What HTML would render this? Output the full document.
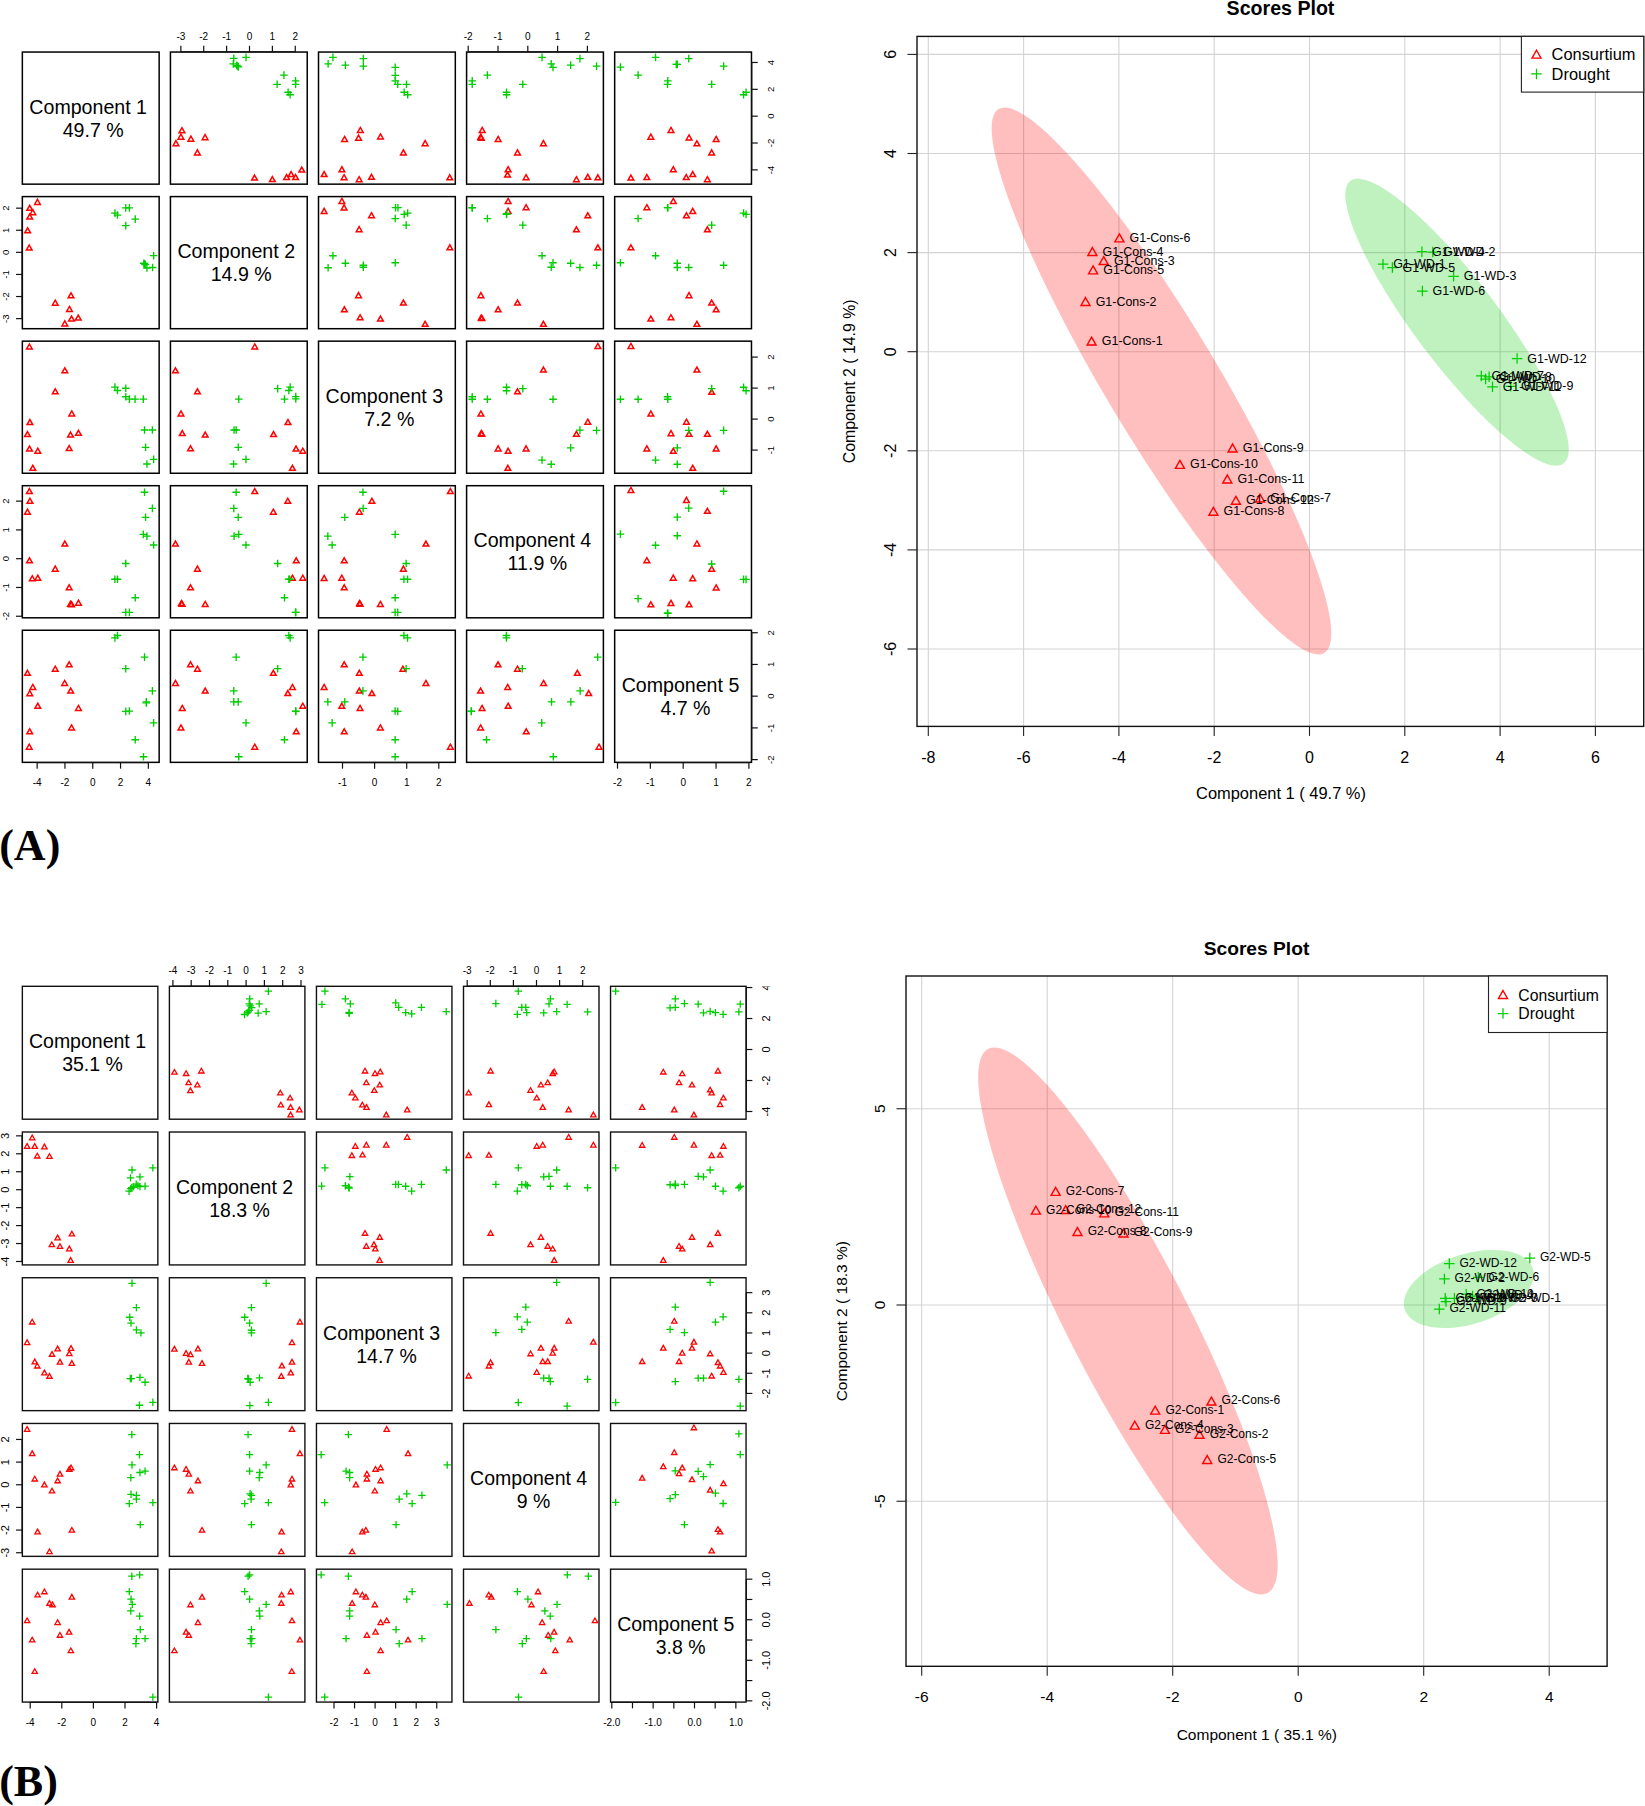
<!DOCTYPE html>
<html lang="en"><head><meta charset="utf-8"><title>Scores plots</title>
<style>html,body{margin:0;padding:0;background:#fff}svg{display:block}text{font-family:"Liberation Sans",sans-serif;fill:#000}.ser{font-family:"Liberation Serif",serif;font-weight:bold}</style></head><body>
<svg width="1645" height="1806" viewBox="0 0 1645 1806">
<rect width="1645" height="1806" fill="#fff"/>
<defs><clipPath id="clip4"><rect x="750" y="986.4" width="40" height="20"/></clipPath></defs>
<g>
<rect x="22.35" y="52.05" width="136.8" height="132.1" fill="none" stroke="#000" stroke-width="1.5"/>
<rect x="170.43" y="52.05" width="136.8" height="132.1" fill="none" stroke="#000" stroke-width="1.5"/>
<rect x="318.51" y="52.05" width="136.8" height="132.1" fill="none" stroke="#000" stroke-width="1.5"/>
<rect x="466.59" y="52.05" width="136.8" height="132.1" fill="none" stroke="#000" stroke-width="1.5"/>
<rect x="614.67" y="52.05" width="136.8" height="132.1" fill="none" stroke="#000" stroke-width="1.5"/>
<rect x="22.35" y="196.6" width="136.8" height="132.1" fill="none" stroke="#000" stroke-width="1.5"/>
<rect x="170.43" y="196.6" width="136.8" height="132.1" fill="none" stroke="#000" stroke-width="1.5"/>
<rect x="318.51" y="196.6" width="136.8" height="132.1" fill="none" stroke="#000" stroke-width="1.5"/>
<rect x="466.59" y="196.6" width="136.8" height="132.1" fill="none" stroke="#000" stroke-width="1.5"/>
<rect x="614.67" y="196.6" width="136.8" height="132.1" fill="none" stroke="#000" stroke-width="1.5"/>
<rect x="22.35" y="341.15" width="136.8" height="132.1" fill="none" stroke="#000" stroke-width="1.5"/>
<rect x="170.43" y="341.15" width="136.8" height="132.1" fill="none" stroke="#000" stroke-width="1.5"/>
<rect x="318.51" y="341.15" width="136.8" height="132.1" fill="none" stroke="#000" stroke-width="1.5"/>
<rect x="466.59" y="341.15" width="136.8" height="132.1" fill="none" stroke="#000" stroke-width="1.5"/>
<rect x="614.67" y="341.15" width="136.8" height="132.1" fill="none" stroke="#000" stroke-width="1.5"/>
<rect x="22.35" y="485.7" width="136.8" height="132.1" fill="none" stroke="#000" stroke-width="1.5"/>
<rect x="170.43" y="485.7" width="136.8" height="132.1" fill="none" stroke="#000" stroke-width="1.5"/>
<rect x="318.51" y="485.7" width="136.8" height="132.1" fill="none" stroke="#000" stroke-width="1.5"/>
<rect x="466.59" y="485.7" width="136.8" height="132.1" fill="none" stroke="#000" stroke-width="1.5"/>
<rect x="614.67" y="485.7" width="136.8" height="132.1" fill="none" stroke="#000" stroke-width="1.5"/>
<rect x="22.35" y="630.25" width="136.8" height="132.1" fill="none" stroke="#000" stroke-width="1.5"/>
<rect x="170.43" y="630.25" width="136.8" height="132.1" fill="none" stroke="#000" stroke-width="1.5"/>
<rect x="318.51" y="630.25" width="136.8" height="132.1" fill="none" stroke="#000" stroke-width="1.5"/>
<rect x="466.59" y="630.25" width="136.8" height="132.1" fill="none" stroke="#000" stroke-width="1.5"/>
<rect x="614.67" y="630.25" width="136.8" height="132.1" fill="none" stroke="#000" stroke-width="1.5"/>
<text x="88.15" y="113.5" font-size="19.6" text-anchor="middle" fill="#111">Component 1</text>
<text x="93.15" y="136.5" font-size="19.6" text-anchor="middle" fill="#111">49.7 %</text>
<text x="236.23" y="258.05" font-size="19.6" text-anchor="middle" fill="#111">Component 2</text>
<text x="241.23" y="281.05" font-size="19.6" text-anchor="middle" fill="#111">14.9 %</text>
<text x="384.31" y="402.6" font-size="19.6" text-anchor="middle" fill="#111">Component 3</text>
<text x="389.31" y="425.6" font-size="19.6" text-anchor="middle" fill="#111">7.2 %</text>
<text x="532.39" y="547.15" font-size="19.6" text-anchor="middle" fill="#111">Component 4</text>
<text x="537.39" y="570.15" font-size="19.6" text-anchor="middle" fill="#111">11.9 %</text>
<text x="680.47" y="691.7" font-size="19.6" text-anchor="middle" fill="#111">Component 5</text>
<text x="685.47" y="714.7" font-size="19.6" text-anchor="middle" fill="#111">4.7 %</text>
<path d="M181.93 127.66L184.78 132.68L179.08 132.68Z" fill="none" stroke="#ff0000" stroke-width="1.5" stroke-linejoin="miter"/>
<path d="M78.25 315.09L81.1 320.11L75.4 320.11Z" fill="none" stroke="#ff0000" stroke-width="1.5" stroke-linejoin="miter"/>
<path d="M180.93 134.14L183.78 139.16L178.08 139.16Z" fill="none" stroke="#ff0000" stroke-width="1.5" stroke-linejoin="miter"/>
<path d="M71.54 316.05L74.39 321.07L68.69 321.07Z" fill="none" stroke="#ff0000" stroke-width="1.5" stroke-linejoin="miter"/>
<path d="M190.9 136.14L193.75 141.15L188.05 141.15Z" fill="none" stroke="#ff0000" stroke-width="1.5" stroke-linejoin="miter"/>
<path d="M69.47 306.43L72.32 311.44L66.62 311.44Z" fill="none" stroke="#ff0000" stroke-width="1.5" stroke-linejoin="miter"/>
<path d="M205.06 134.64L207.91 139.66L202.21 139.66Z" fill="none" stroke="#ff0000" stroke-width="1.5" stroke-linejoin="miter"/>
<path d="M71.02 292.76L73.87 297.77L68.17 297.77Z" fill="none" stroke="#ff0000" stroke-width="1.5" stroke-linejoin="miter"/>
<path d="M175.94 140.62L178.79 145.64L173.09 145.64Z" fill="none" stroke="#ff0000" stroke-width="1.5" stroke-linejoin="miter"/>
<path d="M64.83 320.87L67.68 325.88L61.98 325.88Z" fill="none" stroke="#ff0000" stroke-width="1.5" stroke-linejoin="miter"/>
<path d="M197.38 149.89L200.23 154.91L194.53 154.91Z" fill="none" stroke="#ff0000" stroke-width="1.5" stroke-linejoin="miter"/>
<path d="M55.23 300.17L58.08 305.19L52.38 305.19Z" fill="none" stroke="#ff0000" stroke-width="1.5" stroke-linejoin="miter"/>
<path d="M254.51 175.02L257.36 180.04L251.66 180.04Z" fill="none" stroke="#ff0000" stroke-width="1.5" stroke-linejoin="miter"/>
<path d="M29.21 245L32.06 250.02L26.36 250.02Z" fill="none" stroke="#ff0000" stroke-width="1.5" stroke-linejoin="miter"/>
<path d="M272.35 176.51L275.2 181.53L269.5 181.53Z" fill="none" stroke="#ff0000" stroke-width="1.5" stroke-linejoin="miter"/>
<path d="M27.66 227.77L30.51 232.79L24.81 232.79Z" fill="none" stroke="#ff0000" stroke-width="1.5" stroke-linejoin="miter"/>
<path d="M286.61 174.52L289.46 179.54L283.76 179.54Z" fill="none" stroke="#ff0000" stroke-width="1.5" stroke-linejoin="miter"/>
<path d="M29.72 214L32.57 219.02L26.87 219.02Z" fill="none" stroke="#ff0000" stroke-width="1.5" stroke-linejoin="miter"/>
<path d="M291.1 171.53L293.95 176.55L288.25 176.55Z" fill="none" stroke="#ff0000" stroke-width="1.5" stroke-linejoin="miter"/>
<path d="M32.82 209.67L35.67 214.69L29.97 214.69Z" fill="none" stroke="#ff0000" stroke-width="1.5" stroke-linejoin="miter"/>
<path d="M295.58 174.52L298.43 179.54L292.73 179.54Z" fill="none" stroke="#ff0000" stroke-width="1.5" stroke-linejoin="miter"/>
<path d="M29.72 205.34L32.57 210.35L26.87 210.35Z" fill="none" stroke="#ff0000" stroke-width="1.5" stroke-linejoin="miter"/>
<path d="M301.77 167.04L304.62 172.06L298.92 172.06Z" fill="none" stroke="#ff0000" stroke-width="1.5" stroke-linejoin="miter"/>
<path d="M37.47 199.37L40.32 204.38L34.62 204.38Z" fill="none" stroke="#ff0000" stroke-width="1.5" stroke-linejoin="miter"/>
<path d="M229.97 58.38H237.57M233.77 54.58V62.18" fill="none" stroke="#00cd00" stroke-width="1.35"/>
<path d="M148.79 267.54H156.39M152.59 263.74V271.34" fill="none" stroke="#00cd00" stroke-width="1.35"/>
<path d="M242.23 57.39H249.83M246.03 53.59V61.19" fill="none" stroke="#00cd00" stroke-width="1.35"/>
<path d="M149.82 255.69H157.42M153.62 251.89V259.49" fill="none" stroke="#00cd00" stroke-width="1.35"/>
<path d="M229.47 63.87H237.07M233.27 60.07V67.67" fill="none" stroke="#00cd00" stroke-width="1.35"/>
<path d="M143.11 268.02H150.71M146.91 264.22V271.82" fill="none" stroke="#00cd00" stroke-width="1.35"/>
<path d="M232.96 65.36H240.56M236.76 61.56V69.16" fill="none" stroke="#00cd00" stroke-width="1.35"/>
<path d="M141.56 264.65H149.16M145.36 260.85V268.45" fill="none" stroke="#00cd00" stroke-width="1.35"/>
<path d="M234.46 66.86H242.06M238.26 63.06V70.66" fill="none" stroke="#00cd00" stroke-width="1.35"/>
<path d="M140.01 263.2H147.61M143.81 259.4V267" fill="none" stroke="#00cd00" stroke-width="1.35"/>
<path d="M233.76 66.06H241.36M237.56 62.26V69.86" fill="none" stroke="#00cd00" stroke-width="1.35"/>
<path d="M140.84 263.88H148.44M144.64 260.08V267.68" fill="none" stroke="#00cd00" stroke-width="1.35"/>
<path d="M280.12 75.13H287.72M283.92 71.33V78.93" fill="none" stroke="#00cd00" stroke-width="1.35"/>
<path d="M131.44 219.11H139.04M135.24 215.31V222.91" fill="none" stroke="#00cd00" stroke-width="1.35"/>
<path d="M291.78 80.82H299.38M295.58 77.02V84.62" fill="none" stroke="#00cd00" stroke-width="1.35"/>
<path d="M125.56 207.85H133.16M129.36 204.05V211.65" fill="none" stroke="#00cd00" stroke-width="1.35"/>
<path d="M273.34 84.31H280.94M277.14 80.51V88.11" fill="none" stroke="#00cd00" stroke-width="1.35"/>
<path d="M121.95 225.66H129.55M125.75 221.86V229.46" fill="none" stroke="#00cd00" stroke-width="1.35"/>
<path d="M291.78 84.31H299.38M295.58 80.51V88.11" fill="none" stroke="#00cd00" stroke-width="1.35"/>
<path d="M121.95 207.85H129.55M125.75 204.05V211.65" fill="none" stroke="#00cd00" stroke-width="1.35"/>
<path d="M284.31 92.28H291.91M288.11 88.48V96.08" fill="none" stroke="#00cd00" stroke-width="1.35"/>
<path d="M113.69 215.07H121.29M117.49 211.27V218.87" fill="none" stroke="#00cd00" stroke-width="1.35"/>
<path d="M286.3 94.78H293.9M290.1 90.98V98.58" fill="none" stroke="#00cd00" stroke-width="1.35"/>
<path d="M111.1 213.14H118.7M114.9 209.34V216.94" fill="none" stroke="#00cd00" stroke-width="1.35"/>
<path d="M360.33 127.46L363.18 132.48L357.48 132.48Z" fill="none" stroke="#ff0000" stroke-width="1.5" stroke-linejoin="miter"/>
<path d="M78.46 430.35L81.31 435.37L75.61 435.37Z" fill="none" stroke="#ff0000" stroke-width="1.5" stroke-linejoin="miter"/>
<path d="M344.58 136.44L347.43 141.45L341.73 141.45Z" fill="none" stroke="#ff0000" stroke-width="1.5" stroke-linejoin="miter"/>
<path d="M69.17 445.57L72.02 450.58L66.32 450.58Z" fill="none" stroke="#ff0000" stroke-width="1.5" stroke-linejoin="miter"/>
<path d="M358.54 135.14L361.39 140.16L355.69 140.16Z" fill="none" stroke="#ff0000" stroke-width="1.5" stroke-linejoin="miter"/>
<path d="M70.51 432.09L73.36 437.1L67.66 437.1Z" fill="none" stroke="#ff0000" stroke-width="1.5" stroke-linejoin="miter"/>
<path d="M380.47 133.94L383.32 138.96L377.62 138.96Z" fill="none" stroke="#ff0000" stroke-width="1.5" stroke-linejoin="miter"/>
<path d="M71.75 410.91L74.6 415.92L68.9 415.92Z" fill="none" stroke="#ff0000" stroke-width="1.5" stroke-linejoin="miter"/>
<path d="M425.14 140.62L427.99 145.64L422.29 145.64Z" fill="none" stroke="#ff0000" stroke-width="1.5" stroke-linejoin="miter"/>
<path d="M64.83 367.78L67.68 372.79L61.98 372.79Z" fill="none" stroke="#ff0000" stroke-width="1.5" stroke-linejoin="miter"/>
<path d="M403.4 149.89L406.25 154.91L400.55 154.91Z" fill="none" stroke="#ff0000" stroke-width="1.5" stroke-linejoin="miter"/>
<path d="M55.23 388.76L58.08 393.78L52.38 393.78Z" fill="none" stroke="#ff0000" stroke-width="1.5" stroke-linejoin="miter"/>
<path d="M341.89 166.74L344.74 171.76L339.04 171.76Z" fill="none" stroke="#ff0000" stroke-width="1.5" stroke-linejoin="miter"/>
<path d="M37.78 448.17L40.63 453.18L34.93 453.18Z" fill="none" stroke="#ff0000" stroke-width="1.5" stroke-linejoin="miter"/>
<path d="M324.14 171.53L326.99 176.55L321.29 176.55Z" fill="none" stroke="#ff0000" stroke-width="1.5" stroke-linejoin="miter"/>
<path d="M32.82 465.3L35.67 470.32L29.97 470.32Z" fill="none" stroke="#ff0000" stroke-width="1.5" stroke-linejoin="miter"/>
<path d="M344.08 174.72L346.93 179.74L341.23 179.74Z" fill="none" stroke="#ff0000" stroke-width="1.5" stroke-linejoin="miter"/>
<path d="M29.52 446.05L32.37 451.06L26.67 451.06Z" fill="none" stroke="#ff0000" stroke-width="1.5" stroke-linejoin="miter"/>
<path d="M359.14 176.71L361.99 181.73L356.29 181.73Z" fill="none" stroke="#ff0000" stroke-width="1.5" stroke-linejoin="miter"/>
<path d="M27.45 431.51L30.3 436.53L24.6 436.53Z" fill="none" stroke="#ff0000" stroke-width="1.5" stroke-linejoin="miter"/>
<path d="M371.5 174.32L374.35 179.34L368.65 179.34Z" fill="none" stroke="#ff0000" stroke-width="1.5" stroke-linejoin="miter"/>
<path d="M29.93 419.57L32.78 424.59L27.08 424.59Z" fill="none" stroke="#ff0000" stroke-width="1.5" stroke-linejoin="miter"/>
<path d="M449.77 174.82L452.62 179.84L446.92 179.84Z" fill="none" stroke="#ff0000" stroke-width="1.5" stroke-linejoin="miter"/>
<path d="M29.41 344L32.26 349.01L26.56 349.01Z" fill="none" stroke="#ff0000" stroke-width="1.5" stroke-linejoin="miter"/>
<path d="M329.12 57.39H336.72M332.92 53.59V61.19" fill="none" stroke="#00cd00" stroke-width="1.35"/>
<path d="M149.82 459.34H157.42M153.62 455.54V463.14" fill="none" stroke="#00cd00" stroke-width="1.35"/>
<path d="M324.33 63.87H331.93M328.13 60.07V67.67" fill="none" stroke="#00cd00" stroke-width="1.35"/>
<path d="M143.11 463.96H150.71M146.91 460.16V467.76" fill="none" stroke="#00cd00" stroke-width="1.35"/>
<path d="M341.58 65.16H349.18M345.38 61.36V68.96" fill="none" stroke="#00cd00" stroke-width="1.35"/>
<path d="M141.77 447.3H149.37M145.57 443.5V451.1" fill="none" stroke="#00cd00" stroke-width="1.35"/>
<path d="M359.53 58.58H367.13M363.33 54.78V62.38" fill="none" stroke="#00cd00" stroke-width="1.35"/>
<path d="M148.58 429.97H156.18M152.38 426.17V433.77" fill="none" stroke="#00cd00" stroke-width="1.35"/>
<path d="M359.53 66.16H367.13M363.33 62.36V69.96" fill="none" stroke="#00cd00" stroke-width="1.35"/>
<path d="M140.74 429.97H148.34M144.54 426.17V433.77" fill="none" stroke="#00cd00" stroke-width="1.35"/>
<path d="M391.43 67.36H399.03M395.23 63.56V71.16" fill="none" stroke="#00cd00" stroke-width="1.35"/>
<path d="M139.5 399.17H147.1M143.3 395.37V402.97" fill="none" stroke="#00cd00" stroke-width="1.35"/>
<path d="M391.43 75.33H399.03M395.23 71.53V79.13" fill="none" stroke="#00cd00" stroke-width="1.35"/>
<path d="M131.24 399.17H138.84M135.04 395.37V402.97" fill="none" stroke="#00cd00" stroke-width="1.35"/>
<path d="M391.43 80.82H399.03M395.23 77.02V84.62" fill="none" stroke="#00cd00" stroke-width="1.35"/>
<path d="M125.56 399.17H133.16M129.36 395.37V402.97" fill="none" stroke="#00cd00" stroke-width="1.35"/>
<path d="M393.92 84.31H401.52M397.72 80.51V88.11" fill="none" stroke="#00cd00" stroke-width="1.35"/>
<path d="M121.95 396.76H129.55M125.75 392.96V400.56" fill="none" stroke="#00cd00" stroke-width="1.35"/>
<path d="M402.7 84.31H410.3M406.5 80.51V88.11" fill="none" stroke="#00cd00" stroke-width="1.35"/>
<path d="M121.95 388.29H129.55M125.75 384.49V392.09" fill="none" stroke="#00cd00" stroke-width="1.35"/>
<path d="M400.4 92.28H408M404.2 88.48V96.08" fill="none" stroke="#00cd00" stroke-width="1.35"/>
<path d="M113.69 390.5H121.29M117.49 386.7V394.3" fill="none" stroke="#00cd00" stroke-width="1.35"/>
<path d="M403.89 94.78H411.49M407.69 90.98V98.58" fill="none" stroke="#00cd00" stroke-width="1.35"/>
<path d="M111.1 387.13H118.7M114.9 383.33V390.93" fill="none" stroke="#00cd00" stroke-width="1.35"/>
<path d="M482.21 127.46L485.06 132.48L479.36 132.48Z" fill="none" stroke="#ff0000" stroke-width="1.5" stroke-linejoin="miter"/>
<path d="M78.46 600.21L81.31 605.22L75.61 605.22Z" fill="none" stroke="#ff0000" stroke-width="1.5" stroke-linejoin="miter"/>
<path d="M480.72 134.14L483.57 139.16L477.87 139.16Z" fill="none" stroke="#ff0000" stroke-width="1.5" stroke-linejoin="miter"/>
<path d="M71.54 601.65L74.39 606.67L68.69 606.67Z" fill="none" stroke="#ff0000" stroke-width="1.5" stroke-linejoin="miter"/>
<path d="M481.22 135.14L484.07 140.16L478.37 140.16Z" fill="none" stroke="#ff0000" stroke-width="1.5" stroke-linejoin="miter"/>
<path d="M70.51 601.17L73.36 606.19L67.66 606.19Z" fill="none" stroke="#ff0000" stroke-width="1.5" stroke-linejoin="miter"/>
<path d="M498.16 136.44L501.01 141.45L495.31 141.45Z" fill="none" stroke="#ff0000" stroke-width="1.5" stroke-linejoin="miter"/>
<path d="M69.17 584.8L72.02 589.82L66.32 589.82Z" fill="none" stroke="#ff0000" stroke-width="1.5" stroke-linejoin="miter"/>
<path d="M543.43 140.62L546.28 145.64L540.58 145.64Z" fill="none" stroke="#ff0000" stroke-width="1.5" stroke-linejoin="miter"/>
<path d="M64.83 541.09L67.68 546.11L61.98 546.11Z" fill="none" stroke="#ff0000" stroke-width="1.5" stroke-linejoin="miter"/>
<path d="M517.51 149.89L520.36 154.91L514.66 154.91Z" fill="none" stroke="#ff0000" stroke-width="1.5" stroke-linejoin="miter"/>
<path d="M55.23 566.12L58.08 571.14L52.38 571.14Z" fill="none" stroke="#ff0000" stroke-width="1.5" stroke-linejoin="miter"/>
<path d="M508.13 166.74L510.98 171.76L505.28 171.76Z" fill="none" stroke="#ff0000" stroke-width="1.5" stroke-linejoin="miter"/>
<path d="M37.78 575.17L40.63 580.19L34.93 580.19Z" fill="none" stroke="#ff0000" stroke-width="1.5" stroke-linejoin="miter"/>
<path d="M507.54 172.03L510.39 177.04L504.69 177.04Z" fill="none" stroke="#ff0000" stroke-width="1.5" stroke-linejoin="miter"/>
<path d="M32.31 575.75L35.16 580.77L29.46 580.77Z" fill="none" stroke="#ff0000" stroke-width="1.5" stroke-linejoin="miter"/>
<path d="M526.08 174.72L528.93 179.74L523.23 179.74Z" fill="none" stroke="#ff0000" stroke-width="1.5" stroke-linejoin="miter"/>
<path d="M29.52 557.85L32.37 562.86L26.67 562.86Z" fill="none" stroke="#ff0000" stroke-width="1.5" stroke-linejoin="miter"/>
<path d="M576.43 176.71L579.28 181.73L573.58 181.73Z" fill="none" stroke="#ff0000" stroke-width="1.5" stroke-linejoin="miter"/>
<path d="M27.45 509.23L30.3 514.24L24.6 514.24Z" fill="none" stroke="#ff0000" stroke-width="1.5" stroke-linejoin="miter"/>
<path d="M587.8 174.32L590.65 179.34L584.95 179.34Z" fill="none" stroke="#ff0000" stroke-width="1.5" stroke-linejoin="miter"/>
<path d="M29.93 498.25L32.78 503.27L27.08 503.27Z" fill="none" stroke="#ff0000" stroke-width="1.5" stroke-linejoin="miter"/>
<path d="M597.87 174.82L600.72 179.84L595.02 179.84Z" fill="none" stroke="#ff0000" stroke-width="1.5" stroke-linejoin="miter"/>
<path d="M29.41 488.53L32.26 493.54L26.56 493.54Z" fill="none" stroke="#ff0000" stroke-width="1.5" stroke-linejoin="miter"/>
<path d="M538.23 57.39H545.83M542.03 53.59V61.19" fill="none" stroke="#00cd00" stroke-width="1.35"/>
<path d="M149.82 544.95H157.42M153.62 541.15V548.75" fill="none" stroke="#00cd00" stroke-width="1.35"/>
<path d="M547.41 63.87H555.01M551.21 60.07V67.67" fill="none" stroke="#00cd00" stroke-width="1.35"/>
<path d="M143.11 536.09H150.71M146.91 532.29V539.89" fill="none" stroke="#00cd00" stroke-width="1.35"/>
<path d="M549.2 67.36H556.8M553 63.56V71.16" fill="none" stroke="#00cd00" stroke-width="1.35"/>
<path d="M139.5 534.36H147.1M143.3 530.56V538.16" fill="none" stroke="#00cd00" stroke-width="1.35"/>
<path d="M566.85 65.16H574.45M570.65 61.36V68.96" fill="none" stroke="#00cd00" stroke-width="1.35"/>
<path d="M141.77 517.32H149.37M145.57 513.52V521.12" fill="none" stroke="#00cd00" stroke-width="1.35"/>
<path d="M576.12 58.58H583.72M579.92 54.78V62.38" fill="none" stroke="#00cd00" stroke-width="1.35"/>
<path d="M148.58 508.36H156.18M152.38 504.56V512.16" fill="none" stroke="#00cd00" stroke-width="1.35"/>
<path d="M592.77 66.16H600.37M596.57 62.36V69.96" fill="none" stroke="#00cd00" stroke-width="1.35"/>
<path d="M140.74 492.29H148.34M144.54 488.49V496.09" fill="none" stroke="#00cd00" stroke-width="1.35"/>
<path d="M483.6 75.13H491.2M487.4 71.33V78.93" fill="none" stroke="#00cd00" stroke-width="1.35"/>
<path d="M131.44 597.71H139.04M135.24 593.91V601.51" fill="none" stroke="#00cd00" stroke-width="1.35"/>
<path d="M468.44 80.82H476.04M472.24 77.02V84.62" fill="none" stroke="#00cd00" stroke-width="1.35"/>
<path d="M125.56 612.34H133.16M129.36 608.54V616.14" fill="none" stroke="#00cd00" stroke-width="1.35"/>
<path d="M468.44 84.31H476.04M472.24 80.51V88.11" fill="none" stroke="#00cd00" stroke-width="1.35"/>
<path d="M121.95 612.34H129.55M125.75 608.54V616.14" fill="none" stroke="#00cd00" stroke-width="1.35"/>
<path d="M518.99 84.31H526.59M522.79 80.51V88.11" fill="none" stroke="#00cd00" stroke-width="1.35"/>
<path d="M121.95 563.53H129.55M125.75 559.73V567.33" fill="none" stroke="#00cd00" stroke-width="1.35"/>
<path d="M502.74 92.28H510.34M506.54 88.48V96.08" fill="none" stroke="#00cd00" stroke-width="1.35"/>
<path d="M113.69 579.22H121.29M117.49 575.42V583.02" fill="none" stroke="#00cd00" stroke-width="1.35"/>
<path d="M502.74 94.78H510.34M506.54 90.98V98.58" fill="none" stroke="#00cd00" stroke-width="1.35"/>
<path d="M111.1 579.22H118.7M114.9 575.42V583.02" fill="none" stroke="#00cd00" stroke-width="1.35"/>
<path d="M670.99 127.46L673.84 132.48L668.14 132.48Z" fill="none" stroke="#ff0000" stroke-width="1.5" stroke-linejoin="miter"/>
<path d="M78.46 705.46L81.31 710.47L75.61 710.47Z" fill="none" stroke="#ff0000" stroke-width="1.5" stroke-linejoin="miter"/>
<path d="M650.85 134.14L653.7 139.16L648 139.16Z" fill="none" stroke="#ff0000" stroke-width="1.5" stroke-linejoin="miter"/>
<path d="M71.54 724.9L74.39 729.92L68.69 729.92Z" fill="none" stroke="#ff0000" stroke-width="1.5" stroke-linejoin="miter"/>
<path d="M689.04 134.94L691.89 139.96L686.19 139.96Z" fill="none" stroke="#ff0000" stroke-width="1.5" stroke-linejoin="miter"/>
<path d="M70.71 688.03L73.56 693.05L67.86 693.05Z" fill="none" stroke="#ff0000" stroke-width="1.5" stroke-linejoin="miter"/>
<path d="M696.91 140.82L699.76 145.84L694.06 145.84Z" fill="none" stroke="#ff0000" stroke-width="1.5" stroke-linejoin="miter"/>
<path d="M64.62 680.43L67.47 685.44L61.77 685.44Z" fill="none" stroke="#ff0000" stroke-width="1.5" stroke-linejoin="miter"/>
<path d="M716.15 136.44L719 141.45L713.3 141.45Z" fill="none" stroke="#ff0000" stroke-width="1.5" stroke-linejoin="miter"/>
<path d="M69.17 661.84L72.02 666.86L66.32 666.86Z" fill="none" stroke="#ff0000" stroke-width="1.5" stroke-linejoin="miter"/>
<path d="M711.67 149.89L714.52 154.91L708.82 154.91Z" fill="none" stroke="#ff0000" stroke-width="1.5" stroke-linejoin="miter"/>
<path d="M55.23 666.18L58.08 671.19L52.38 671.19Z" fill="none" stroke="#ff0000" stroke-width="1.5" stroke-linejoin="miter"/>
<path d="M673.28 166.74L676.13 171.76L670.43 171.76Z" fill="none" stroke="#ff0000" stroke-width="1.5" stroke-linejoin="miter"/>
<path d="M37.78 703.24L40.63 708.26L34.93 708.26Z" fill="none" stroke="#ff0000" stroke-width="1.5" stroke-linejoin="miter"/>
<path d="M692.72 171.53L695.57 176.55L689.87 176.55Z" fill="none" stroke="#ff0000" stroke-width="1.5" stroke-linejoin="miter"/>
<path d="M32.82 684.47L35.67 689.48L29.97 689.48Z" fill="none" stroke="#ff0000" stroke-width="1.5" stroke-linejoin="miter"/>
<path d="M630.91 175.02L633.76 180.04L628.06 180.04Z" fill="none" stroke="#ff0000" stroke-width="1.5" stroke-linejoin="miter"/>
<path d="M29.21 744.16L32.06 749.18L26.36 749.18Z" fill="none" stroke="#ff0000" stroke-width="1.5" stroke-linejoin="miter"/>
<path d="M646.86 174.52L649.71 179.54L644.01 179.54Z" fill="none" stroke="#ff0000" stroke-width="1.5" stroke-linejoin="miter"/>
<path d="M29.72 728.76L32.57 733.77L26.87 733.77Z" fill="none" stroke="#ff0000" stroke-width="1.5" stroke-linejoin="miter"/>
<path d="M686.24 174.52L689.09 179.54L683.39 179.54Z" fill="none" stroke="#ff0000" stroke-width="1.5" stroke-linejoin="miter"/>
<path d="M29.72 690.73L32.57 695.74L26.87 695.74Z" fill="none" stroke="#ff0000" stroke-width="1.5" stroke-linejoin="miter"/>
<path d="M707.38 176.71L710.23 181.73L704.53 181.73Z" fill="none" stroke="#ff0000" stroke-width="1.5" stroke-linejoin="miter"/>
<path d="M27.45 670.32L30.3 675.33L24.6 675.33Z" fill="none" stroke="#ff0000" stroke-width="1.5" stroke-linejoin="miter"/>
<path d="M651.74 57.39H659.34M655.54 53.59V61.19" fill="none" stroke="#00cd00" stroke-width="1.35"/>
<path d="M149.82 722.89H157.42M153.62 719.09V726.69" fill="none" stroke="#00cd00" stroke-width="1.35"/>
<path d="M616.64 67.16H624.24M620.44 63.36V70.96" fill="none" stroke="#00cd00" stroke-width="1.35"/>
<path d="M139.7 756.78H147.3M143.5 752.98V760.58" fill="none" stroke="#00cd00" stroke-width="1.35"/>
<path d="M673.47 64.37H681.07M677.27 60.57V68.17" fill="none" stroke="#00cd00" stroke-width="1.35"/>
<path d="M142.59 701.9H150.19M146.39 698.1V705.7" fill="none" stroke="#00cd00" stroke-width="1.35"/>
<path d="M672.47 64.37H680.07M676.27 60.57V68.17" fill="none" stroke="#00cd00" stroke-width="1.35"/>
<path d="M142.59 702.86H150.19M146.39 699.06V706.66" fill="none" stroke="#00cd00" stroke-width="1.35"/>
<path d="M684.94 58.58H692.54M688.74 54.78V62.38" fill="none" stroke="#00cd00" stroke-width="1.35"/>
<path d="M148.58 690.83H156.18M152.38 687.03V694.63" fill="none" stroke="#00cd00" stroke-width="1.35"/>
<path d="M719.83 66.16H727.43M723.63 62.36V69.96" fill="none" stroke="#00cd00" stroke-width="1.35"/>
<path d="M140.74 657.13H148.34M144.54 653.33V660.93" fill="none" stroke="#00cd00" stroke-width="1.35"/>
<path d="M634.29 75.13H641.89M638.09 71.33V78.93" fill="none" stroke="#00cd00" stroke-width="1.35"/>
<path d="M131.44 739.74H139.04M135.24 735.94V743.54" fill="none" stroke="#00cd00" stroke-width="1.35"/>
<path d="M664 80.82H671.6M667.8 77.02V84.62" fill="none" stroke="#00cd00" stroke-width="1.35"/>
<path d="M125.56 711.05H133.16M129.36 707.25V714.85" fill="none" stroke="#00cd00" stroke-width="1.35"/>
<path d="M663.7 84.31H671.3M667.5 80.51V88.11" fill="none" stroke="#00cd00" stroke-width="1.35"/>
<path d="M121.95 711.33H129.55M125.75 707.53V715.13" fill="none" stroke="#00cd00" stroke-width="1.35"/>
<path d="M707.87 84.31H715.47M711.67 80.51V88.11" fill="none" stroke="#00cd00" stroke-width="1.35"/>
<path d="M121.95 668.68H129.55M125.75 664.88V672.48" fill="none" stroke="#00cd00" stroke-width="1.35"/>
<path d="M742.26 92.28H749.86M746.06 88.48V96.08" fill="none" stroke="#00cd00" stroke-width="1.35"/>
<path d="M113.69 635.47H121.29M117.49 631.67V639.27" fill="none" stroke="#00cd00" stroke-width="1.35"/>
<path d="M739.77 94.78H747.37M743.57 90.98V98.58" fill="none" stroke="#00cd00" stroke-width="1.35"/>
<path d="M111.1 637.88H118.7M114.9 634.08V641.68" fill="none" stroke="#00cd00" stroke-width="1.35"/>
<path d="M341.89 198.4L344.74 203.42L339.04 203.42Z" fill="none" stroke="#ff0000" stroke-width="1.5" stroke-linejoin="miter"/>
<path d="M302.77 448.17L305.62 453.18L299.92 453.18Z" fill="none" stroke="#ff0000" stroke-width="1.5" stroke-linejoin="miter"/>
<path d="M344.08 204.88L346.93 209.9L341.23 209.9Z" fill="none" stroke="#ff0000" stroke-width="1.5" stroke-linejoin="miter"/>
<path d="M296.06 446.05L298.91 451.06L293.21 451.06Z" fill="none" stroke="#ff0000" stroke-width="1.5" stroke-linejoin="miter"/>
<path d="M324.14 208.37L326.99 213.39L321.29 213.39Z" fill="none" stroke="#ff0000" stroke-width="1.5" stroke-linejoin="miter"/>
<path d="M292.44 465.3L295.29 470.32L289.59 470.32Z" fill="none" stroke="#ff0000" stroke-width="1.5" stroke-linejoin="miter"/>
<path d="M371.5 212.66L374.35 217.67L368.65 217.67Z" fill="none" stroke="#ff0000" stroke-width="1.5" stroke-linejoin="miter"/>
<path d="M288 419.57L290.85 424.59L285.15 424.59Z" fill="none" stroke="#ff0000" stroke-width="1.5" stroke-linejoin="miter"/>
<path d="M359.14 226.61L361.99 231.63L356.29 231.63Z" fill="none" stroke="#ff0000" stroke-width="1.5" stroke-linejoin="miter"/>
<path d="M273.55 431.51L276.4 436.53L270.7 436.53Z" fill="none" stroke="#ff0000" stroke-width="1.5" stroke-linejoin="miter"/>
<path d="M449.87 244.76L452.72 249.78L447.02 249.78Z" fill="none" stroke="#ff0000" stroke-width="1.5" stroke-linejoin="miter"/>
<path d="M254.76 343.9L257.61 348.92L251.91 348.92Z" fill="none" stroke="#ff0000" stroke-width="1.5" stroke-linejoin="miter"/>
<path d="M358.54 292.62L361.39 297.63L355.69 297.63Z" fill="none" stroke="#ff0000" stroke-width="1.5" stroke-linejoin="miter"/>
<path d="M205.2 432.09L208.05 437.1L202.35 437.1Z" fill="none" stroke="#ff0000" stroke-width="1.5" stroke-linejoin="miter"/>
<path d="M403.4 300.09L406.25 305.11L400.55 305.11Z" fill="none" stroke="#ff0000" stroke-width="1.5" stroke-linejoin="miter"/>
<path d="M197.46 388.76L200.31 393.78L194.61 393.78Z" fill="none" stroke="#ff0000" stroke-width="1.5" stroke-linejoin="miter"/>
<path d="M344.38 306.77L347.23 311.79L341.53 311.79Z" fill="none" stroke="#ff0000" stroke-width="1.5" stroke-linejoin="miter"/>
<path d="M190.54 445.76L193.39 450.78L187.69 450.78Z" fill="none" stroke="#ff0000" stroke-width="1.5" stroke-linejoin="miter"/>
<path d="M360.13 314.75L362.98 319.77L357.28 319.77Z" fill="none" stroke="#ff0000" stroke-width="1.5" stroke-linejoin="miter"/>
<path d="M182.28 430.55L185.13 435.56L179.43 435.56Z" fill="none" stroke="#ff0000" stroke-width="1.5" stroke-linejoin="miter"/>
<path d="M380.47 316.05L383.32 321.06L377.62 321.06Z" fill="none" stroke="#ff0000" stroke-width="1.5" stroke-linejoin="miter"/>
<path d="M180.94 410.91L183.79 415.92L178.09 415.92Z" fill="none" stroke="#ff0000" stroke-width="1.5" stroke-linejoin="miter"/>
<path d="M425.14 321.33L427.99 326.35L422.29 326.35Z" fill="none" stroke="#ff0000" stroke-width="1.5" stroke-linejoin="miter"/>
<path d="M175.46 367.78L178.31 372.79L172.61 372.79Z" fill="none" stroke="#ff0000" stroke-width="1.5" stroke-linejoin="miter"/>
<path d="M391.73 207.69H399.33M395.53 203.89V211.49" fill="none" stroke="#00cd00" stroke-width="1.35"/>
<path d="M291.95 398.88H299.55M295.75 395.08V402.68" fill="none" stroke="#00cd00" stroke-width="1.35"/>
<path d="M394.12 207.69H401.72M397.92 203.89V211.49" fill="none" stroke="#00cd00" stroke-width="1.35"/>
<path d="M291.95 396.57H299.55M295.75 392.77V400.37" fill="none" stroke="#00cd00" stroke-width="1.35"/>
<path d="M400.4 214.37H408M404.2 210.57V218.17" fill="none" stroke="#00cd00" stroke-width="1.35"/>
<path d="M285.03 390.5H292.63M288.83 386.7V394.3" fill="none" stroke="#00cd00" stroke-width="1.35"/>
<path d="M403.89 213.07H411.49M407.69 209.27V216.87" fill="none" stroke="#00cd00" stroke-width="1.35"/>
<path d="M286.37 387.13H293.97M290.17 383.33V390.93" fill="none" stroke="#00cd00" stroke-width="1.35"/>
<path d="M391.43 218.55H399.03M395.23 214.75V222.35" fill="none" stroke="#00cd00" stroke-width="1.35"/>
<path d="M280.69 399.17H288.29M284.49 395.37V402.97" fill="none" stroke="#00cd00" stroke-width="1.35"/>
<path d="M402.4 225.13H410M406.2 221.33V228.93" fill="none" stroke="#00cd00" stroke-width="1.35"/>
<path d="M273.88 388.58H281.48M277.68 384.78V392.38" fill="none" stroke="#00cd00" stroke-width="1.35"/>
<path d="M329.12 255.74H336.72M332.92 251.94V259.54" fill="none" stroke="#00cd00" stroke-width="1.35"/>
<path d="M242.18 459.34H249.78M245.98 455.54V463.14" fill="none" stroke="#00cd00" stroke-width="1.35"/>
<path d="M341.58 263.22H349.18M345.38 259.42V267.02" fill="none" stroke="#00cd00" stroke-width="1.35"/>
<path d="M234.44 447.3H242.04M238.24 443.5V451.1" fill="none" stroke="#00cd00" stroke-width="1.35"/>
<path d="M324.33 267.71H331.93M328.13 263.91V271.51" fill="none" stroke="#00cd00" stroke-width="1.35"/>
<path d="M229.79 463.96H237.39M233.59 460.16V467.76" fill="none" stroke="#00cd00" stroke-width="1.35"/>
<path d="M359.53 265.21H367.13M363.33 261.41V269.01" fill="none" stroke="#00cd00" stroke-width="1.35"/>
<path d="M232.37 429.97H239.97M236.17 426.17V433.77" fill="none" stroke="#00cd00" stroke-width="1.35"/>
<path d="M359.53 267.21H367.13M363.33 263.41V271.01" fill="none" stroke="#00cd00" stroke-width="1.35"/>
<path d="M230.31 429.97H237.91M234.11 426.17V433.77" fill="none" stroke="#00cd00" stroke-width="1.35"/>
<path d="M391.43 262.72H399.03M395.23 258.92V266.52" fill="none" stroke="#00cd00" stroke-width="1.35"/>
<path d="M234.96 399.17H242.56M238.76 395.37V402.97" fill="none" stroke="#00cd00" stroke-width="1.35"/>
<path d="M508.13 198.4L510.98 203.42L505.28 203.42Z" fill="none" stroke="#ff0000" stroke-width="1.5" stroke-linejoin="miter"/>
<path d="M302.77 575.17L305.62 580.19L299.92 580.19Z" fill="none" stroke="#ff0000" stroke-width="1.5" stroke-linejoin="miter"/>
<path d="M526.08 204.68L528.93 209.7L523.23 209.7Z" fill="none" stroke="#ff0000" stroke-width="1.5" stroke-linejoin="miter"/>
<path d="M296.26 557.85L299.11 562.86L293.41 562.86Z" fill="none" stroke="#ff0000" stroke-width="1.5" stroke-linejoin="miter"/>
<path d="M508.13 208.37L510.98 213.39L505.28 213.39Z" fill="none" stroke="#ff0000" stroke-width="1.5" stroke-linejoin="miter"/>
<path d="M292.44 575.17L295.29 580.19L289.59 580.19Z" fill="none" stroke="#ff0000" stroke-width="1.5" stroke-linejoin="miter"/>
<path d="M587.8 212.86L590.65 217.87L584.95 217.87Z" fill="none" stroke="#ff0000" stroke-width="1.5" stroke-linejoin="miter"/>
<path d="M287.8 498.25L290.65 503.27L284.95 503.27Z" fill="none" stroke="#ff0000" stroke-width="1.5" stroke-linejoin="miter"/>
<path d="M576.43 226.81L579.28 231.83L573.58 231.83Z" fill="none" stroke="#ff0000" stroke-width="1.5" stroke-linejoin="miter"/>
<path d="M273.34 509.23L276.19 514.24L270.49 514.24Z" fill="none" stroke="#ff0000" stroke-width="1.5" stroke-linejoin="miter"/>
<path d="M597.87 244.76L600.72 249.78L595.02 249.78Z" fill="none" stroke="#ff0000" stroke-width="1.5" stroke-linejoin="miter"/>
<path d="M254.76 488.53L257.61 493.54L251.91 493.54Z" fill="none" stroke="#ff0000" stroke-width="1.5" stroke-linejoin="miter"/>
<path d="M480.92 292.62L483.77 297.63L478.07 297.63Z" fill="none" stroke="#ff0000" stroke-width="1.5" stroke-linejoin="miter"/>
<path d="M205.2 601.46L208.05 606.47L202.35 606.47Z" fill="none" stroke="#ff0000" stroke-width="1.5" stroke-linejoin="miter"/>
<path d="M517.51 300.09L520.36 305.11L514.66 305.11Z" fill="none" stroke="#ff0000" stroke-width="1.5" stroke-linejoin="miter"/>
<path d="M197.46 566.12L200.31 571.14L194.61 571.14Z" fill="none" stroke="#ff0000" stroke-width="1.5" stroke-linejoin="miter"/>
<path d="M498.16 306.77L501.01 311.79L495.31 311.79Z" fill="none" stroke="#ff0000" stroke-width="1.5" stroke-linejoin="miter"/>
<path d="M190.54 584.8L193.39 589.82L187.69 589.82Z" fill="none" stroke="#ff0000" stroke-width="1.5" stroke-linejoin="miter"/>
<path d="M481.22 315.05L484.07 320.07L478.37 320.07Z" fill="none" stroke="#ff0000" stroke-width="1.5" stroke-linejoin="miter"/>
<path d="M181.97 601.17L184.82 606.19L179.12 606.19Z" fill="none" stroke="#ff0000" stroke-width="1.5" stroke-linejoin="miter"/>
<path d="M481.91 315.55L484.76 320.56L479.06 320.56Z" fill="none" stroke="#ff0000" stroke-width="1.5" stroke-linejoin="miter"/>
<path d="M181.45 600.5L184.3 605.51L178.6 605.51Z" fill="none" stroke="#ff0000" stroke-width="1.5" stroke-linejoin="miter"/>
<path d="M543.43 321.33L546.28 326.35L540.58 326.35Z" fill="none" stroke="#ff0000" stroke-width="1.5" stroke-linejoin="miter"/>
<path d="M175.46 541.09L178.31 546.11L172.61 546.11Z" fill="none" stroke="#ff0000" stroke-width="1.5" stroke-linejoin="miter"/>
<path d="M468.44 207.69H476.04M472.24 203.89V211.49" fill="none" stroke="#00cd00" stroke-width="1.35"/>
<path d="M291.95 612.34H299.55M295.75 608.54V616.14" fill="none" stroke="#00cd00" stroke-width="1.35"/>
<path d="M468.44 207.89H476.04M472.24 204.09V211.69" fill="none" stroke="#00cd00" stroke-width="1.35"/>
<path d="M291.74 612.34H299.34M295.54 608.54V616.14" fill="none" stroke="#00cd00" stroke-width="1.35"/>
<path d="M483.6 218.55H491.2M487.4 214.75V222.35" fill="none" stroke="#00cd00" stroke-width="1.35"/>
<path d="M280.69 597.71H288.29M284.49 593.91V601.51" fill="none" stroke="#00cd00" stroke-width="1.35"/>
<path d="M502.74 213.57H510.34M506.54 209.77V217.37" fill="none" stroke="#00cd00" stroke-width="1.35"/>
<path d="M285.86 579.22H293.46M289.66 575.42V583.02" fill="none" stroke="#00cd00" stroke-width="1.35"/>
<path d="M502.74 214.37H510.34M506.54 210.57V218.17" fill="none" stroke="#00cd00" stroke-width="1.35"/>
<path d="M285.03 579.22H292.63M288.83 575.42V583.02" fill="none" stroke="#00cd00" stroke-width="1.35"/>
<path d="M518.99 225.13H526.59M522.79 221.33V228.93" fill="none" stroke="#00cd00" stroke-width="1.35"/>
<path d="M273.88 563.53H281.48M277.68 559.73V567.33" fill="none" stroke="#00cd00" stroke-width="1.35"/>
<path d="M538.23 255.74H545.83M542.03 251.94V259.54" fill="none" stroke="#00cd00" stroke-width="1.35"/>
<path d="M242.18 544.95H249.78M245.98 541.15V548.75" fill="none" stroke="#00cd00" stroke-width="1.35"/>
<path d="M549.2 262.72H556.8M553 258.92V266.52" fill="none" stroke="#00cd00" stroke-width="1.35"/>
<path d="M234.96 534.36H242.56M238.76 530.56V538.16" fill="none" stroke="#00cd00" stroke-width="1.35"/>
<path d="M547.41 267.21H555.01M551.21 263.41V271.01" fill="none" stroke="#00cd00" stroke-width="1.35"/>
<path d="M230.31 536.09H237.91M234.11 532.29V539.89" fill="none" stroke="#00cd00" stroke-width="1.35"/>
<path d="M566.85 263.22H574.45M570.65 259.42V267.02" fill="none" stroke="#00cd00" stroke-width="1.35"/>
<path d="M234.44 517.32H242.04M238.24 513.52V521.12" fill="none" stroke="#00cd00" stroke-width="1.35"/>
<path d="M576.12 267.51H583.72M579.92 263.71V271.31" fill="none" stroke="#00cd00" stroke-width="1.35"/>
<path d="M230 508.36H237.6M233.8 504.56V512.16" fill="none" stroke="#00cd00" stroke-width="1.35"/>
<path d="M592.77 265.21H600.37M596.57 261.41V269.01" fill="none" stroke="#00cd00" stroke-width="1.35"/>
<path d="M232.37 492.29H239.97M236.17 488.49V496.09" fill="none" stroke="#00cd00" stroke-width="1.35"/>
<path d="M673.28 198.4L676.13 203.42L670.43 203.42Z" fill="none" stroke="#ff0000" stroke-width="1.5" stroke-linejoin="miter"/>
<path d="M302.77 703.24L305.62 708.26L299.92 708.26Z" fill="none" stroke="#ff0000" stroke-width="1.5" stroke-linejoin="miter"/>
<path d="M646.86 204.68L649.71 209.7L644.01 209.7Z" fill="none" stroke="#ff0000" stroke-width="1.5" stroke-linejoin="miter"/>
<path d="M296.26 728.76L299.11 733.77L293.41 733.77Z" fill="none" stroke="#ff0000" stroke-width="1.5" stroke-linejoin="miter"/>
<path d="M692.72 208.37L695.57 213.39L689.87 213.39Z" fill="none" stroke="#ff0000" stroke-width="1.5" stroke-linejoin="miter"/>
<path d="M292.44 684.47L295.29 689.48L289.59 689.48Z" fill="none" stroke="#ff0000" stroke-width="1.5" stroke-linejoin="miter"/>
<path d="M686.44 212.86L689.29 217.87L683.59 217.87Z" fill="none" stroke="#ff0000" stroke-width="1.5" stroke-linejoin="miter"/>
<path d="M287.8 690.53L290.65 695.55L284.95 695.55Z" fill="none" stroke="#ff0000" stroke-width="1.5" stroke-linejoin="miter"/>
<path d="M707.38 226.81L710.23 231.83L704.53 231.83Z" fill="none" stroke="#ff0000" stroke-width="1.5" stroke-linejoin="miter"/>
<path d="M273.34 670.32L276.19 675.33L270.49 675.33Z" fill="none" stroke="#ff0000" stroke-width="1.5" stroke-linejoin="miter"/>
<path d="M630.91 244.76L633.76 249.78L628.06 249.78Z" fill="none" stroke="#ff0000" stroke-width="1.5" stroke-linejoin="miter"/>
<path d="M254.76 744.16L257.61 749.18L251.91 749.18Z" fill="none" stroke="#ff0000" stroke-width="1.5" stroke-linejoin="miter"/>
<path d="M689.04 292.62L691.89 297.63L686.19 297.63Z" fill="none" stroke="#ff0000" stroke-width="1.5" stroke-linejoin="miter"/>
<path d="M205.2 688.03L208.05 693.05L202.35 693.05Z" fill="none" stroke="#ff0000" stroke-width="1.5" stroke-linejoin="miter"/>
<path d="M711.67 300.09L714.52 305.11L708.82 305.11Z" fill="none" stroke="#ff0000" stroke-width="1.5" stroke-linejoin="miter"/>
<path d="M197.46 666.18L200.31 671.19L194.61 671.19Z" fill="none" stroke="#ff0000" stroke-width="1.5" stroke-linejoin="miter"/>
<path d="M716.15 306.77L719 311.79L713.3 311.79Z" fill="none" stroke="#ff0000" stroke-width="1.5" stroke-linejoin="miter"/>
<path d="M190.54 661.84L193.39 666.86L187.69 666.86Z" fill="none" stroke="#ff0000" stroke-width="1.5" stroke-linejoin="miter"/>
<path d="M650.85 316.05L653.7 321.06L648 321.06Z" fill="none" stroke="#ff0000" stroke-width="1.5" stroke-linejoin="miter"/>
<path d="M180.94 724.9L183.79 729.92L178.09 729.92Z" fill="none" stroke="#ff0000" stroke-width="1.5" stroke-linejoin="miter"/>
<path d="M670.99 314.75L673.84 319.77L668.14 319.77Z" fill="none" stroke="#ff0000" stroke-width="1.5" stroke-linejoin="miter"/>
<path d="M182.28 705.46L185.13 710.47L179.43 710.47Z" fill="none" stroke="#ff0000" stroke-width="1.5" stroke-linejoin="miter"/>
<path d="M696.91 321.33L699.76 326.35L694.06 326.35Z" fill="none" stroke="#ff0000" stroke-width="1.5" stroke-linejoin="miter"/>
<path d="M175.46 680.43L178.31 685.44L172.61 685.44Z" fill="none" stroke="#ff0000" stroke-width="1.5" stroke-linejoin="miter"/>
<path d="M663.7 207.69H671.3M667.5 203.89V211.49" fill="none" stroke="#00cd00" stroke-width="1.35"/>
<path d="M291.95 711.33H299.55M295.75 707.53V715.13" fill="none" stroke="#00cd00" stroke-width="1.35"/>
<path d="M664 207.69H671.6M667.8 203.89V211.49" fill="none" stroke="#00cd00" stroke-width="1.35"/>
<path d="M291.95 711.05H299.55M295.75 707.25V714.85" fill="none" stroke="#00cd00" stroke-width="1.35"/>
<path d="M634.29 218.55H641.89M638.09 214.75V222.35" fill="none" stroke="#00cd00" stroke-width="1.35"/>
<path d="M280.69 739.74H288.29M284.49 735.94V743.54" fill="none" stroke="#00cd00" stroke-width="1.35"/>
<path d="M739.77 213.07H747.37M743.57 209.27V216.87" fill="none" stroke="#00cd00" stroke-width="1.35"/>
<path d="M286.37 637.88H293.97M290.17 634.08V641.68" fill="none" stroke="#00cd00" stroke-width="1.35"/>
<path d="M742.26 214.37H749.86M746.06 210.57V218.17" fill="none" stroke="#00cd00" stroke-width="1.35"/>
<path d="M285.03 635.47H292.63M288.83 631.67V639.27" fill="none" stroke="#00cd00" stroke-width="1.35"/>
<path d="M707.87 225.13H715.47M711.67 221.33V228.93" fill="none" stroke="#00cd00" stroke-width="1.35"/>
<path d="M273.88 668.68H281.48M277.68 664.88V672.48" fill="none" stroke="#00cd00" stroke-width="1.35"/>
<path d="M651.74 255.74H659.34M655.54 251.94V259.54" fill="none" stroke="#00cd00" stroke-width="1.35"/>
<path d="M242.18 722.89H249.78M245.98 719.09V726.69" fill="none" stroke="#00cd00" stroke-width="1.35"/>
<path d="M616.64 262.72H624.24M620.44 258.92V266.52" fill="none" stroke="#00cd00" stroke-width="1.35"/>
<path d="M234.96 756.78H242.56M238.76 752.98V760.58" fill="none" stroke="#00cd00" stroke-width="1.35"/>
<path d="M673.47 263.22H681.07M677.27 259.42V267.02" fill="none" stroke="#00cd00" stroke-width="1.35"/>
<path d="M234.44 701.9H242.04M238.24 698.1V705.7" fill="none" stroke="#00cd00" stroke-width="1.35"/>
<path d="M673.47 267.51H681.07M677.27 263.71V271.31" fill="none" stroke="#00cd00" stroke-width="1.35"/>
<path d="M230 701.9H237.6M233.8 698.1V705.7" fill="none" stroke="#00cd00" stroke-width="1.35"/>
<path d="M684.94 267.51H692.54M688.74 263.71V271.31" fill="none" stroke="#00cd00" stroke-width="1.35"/>
<path d="M230 690.83H237.6M233.8 687.03V694.63" fill="none" stroke="#00cd00" stroke-width="1.35"/>
<path d="M719.83 265.21H727.43M723.63 261.41V269.01" fill="none" stroke="#00cd00" stroke-width="1.35"/>
<path d="M232.37 657.13H239.97M236.17 653.33V660.93" fill="none" stroke="#00cd00" stroke-width="1.35"/>
<path d="M597.87 343.4L600.72 348.42L595.02 348.42Z" fill="none" stroke="#ff0000" stroke-width="1.5" stroke-linejoin="miter"/>
<path d="M450.38 488.53L453.23 493.54L447.53 493.54Z" fill="none" stroke="#ff0000" stroke-width="1.5" stroke-linejoin="miter"/>
<path d="M543.43 367.03L546.28 372.04L540.58 372.04Z" fill="none" stroke="#ff0000" stroke-width="1.5" stroke-linejoin="miter"/>
<path d="M425.91 541.09L428.76 546.11L423.06 546.11Z" fill="none" stroke="#ff0000" stroke-width="1.5" stroke-linejoin="miter"/>
<path d="M517.51 388.76L520.36 393.78L514.66 393.78Z" fill="none" stroke="#ff0000" stroke-width="1.5" stroke-linejoin="miter"/>
<path d="M403.41 566.12L406.26 571.14L400.56 571.14Z" fill="none" stroke="#ff0000" stroke-width="1.5" stroke-linejoin="miter"/>
<path d="M480.92 411L483.77 416.01L478.07 416.01Z" fill="none" stroke="#ff0000" stroke-width="1.5" stroke-linejoin="miter"/>
<path d="M380.38 601.46L383.23 606.47L377.53 606.47Z" fill="none" stroke="#ff0000" stroke-width="1.5" stroke-linejoin="miter"/>
<path d="M587.8 419.17L590.65 424.19L584.95 424.19Z" fill="none" stroke="#ff0000" stroke-width="1.5" stroke-linejoin="miter"/>
<path d="M371.91 498.25L374.76 503.27L369.06 503.27Z" fill="none" stroke="#ff0000" stroke-width="1.5" stroke-linejoin="miter"/>
<path d="M481.22 430.64L484.07 435.65L478.37 435.65Z" fill="none" stroke="#ff0000" stroke-width="1.5" stroke-linejoin="miter"/>
<path d="M360.04 601.17L362.89 606.19L357.19 606.19Z" fill="none" stroke="#ff0000" stroke-width="1.5" stroke-linejoin="miter"/>
<path d="M481.91 431.14L484.76 436.15L479.06 436.15Z" fill="none" stroke="#ff0000" stroke-width="1.5" stroke-linejoin="miter"/>
<path d="M359.53 600.5L362.38 605.51L356.68 605.51Z" fill="none" stroke="#ff0000" stroke-width="1.5" stroke-linejoin="miter"/>
<path d="M576.43 431.34L579.28 436.35L573.58 436.35Z" fill="none" stroke="#ff0000" stroke-width="1.5" stroke-linejoin="miter"/>
<path d="M359.32 509.23L362.17 514.24L356.47 514.24Z" fill="none" stroke="#ff0000" stroke-width="1.5" stroke-linejoin="miter"/>
<path d="M498.16 445.89L501.01 450.91L495.31 450.91Z" fill="none" stroke="#ff0000" stroke-width="1.5" stroke-linejoin="miter"/>
<path d="M344.24 584.8L347.09 589.82L341.39 589.82Z" fill="none" stroke="#ff0000" stroke-width="1.5" stroke-linejoin="miter"/>
<path d="M508.13 448.28L510.98 453.3L505.28 453.3Z" fill="none" stroke="#ff0000" stroke-width="1.5" stroke-linejoin="miter"/>
<path d="M341.77 575.17L344.62 580.19L338.92 580.19Z" fill="none" stroke="#ff0000" stroke-width="1.5" stroke-linejoin="miter"/>
<path d="M526.08 445.89L528.93 450.91L523.23 450.91Z" fill="none" stroke="#ff0000" stroke-width="1.5" stroke-linejoin="miter"/>
<path d="M344.24 557.85L347.09 562.86L341.39 562.86Z" fill="none" stroke="#ff0000" stroke-width="1.5" stroke-linejoin="miter"/>
<path d="M507.84 465.33L510.69 470.35L504.99 470.35Z" fill="none" stroke="#ff0000" stroke-width="1.5" stroke-linejoin="miter"/>
<path d="M324.11 575.46L326.96 580.48L321.26 580.48Z" fill="none" stroke="#ff0000" stroke-width="1.5" stroke-linejoin="miter"/>
<path d="M502.74 387.28H510.34M506.54 383.48V391.08" fill="none" stroke="#00cd00" stroke-width="1.35"/>
<path d="M403.74 579.22H411.34M407.54 575.42V583.02" fill="none" stroke="#00cd00" stroke-width="1.35"/>
<path d="M502.74 390.77H510.34M506.54 386.97V394.57" fill="none" stroke="#00cd00" stroke-width="1.35"/>
<path d="M400.12 579.22H407.72M403.92 575.42V583.02" fill="none" stroke="#00cd00" stroke-width="1.35"/>
<path d="M518.99 388.58H526.59M522.79 384.78V392.38" fill="none" stroke="#00cd00" stroke-width="1.35"/>
<path d="M402.39 563.53H409.99M406.19 559.73V567.33" fill="none" stroke="#00cd00" stroke-width="1.35"/>
<path d="M468.44 396.75H476.04M472.24 392.95V400.55" fill="none" stroke="#00cd00" stroke-width="1.35"/>
<path d="M393.93 612.34H401.53M397.73 608.54V616.14" fill="none" stroke="#00cd00" stroke-width="1.35"/>
<path d="M468.44 399.25H476.04M472.24 395.45V403.05" fill="none" stroke="#00cd00" stroke-width="1.35"/>
<path d="M391.35 612.34H398.95M395.15 608.54V616.14" fill="none" stroke="#00cd00" stroke-width="1.35"/>
<path d="M483.6 399.25H491.2M487.4 395.45V403.05" fill="none" stroke="#00cd00" stroke-width="1.35"/>
<path d="M391.35 597.71H398.95M395.15 593.91V601.51" fill="none" stroke="#00cd00" stroke-width="1.35"/>
<path d="M549.2 399.25H556.8M553 395.45V403.05" fill="none" stroke="#00cd00" stroke-width="1.35"/>
<path d="M391.35 534.36H398.95M395.15 530.56V538.16" fill="none" stroke="#00cd00" stroke-width="1.35"/>
<path d="M576.12 430.15H583.72M579.92 426.35V433.95" fill="none" stroke="#00cd00" stroke-width="1.35"/>
<path d="M359.34 508.36H366.94M363.14 504.56V512.16" fill="none" stroke="#00cd00" stroke-width="1.35"/>
<path d="M592.77 430.35H600.37M596.57 426.55V434.15" fill="none" stroke="#00cd00" stroke-width="1.35"/>
<path d="M359.13 492.29H366.73M362.93 488.49V496.09" fill="none" stroke="#00cd00" stroke-width="1.35"/>
<path d="M566.85 447.9H574.45M570.65 444.1V451.7" fill="none" stroke="#00cd00" stroke-width="1.35"/>
<path d="M340.96 517.32H348.56M344.76 513.52V521.12" fill="none" stroke="#00cd00" stroke-width="1.35"/>
<path d="M538.23 460.06H545.83M542.03 456.26V463.86" fill="none" stroke="#00cd00" stroke-width="1.35"/>
<path d="M328.36 544.95H335.96M332.16 541.15V548.75" fill="none" stroke="#00cd00" stroke-width="1.35"/>
<path d="M547.41 464.25H555.01M551.21 460.45V468.05" fill="none" stroke="#00cd00" stroke-width="1.35"/>
<path d="M324.03 536.09H331.63M327.83 532.29V539.89" fill="none" stroke="#00cd00" stroke-width="1.35"/>
<path d="M630.91 343.4L633.76 348.42L628.06 348.42Z" fill="none" stroke="#ff0000" stroke-width="1.5" stroke-linejoin="miter"/>
<path d="M450.38 744.16L453.23 749.18L447.53 749.18Z" fill="none" stroke="#ff0000" stroke-width="1.5" stroke-linejoin="miter"/>
<path d="M696.91 367.03L699.76 372.04L694.06 372.04Z" fill="none" stroke="#ff0000" stroke-width="1.5" stroke-linejoin="miter"/>
<path d="M425.91 680.43L428.76 685.44L423.06 685.44Z" fill="none" stroke="#ff0000" stroke-width="1.5" stroke-linejoin="miter"/>
<path d="M711.67 389.26L714.52 394.28L708.82 394.28Z" fill="none" stroke="#ff0000" stroke-width="1.5" stroke-linejoin="miter"/>
<path d="M402.89 666.18L405.74 671.19L400.04 671.19Z" fill="none" stroke="#ff0000" stroke-width="1.5" stroke-linejoin="miter"/>
<path d="M650.85 411L653.7 416.01L648 416.01Z" fill="none" stroke="#ff0000" stroke-width="1.5" stroke-linejoin="miter"/>
<path d="M380.38 724.9L383.23 729.92L377.53 729.92Z" fill="none" stroke="#ff0000" stroke-width="1.5" stroke-linejoin="miter"/>
<path d="M686.44 419.17L689.29 424.19L683.59 424.19Z" fill="none" stroke="#ff0000" stroke-width="1.5" stroke-linejoin="miter"/>
<path d="M371.91 690.53L374.76 695.55L369.06 695.55Z" fill="none" stroke="#ff0000" stroke-width="1.5" stroke-linejoin="miter"/>
<path d="M670.99 430.64L673.84 435.65L668.14 435.65Z" fill="none" stroke="#ff0000" stroke-width="1.5" stroke-linejoin="miter"/>
<path d="M360.04 705.46L362.89 710.47L357.19 710.47Z" fill="none" stroke="#ff0000" stroke-width="1.5" stroke-linejoin="miter"/>
<path d="M689.04 431.34L691.89 436.35L686.19 436.35Z" fill="none" stroke="#ff0000" stroke-width="1.5" stroke-linejoin="miter"/>
<path d="M359.32 688.03L362.17 693.05L356.47 693.05Z" fill="none" stroke="#ff0000" stroke-width="1.5" stroke-linejoin="miter"/>
<path d="M707.38 431.34L710.23 436.35L704.53 436.35Z" fill="none" stroke="#ff0000" stroke-width="1.5" stroke-linejoin="miter"/>
<path d="M359.32 670.32L362.17 675.33L356.47 675.33Z" fill="none" stroke="#ff0000" stroke-width="1.5" stroke-linejoin="miter"/>
<path d="M646.86 445.89L649.71 450.91L644.01 450.91Z" fill="none" stroke="#ff0000" stroke-width="1.5" stroke-linejoin="miter"/>
<path d="M344.24 728.76L347.09 733.77L341.39 733.77Z" fill="none" stroke="#ff0000" stroke-width="1.5" stroke-linejoin="miter"/>
<path d="M673.28 448.28L676.13 453.3L670.43 453.3Z" fill="none" stroke="#ff0000" stroke-width="1.5" stroke-linejoin="miter"/>
<path d="M341.77 703.24L344.62 708.26L338.92 708.26Z" fill="none" stroke="#ff0000" stroke-width="1.5" stroke-linejoin="miter"/>
<path d="M716.15 445.89L719 450.91L713.3 450.91Z" fill="none" stroke="#ff0000" stroke-width="1.5" stroke-linejoin="miter"/>
<path d="M344.24 661.84L347.09 666.86L341.39 666.86Z" fill="none" stroke="#ff0000" stroke-width="1.5" stroke-linejoin="miter"/>
<path d="M692.72 465.33L695.57 470.35L689.87 470.35Z" fill="none" stroke="#ff0000" stroke-width="1.5" stroke-linejoin="miter"/>
<path d="M324.11 684.47L326.96 689.48L321.26 689.48Z" fill="none" stroke="#ff0000" stroke-width="1.5" stroke-linejoin="miter"/>
<path d="M707.87 388.58H715.47M711.67 384.78V392.38" fill="none" stroke="#00cd00" stroke-width="1.35"/>
<path d="M402.39 668.68H409.99M406.19 664.88V672.48" fill="none" stroke="#00cd00" stroke-width="1.35"/>
<path d="M739.77 387.28H747.37M743.57 383.48V391.08" fill="none" stroke="#00cd00" stroke-width="1.35"/>
<path d="M403.74 637.88H411.34M407.54 634.08V641.68" fill="none" stroke="#00cd00" stroke-width="1.35"/>
<path d="M742.26 390.77H749.86M746.06 386.97V394.57" fill="none" stroke="#00cd00" stroke-width="1.35"/>
<path d="M400.12 635.47H407.72M403.92 631.67V639.27" fill="none" stroke="#00cd00" stroke-width="1.35"/>
<path d="M663.7 396.75H671.3M667.5 392.95V400.55" fill="none" stroke="#00cd00" stroke-width="1.35"/>
<path d="M393.93 711.33H401.53M397.73 707.53V715.13" fill="none" stroke="#00cd00" stroke-width="1.35"/>
<path d="M664 399.25H671.6M667.8 395.45V403.05" fill="none" stroke="#00cd00" stroke-width="1.35"/>
<path d="M391.35 711.05H398.95M395.15 707.25V714.85" fill="none" stroke="#00cd00" stroke-width="1.35"/>
<path d="M616.64 399.25H624.24M620.44 395.45V403.05" fill="none" stroke="#00cd00" stroke-width="1.35"/>
<path d="M391.35 756.78H398.95M395.15 752.98V760.58" fill="none" stroke="#00cd00" stroke-width="1.35"/>
<path d="M634.29 399.25H641.89M638.09 395.45V403.05" fill="none" stroke="#00cd00" stroke-width="1.35"/>
<path d="M391.35 739.74H398.95M395.15 735.94V743.54" fill="none" stroke="#00cd00" stroke-width="1.35"/>
<path d="M684.94 430.35H692.54M688.74 426.55V434.15" fill="none" stroke="#00cd00" stroke-width="1.35"/>
<path d="M359.13 690.83H366.73M362.93 687.03V694.63" fill="none" stroke="#00cd00" stroke-width="1.35"/>
<path d="M719.83 430.35H727.43M723.63 426.55V434.15" fill="none" stroke="#00cd00" stroke-width="1.35"/>
<path d="M359.13 657.13H366.73M362.93 653.33V660.93" fill="none" stroke="#00cd00" stroke-width="1.35"/>
<path d="M673.47 447.9H681.07M677.27 444.1V451.7" fill="none" stroke="#00cd00" stroke-width="1.35"/>
<path d="M340.96 701.9H348.56M344.76 698.1V705.7" fill="none" stroke="#00cd00" stroke-width="1.35"/>
<path d="M651.74 460.06H659.34M655.54 456.26V463.86" fill="none" stroke="#00cd00" stroke-width="1.35"/>
<path d="M328.36 722.89H335.96M332.16 719.09V726.69" fill="none" stroke="#00cd00" stroke-width="1.35"/>
<path d="M673.47 464.25H681.07M677.27 460.45V468.05" fill="none" stroke="#00cd00" stroke-width="1.35"/>
<path d="M324.03 701.9H331.63M327.83 698.1V705.7" fill="none" stroke="#00cd00" stroke-width="1.35"/>
<path d="M630.91 487.4L633.76 492.42L628.06 492.42Z" fill="none" stroke="#ff0000" stroke-width="1.5" stroke-linejoin="miter"/>
<path d="M599.03 744.16L601.88 749.18L596.18 749.18Z" fill="none" stroke="#ff0000" stroke-width="1.5" stroke-linejoin="miter"/>
<path d="M686.44 497.37L689.29 502.39L683.59 502.39Z" fill="none" stroke="#ff0000" stroke-width="1.5" stroke-linejoin="miter"/>
<path d="M588.71 690.53L591.56 695.55L585.86 695.55Z" fill="none" stroke="#ff0000" stroke-width="1.5" stroke-linejoin="miter"/>
<path d="M707.38 508.34L710.23 513.36L704.53 513.36Z" fill="none" stroke="#ff0000" stroke-width="1.5" stroke-linejoin="miter"/>
<path d="M577.35 670.32L580.2 675.33L574.5 675.33Z" fill="none" stroke="#ff0000" stroke-width="1.5" stroke-linejoin="miter"/>
<path d="M696.91 540.94L699.76 545.96L694.06 545.96Z" fill="none" stroke="#ff0000" stroke-width="1.5" stroke-linejoin="miter"/>
<path d="M543.59 680.43L546.44 685.44L540.74 685.44Z" fill="none" stroke="#ff0000" stroke-width="1.5" stroke-linejoin="miter"/>
<path d="M646.86 557.69L649.71 562.71L644.01 562.71Z" fill="none" stroke="#ff0000" stroke-width="1.5" stroke-linejoin="miter"/>
<path d="M526.24 728.76L529.09 733.77L523.39 733.77Z" fill="none" stroke="#ff0000" stroke-width="1.5" stroke-linejoin="miter"/>
<path d="M711.67 566.17L714.52 571.18L708.82 571.18Z" fill="none" stroke="#ff0000" stroke-width="1.5" stroke-linejoin="miter"/>
<path d="M517.46 666.18L520.31 671.19L514.61 671.19Z" fill="none" stroke="#ff0000" stroke-width="1.5" stroke-linejoin="miter"/>
<path d="M673.28 575.14L676.13 580.16L670.43 580.16Z" fill="none" stroke="#ff0000" stroke-width="1.5" stroke-linejoin="miter"/>
<path d="M508.17 703.24L511.02 708.26L505.32 708.26Z" fill="none" stroke="#ff0000" stroke-width="1.5" stroke-linejoin="miter"/>
<path d="M692.72 575.64L695.57 580.65L689.87 580.65Z" fill="none" stroke="#ff0000" stroke-width="1.5" stroke-linejoin="miter"/>
<path d="M507.66 684.47L510.51 689.48L504.81 689.48Z" fill="none" stroke="#ff0000" stroke-width="1.5" stroke-linejoin="miter"/>
<path d="M716.15 584.91L719 589.93L713.3 589.93Z" fill="none" stroke="#ff0000" stroke-width="1.5" stroke-linejoin="miter"/>
<path d="M498.05 661.84L500.9 666.86L495.2 666.86Z" fill="none" stroke="#ff0000" stroke-width="1.5" stroke-linejoin="miter"/>
<path d="M650.85 601.76L653.7 606.78L648 606.78Z" fill="none" stroke="#ff0000" stroke-width="1.5" stroke-linejoin="miter"/>
<path d="M480.6 724.9L483.45 729.92L477.75 729.92Z" fill="none" stroke="#ff0000" stroke-width="1.5" stroke-linejoin="miter"/>
<path d="M670.99 600.36L673.84 605.38L668.14 605.38Z" fill="none" stroke="#ff0000" stroke-width="1.5" stroke-linejoin="miter"/>
<path d="M482.05 705.46L484.9 710.47L479.2 710.47Z" fill="none" stroke="#ff0000" stroke-width="1.5" stroke-linejoin="miter"/>
<path d="M689.04 601.76L691.89 606.78L686.19 606.78Z" fill="none" stroke="#ff0000" stroke-width="1.5" stroke-linejoin="miter"/>
<path d="M480.6 688.03L483.45 693.05L477.75 693.05Z" fill="none" stroke="#ff0000" stroke-width="1.5" stroke-linejoin="miter"/>
<path d="M719.83 491.21H727.43M723.63 487.41V495.01" fill="none" stroke="#00cd00" stroke-width="1.35"/>
<path d="M593.89 657.13H601.49M597.69 653.33V660.93" fill="none" stroke="#00cd00" stroke-width="1.35"/>
<path d="M684.94 508.16H692.54M688.74 504.36V511.96" fill="none" stroke="#00cd00" stroke-width="1.35"/>
<path d="M576.34 690.83H583.94M580.14 687.03V694.63" fill="none" stroke="#00cd00" stroke-width="1.35"/>
<path d="M673.47 517.13H681.07M677.27 513.33V520.93" fill="none" stroke="#00cd00" stroke-width="1.35"/>
<path d="M567.04 701.9H574.64M570.84 698.1V705.7" fill="none" stroke="#00cd00" stroke-width="1.35"/>
<path d="M616.64 534.08H624.24M620.44 530.28V537.88" fill="none" stroke="#00cd00" stroke-width="1.35"/>
<path d="M549.49 756.78H557.09M553.29 752.98V760.58" fill="none" stroke="#00cd00" stroke-width="1.35"/>
<path d="M673.47 535.77H681.07M677.27 531.97V539.57" fill="none" stroke="#00cd00" stroke-width="1.35"/>
<path d="M547.74 701.9H555.34M551.54 698.1V705.7" fill="none" stroke="#00cd00" stroke-width="1.35"/>
<path d="M651.74 545.24H659.34M655.54 541.44V549.04" fill="none" stroke="#00cd00" stroke-width="1.35"/>
<path d="M537.93 722.89H545.53M541.73 719.09V726.69" fill="none" stroke="#00cd00" stroke-width="1.35"/>
<path d="M707.87 563.99H715.47M711.67 560.19V567.79" fill="none" stroke="#00cd00" stroke-width="1.35"/>
<path d="M518.52 668.68H526.12M522.32 664.88V672.48" fill="none" stroke="#00cd00" stroke-width="1.35"/>
<path d="M739.77 579.34H747.37M743.57 575.54V583.14" fill="none" stroke="#00cd00" stroke-width="1.35"/>
<path d="M502.62 637.88H510.22M506.42 634.08V641.68" fill="none" stroke="#00cd00" stroke-width="1.35"/>
<path d="M742.26 579.34H749.86M746.06 575.54V583.14" fill="none" stroke="#00cd00" stroke-width="1.35"/>
<path d="M502.62 635.47H510.22M506.42 631.67V639.27" fill="none" stroke="#00cd00" stroke-width="1.35"/>
<path d="M634.29 598.58H641.89M638.09 594.78V602.38" fill="none" stroke="#00cd00" stroke-width="1.35"/>
<path d="M482.69 739.74H490.29M486.49 735.94V743.54" fill="none" stroke="#00cd00" stroke-width="1.35"/>
<path d="M663.7 613.24H671.3M667.5 609.44V617.04" fill="none" stroke="#00cd00" stroke-width="1.35"/>
<path d="M467.51 711.33H475.11M471.31 707.53V715.13" fill="none" stroke="#00cd00" stroke-width="1.35"/>
<path d="M664 613.24H671.6M667.8 609.44V617.04" fill="none" stroke="#00cd00" stroke-width="1.35"/>
<path d="M467.51 711.05H475.11M471.31 707.25V714.85" fill="none" stroke="#00cd00" stroke-width="1.35"/>
<path d="M37.15 762.65H148.35" stroke="#111" stroke-width="1.2"/>
<path d="M751.77 169.86V62.48" stroke="#111" stroke-width="1.2"/>
<path d="M37.15 762.35V768.65" stroke="#111" stroke-width="1.2"/>
<text x="37.15" y="786.15" font-size="10" text-anchor="middle">-4</text>
<path d="M751.47 169.86H757.77" stroke="#111" stroke-width="1.2"/>
<g><text transform="translate(774.07 169.86) rotate(-90)" font-size="9.6" text-anchor="middle">-4</text></g>
<path d="M64.95 762.35V768.65" stroke="#111" stroke-width="1.2"/>
<text x="64.95" y="786.15" font-size="10" text-anchor="middle">-2</text>
<path d="M751.47 143.01H757.77" stroke="#111" stroke-width="1.2"/>
<g><text transform="translate(774.07 143.01) rotate(-90)" font-size="9.6" text-anchor="middle">-2</text></g>
<path d="M92.75 762.35V768.65" stroke="#111" stroke-width="1.2"/>
<text x="92.75" y="786.15" font-size="10" text-anchor="middle">0</text>
<path d="M751.47 116.17H757.77" stroke="#111" stroke-width="1.2"/>
<g><text transform="translate(774.07 116.17) rotate(-90)" font-size="9.6" text-anchor="middle">0</text></g>
<path d="M120.55 762.35V768.65" stroke="#111" stroke-width="1.2"/>
<text x="120.55" y="786.15" font-size="10" text-anchor="middle">2</text>
<path d="M751.47 89.32H757.77" stroke="#111" stroke-width="1.2"/>
<g><text transform="translate(774.07 89.32) rotate(-90)" font-size="9.6" text-anchor="middle">2</text></g>
<path d="M148.35 762.35V768.65" stroke="#111" stroke-width="1.2"/>
<text x="148.35" y="786.15" font-size="10" text-anchor="middle">4</text>
<path d="M751.47 62.48H757.77" stroke="#111" stroke-width="1.2"/>
<g><text transform="translate(774.07 62.48) rotate(-90)" font-size="9.6" text-anchor="middle">4</text></g>
<path d="M180.86 51.75H295.26" stroke="#111" stroke-width="1.2"/>
<path d="M22.05 318.63V208.16" stroke="#111" stroke-width="1.2"/>
<path d="M180.86 52.05V45.75" stroke="#111" stroke-width="1.2"/>
<text x="180.86" y="39.85" font-size="10" text-anchor="middle">-3</text>
<path d="M22.35 318.63H16.05" stroke="#111" stroke-width="1.2"/>
<text transform="translate(9.15 318.63) rotate(-90)" font-size="9.6" text-anchor="middle">-3</text>
<path d="M203.74 52.05V45.75" stroke="#111" stroke-width="1.2"/>
<text x="203.74" y="39.85" font-size="10" text-anchor="middle">-2</text>
<path d="M22.35 296.53H16.05" stroke="#111" stroke-width="1.2"/>
<text transform="translate(9.15 296.53) rotate(-90)" font-size="9.6" text-anchor="middle">-2</text>
<path d="M226.62 52.05V45.75" stroke="#111" stroke-width="1.2"/>
<text x="226.62" y="39.85" font-size="10" text-anchor="middle">-1</text>
<path d="M22.35 274.44H16.05" stroke="#111" stroke-width="1.2"/>
<text transform="translate(9.15 274.44) rotate(-90)" font-size="9.6" text-anchor="middle">-1</text>
<path d="M249.5 52.05V45.75" stroke="#111" stroke-width="1.2"/>
<text x="249.5" y="39.85" font-size="10" text-anchor="middle">0</text>
<path d="M22.35 252.35H16.05" stroke="#111" stroke-width="1.2"/>
<text transform="translate(9.15 252.35) rotate(-90)" font-size="9.6" text-anchor="middle">0</text>
<path d="M272.38 52.05V45.75" stroke="#111" stroke-width="1.2"/>
<text x="272.38" y="39.85" font-size="10" text-anchor="middle">1</text>
<path d="M22.35 230.25H16.05" stroke="#111" stroke-width="1.2"/>
<text transform="translate(9.15 230.25) rotate(-90)" font-size="9.6" text-anchor="middle">1</text>
<path d="M295.26 52.05V45.75" stroke="#111" stroke-width="1.2"/>
<text x="295.26" y="39.85" font-size="10" text-anchor="middle">2</text>
<path d="M22.35 208.16H16.05" stroke="#111" stroke-width="1.2"/>
<text transform="translate(9.15 208.16) rotate(-90)" font-size="9.6" text-anchor="middle">2</text>
<path d="M342.5 762.65H438.8" stroke="#111" stroke-width="1.2"/>
<path d="M751.77 450.08V357.09" stroke="#111" stroke-width="1.2"/>
<path d="M342.5 762.35V768.65" stroke="#111" stroke-width="1.2"/>
<text x="342.5" y="786.15" font-size="10" text-anchor="middle">-1</text>
<path d="M751.47 450.08H757.77" stroke="#111" stroke-width="1.2"/>
<g><text transform="translate(774.07 450.08) rotate(-90)" font-size="9.6" text-anchor="middle">-1</text></g>
<path d="M374.6 762.35V768.65" stroke="#111" stroke-width="1.2"/>
<text x="374.6" y="786.15" font-size="10" text-anchor="middle">0</text>
<path d="M751.47 419.09H757.77" stroke="#111" stroke-width="1.2"/>
<g><text transform="translate(774.07 419.09) rotate(-90)" font-size="9.6" text-anchor="middle">0</text></g>
<path d="M406.7 762.35V768.65" stroke="#111" stroke-width="1.2"/>
<text x="406.7" y="786.15" font-size="10" text-anchor="middle">1</text>
<path d="M751.47 388.09H757.77" stroke="#111" stroke-width="1.2"/>
<g><text transform="translate(774.07 388.09) rotate(-90)" font-size="9.6" text-anchor="middle">1</text></g>
<path d="M438.8 762.35V768.65" stroke="#111" stroke-width="1.2"/>
<text x="438.8" y="786.15" font-size="10" text-anchor="middle">2</text>
<path d="M751.47 357.09H757.77" stroke="#111" stroke-width="1.2"/>
<g><text transform="translate(774.07 357.09) rotate(-90)" font-size="9.6" text-anchor="middle">2</text></g>
<path d="M468.2 51.75H587.4" stroke="#111" stroke-width="1.2"/>
<path d="M22.05 616.25V501.14" stroke="#111" stroke-width="1.2"/>
<path d="M468.2 52.05V45.75" stroke="#111" stroke-width="1.2"/>
<text x="468.2" y="39.85" font-size="10" text-anchor="middle">-2</text>
<path d="M22.35 616.25H16.05" stroke="#111" stroke-width="1.2"/>
<text transform="translate(9.15 616.25) rotate(-90)" font-size="9.6" text-anchor="middle">-2</text>
<path d="M498 52.05V45.75" stroke="#111" stroke-width="1.2"/>
<text x="498" y="39.85" font-size="10" text-anchor="middle">-1</text>
<path d="M22.35 587.47H16.05" stroke="#111" stroke-width="1.2"/>
<text transform="translate(9.15 587.47) rotate(-90)" font-size="9.6" text-anchor="middle">-1</text>
<path d="M527.8 52.05V45.75" stroke="#111" stroke-width="1.2"/>
<text x="527.8" y="39.85" font-size="10" text-anchor="middle">0</text>
<path d="M22.35 558.69H16.05" stroke="#111" stroke-width="1.2"/>
<text transform="translate(9.15 558.69) rotate(-90)" font-size="9.6" text-anchor="middle">0</text>
<path d="M557.6 52.05V45.75" stroke="#111" stroke-width="1.2"/>
<text x="557.6" y="39.85" font-size="10" text-anchor="middle">1</text>
<path d="M22.35 529.92H16.05" stroke="#111" stroke-width="1.2"/>
<text transform="translate(9.15 529.92) rotate(-90)" font-size="9.6" text-anchor="middle">1</text>
<path d="M587.4 52.05V45.75" stroke="#111" stroke-width="1.2"/>
<text x="587.4" y="39.85" font-size="10" text-anchor="middle">2</text>
<path d="M22.35 501.14H16.05" stroke="#111" stroke-width="1.2"/>
<text transform="translate(9.15 501.14) rotate(-90)" font-size="9.6" text-anchor="middle">2</text>
<path d="M617.5 762.65H748.9" stroke="#111" stroke-width="1.2"/>
<path d="M751.77 759.62V632.73" stroke="#111" stroke-width="1.2"/>
<path d="M617.5 762.35V768.65" stroke="#111" stroke-width="1.2"/>
<text x="617.5" y="786.15" font-size="10" text-anchor="middle">-2</text>
<path d="M751.47 759.62H757.77" stroke="#111" stroke-width="1.2"/>
<g><text transform="translate(774.07 759.62) rotate(-90)" font-size="9.6" text-anchor="middle">-2</text></g>
<path d="M650.35 762.35V768.65" stroke="#111" stroke-width="1.2"/>
<text x="650.35" y="786.15" font-size="10" text-anchor="middle">-1</text>
<path d="M751.47 727.9H757.77" stroke="#111" stroke-width="1.2"/>
<g><text transform="translate(774.07 727.9) rotate(-90)" font-size="9.6" text-anchor="middle">-1</text></g>
<path d="M683.2 762.35V768.65" stroke="#111" stroke-width="1.2"/>
<text x="683.2" y="786.15" font-size="10" text-anchor="middle">0</text>
<path d="M751.47 696.17H757.77" stroke="#111" stroke-width="1.2"/>
<g><text transform="translate(774.07 696.17) rotate(-90)" font-size="9.6" text-anchor="middle">0</text></g>
<path d="M716.05 762.35V768.65" stroke="#111" stroke-width="1.2"/>
<text x="716.05" y="786.15" font-size="10" text-anchor="middle">1</text>
<path d="M751.47 664.45H757.77" stroke="#111" stroke-width="1.2"/>
<g><text transform="translate(774.07 664.45) rotate(-90)" font-size="9.6" text-anchor="middle">1</text></g>
<path d="M748.9 762.35V768.65" stroke="#111" stroke-width="1.2"/>
<text x="748.9" y="786.15" font-size="10" text-anchor="middle">2</text>
<path d="M751.47 632.73H757.77" stroke="#111" stroke-width="1.2"/>
<g><text transform="translate(774.07 632.73) rotate(-90)" font-size="9.6" text-anchor="middle">2</text></g>
</g>
<g>
<rect x="22.35" y="986.3" width="135.5" height="132.9" fill="none" stroke="#111" stroke-width="1.4"/>
<rect x="169.4" y="986.3" width="135.5" height="132.9" fill="none" stroke="#111" stroke-width="1.4"/>
<rect x="316.45" y="986.3" width="135.5" height="132.9" fill="none" stroke="#111" stroke-width="1.4"/>
<rect x="463.5" y="986.3" width="135.5" height="132.9" fill="none" stroke="#111" stroke-width="1.4"/>
<rect x="610.55" y="986.3" width="135.5" height="132.9" fill="none" stroke="#111" stroke-width="1.4"/>
<rect x="22.35" y="1132.02" width="135.5" height="132.9" fill="none" stroke="#111" stroke-width="1.4"/>
<rect x="169.4" y="1132.02" width="135.5" height="132.9" fill="none" stroke="#111" stroke-width="1.4"/>
<rect x="316.45" y="1132.02" width="135.5" height="132.9" fill="none" stroke="#111" stroke-width="1.4"/>
<rect x="463.5" y="1132.02" width="135.5" height="132.9" fill="none" stroke="#111" stroke-width="1.4"/>
<rect x="610.55" y="1132.02" width="135.5" height="132.9" fill="none" stroke="#111" stroke-width="1.4"/>
<rect x="22.35" y="1277.74" width="135.5" height="132.9" fill="none" stroke="#111" stroke-width="1.4"/>
<rect x="169.4" y="1277.74" width="135.5" height="132.9" fill="none" stroke="#111" stroke-width="1.4"/>
<rect x="316.45" y="1277.74" width="135.5" height="132.9" fill="none" stroke="#111" stroke-width="1.4"/>
<rect x="463.5" y="1277.74" width="135.5" height="132.9" fill="none" stroke="#111" stroke-width="1.4"/>
<rect x="610.55" y="1277.74" width="135.5" height="132.9" fill="none" stroke="#111" stroke-width="1.4"/>
<rect x="22.35" y="1423.46" width="135.5" height="132.9" fill="none" stroke="#111" stroke-width="1.4"/>
<rect x="169.4" y="1423.46" width="135.5" height="132.9" fill="none" stroke="#111" stroke-width="1.4"/>
<rect x="316.45" y="1423.46" width="135.5" height="132.9" fill="none" stroke="#111" stroke-width="1.4"/>
<rect x="463.5" y="1423.46" width="135.5" height="132.9" fill="none" stroke="#111" stroke-width="1.4"/>
<rect x="610.55" y="1423.46" width="135.5" height="132.9" fill="none" stroke="#111" stroke-width="1.4"/>
<rect x="22.35" y="1569.18" width="135.5" height="132.9" fill="none" stroke="#111" stroke-width="1.4"/>
<rect x="169.4" y="1569.18" width="135.5" height="132.9" fill="none" stroke="#111" stroke-width="1.4"/>
<rect x="316.45" y="1569.18" width="135.5" height="132.9" fill="none" stroke="#111" stroke-width="1.4"/>
<rect x="463.5" y="1569.18" width="135.5" height="132.9" fill="none" stroke="#111" stroke-width="1.4"/>
<rect x="610.55" y="1569.18" width="135.5" height="132.9" fill="none" stroke="#111" stroke-width="1.4"/>
<text x="87.5" y="1048.15" font-size="19.5" text-anchor="middle" fill="#111">Component 1</text>
<text x="92.5" y="1071.15" font-size="19.5" text-anchor="middle" fill="#111">35.1 %</text>
<text x="234.55" y="1193.87" font-size="19.5" text-anchor="middle" fill="#111">Component 2</text>
<text x="239.55" y="1216.87" font-size="19.5" text-anchor="middle" fill="#111">18.3 %</text>
<text x="381.6" y="1339.59" font-size="19.5" text-anchor="middle" fill="#111">Component 3</text>
<text x="386.6" y="1362.59" font-size="19.5" text-anchor="middle" fill="#111">14.7 %</text>
<text x="528.65" y="1485.31" font-size="19.5" text-anchor="middle" fill="#111">Component 4</text>
<text x="533.65" y="1508.31" font-size="19.5" text-anchor="middle" fill="#111">9 %</text>
<text x="675.7" y="1631.03" font-size="19.5" text-anchor="middle" fill="#111">Component 5</text>
<text x="680.7" y="1654.03" font-size="19.5" text-anchor="middle" fill="#111">3.8 %</text>
<path d="M174.45 1069.5L177.12 1074.2L171.77 1074.2Z" fill="none" stroke="#ff0000" stroke-width="1.3" stroke-linejoin="miter"/>
<path d="M70.63 1257.62L73.3 1262.32L67.95 1262.32Z" fill="none" stroke="#ff0000" stroke-width="1.3" stroke-linejoin="miter"/>
<path d="M186.11 1070.79L188.79 1075.5L183.44 1075.5Z" fill="none" stroke="#ff0000" stroke-width="1.3" stroke-linejoin="miter"/>
<path d="M69.31 1246.17L71.98 1250.88L66.63 1250.88Z" fill="none" stroke="#ff0000" stroke-width="1.3" stroke-linejoin="miter"/>
<path d="M201.37 1068.3L204.04 1073.01L198.69 1073.01Z" fill="none" stroke="#ff0000" stroke-width="1.3" stroke-linejoin="miter"/>
<path d="M71.85 1231.21L74.52 1235.92L69.17 1235.92Z" fill="none" stroke="#ff0000" stroke-width="1.3" stroke-linejoin="miter"/>
<path d="M188.61 1079.96L191.28 1084.67L185.93 1084.67Z" fill="none" stroke="#ff0000" stroke-width="1.3" stroke-linejoin="miter"/>
<path d="M59.95 1243.73L62.63 1248.44L57.28 1248.44Z" fill="none" stroke="#ff0000" stroke-width="1.3" stroke-linejoin="miter"/>
<path d="M197.38 1082.26L200.05 1086.97L194.7 1086.97Z" fill="none" stroke="#ff0000" stroke-width="1.3" stroke-linejoin="miter"/>
<path d="M57.62 1235.12L60.29 1239.83L54.94 1239.83Z" fill="none" stroke="#ff0000" stroke-width="1.3" stroke-linejoin="miter"/>
<path d="M190.4 1087.94L193.07 1092.65L187.72 1092.65Z" fill="none" stroke="#ff0000" stroke-width="1.3" stroke-linejoin="miter"/>
<path d="M51.82 1241.97L54.5 1246.68L49.15 1246.68Z" fill="none" stroke="#ff0000" stroke-width="1.3" stroke-linejoin="miter"/>
<path d="M280.33 1090.23L283.01 1094.94L277.66 1094.94Z" fill="none" stroke="#ff0000" stroke-width="1.3" stroke-linejoin="miter"/>
<path d="M49.48 1153.76L52.16 1158.47L46.81 1158.47Z" fill="none" stroke="#ff0000" stroke-width="1.3" stroke-linejoin="miter"/>
<path d="M290.1 1095.22L292.78 1099.93L287.43 1099.93Z" fill="none" stroke="#ff0000" stroke-width="1.3" stroke-linejoin="miter"/>
<path d="M44.4 1144.18L47.08 1148.89L41.73 1148.89Z" fill="none" stroke="#ff0000" stroke-width="1.3" stroke-linejoin="miter"/>
<path d="M280.83 1102.2L283.5 1106.91L278.15 1106.91Z" fill="none" stroke="#ff0000" stroke-width="1.3" stroke-linejoin="miter"/>
<path d="M37.29 1153.28L39.96 1157.98L34.61 1157.98Z" fill="none" stroke="#ff0000" stroke-width="1.3" stroke-linejoin="miter"/>
<path d="M290.6 1104.69L293.27 1109.4L287.92 1109.4Z" fill="none" stroke="#ff0000" stroke-width="1.3" stroke-linejoin="miter"/>
<path d="M34.74 1143.69L37.42 1148.4L32.07 1148.4Z" fill="none" stroke="#ff0000" stroke-width="1.3" stroke-linejoin="miter"/>
<path d="M299.37 1107.18L302.05 1111.89L296.7 1111.89Z" fill="none" stroke="#ff0000" stroke-width="1.3" stroke-linejoin="miter"/>
<path d="M32.2 1135.09L34.88 1139.8L29.53 1139.8Z" fill="none" stroke="#ff0000" stroke-width="1.3" stroke-linejoin="miter"/>
<path d="M290.6 1112.17L293.27 1116.88L287.92 1116.88Z" fill="none" stroke="#ff0000" stroke-width="1.3" stroke-linejoin="miter"/>
<path d="M27.12 1143.69L29.8 1148.4L24.45 1148.4Z" fill="none" stroke="#ff0000" stroke-width="1.3" stroke-linejoin="miter"/>
<path d="M264.67 991.19H272.07M268.37 987.49V994.89" fill="none" stroke="#00cd00" stroke-width="1.3"/>
<path d="M149.16 1167.85H156.56M152.86 1164.15V1171.55" fill="none" stroke="#00cd00" stroke-width="1.3"/>
<path d="M246.02 998.87H253.42M249.72 995.17V1002.57" fill="none" stroke="#00cd00" stroke-width="1.3"/>
<path d="M141.34 1186.14H148.74M145.04 1182.44V1189.84" fill="none" stroke="#00cd00" stroke-width="1.3"/>
<path d="M255.49 1003.85H262.89M259.19 1000.15V1007.55" fill="none" stroke="#00cd00" stroke-width="1.3"/>
<path d="M136.25 1176.85H143.65M139.95 1173.15V1180.55" fill="none" stroke="#00cd00" stroke-width="1.3"/>
<path d="M245.52 1003.85H252.92M249.22 1000.15V1007.55" fill="none" stroke="#00cd00" stroke-width="1.3"/>
<path d="M136.25 1186.63H143.65M139.95 1182.93V1190.33" fill="none" stroke="#00cd00" stroke-width="1.3"/>
<path d="M246.52 1005.85H253.92M250.22 1002.15V1009.55" fill="none" stroke="#00cd00" stroke-width="1.3"/>
<path d="M134.22 1185.65H141.62M137.92 1181.95V1189.35" fill="none" stroke="#00cd00" stroke-width="1.3"/>
<path d="M248.02 1007.54H255.42M251.72 1003.84V1011.24" fill="none" stroke="#00cd00" stroke-width="1.3"/>
<path d="M132.49 1184.18H139.89M136.19 1180.48V1187.88" fill="none" stroke="#00cd00" stroke-width="1.3"/>
<path d="M245.52 1010.33H252.92M249.22 1006.63V1014.03" fill="none" stroke="#00cd00" stroke-width="1.3"/>
<path d="M129.65 1186.63H137.05M133.35 1182.93V1190.33" fill="none" stroke="#00cd00" stroke-width="1.3"/>
<path d="M262.47 1011.63H269.87M266.17 1007.93V1015.33" fill="none" stroke="#00cd00" stroke-width="1.3"/>
<path d="M128.32 1170H135.72M132.02 1166.3V1173.7" fill="none" stroke="#00cd00" stroke-width="1.3"/>
<path d="M254.5 1013.13H261.9M258.2 1009.43V1016.83" fill="none" stroke="#00cd00" stroke-width="1.3"/>
<path d="M126.8 1177.83H134.2M130.5 1174.13V1181.53" fill="none" stroke="#00cd00" stroke-width="1.3"/>
<path d="M243.53 1012.83H250.93M247.23 1009.13V1016.53" fill="none" stroke="#00cd00" stroke-width="1.3"/>
<path d="M127.1 1188.58H134.5M130.8 1184.88V1192.28" fill="none" stroke="#00cd00" stroke-width="1.3"/>
<path d="M240.84 1014.52H248.24M244.54 1010.82V1018.22" fill="none" stroke="#00cd00" stroke-width="1.3"/>
<path d="M125.38 1191.22H132.78M129.08 1187.52V1194.92" fill="none" stroke="#00cd00" stroke-width="1.3"/>
<path d="M244.53 1011.83H251.93M248.23 1008.13V1015.53" fill="none" stroke="#00cd00" stroke-width="1.3"/>
<path d="M128.12 1187.61H135.52M131.82 1183.91V1191.31" fill="none" stroke="#00cd00" stroke-width="1.3"/>
<path d="M365.01 1068.3L367.69 1073.01L362.34 1073.01Z" fill="none" stroke="#ff0000" stroke-width="1.3" stroke-linejoin="miter"/>
<path d="M71.85 1360.65L74.52 1365.36L69.17 1365.36Z" fill="none" stroke="#ff0000" stroke-width="1.3" stroke-linejoin="miter"/>
<path d="M374.98 1070.79L377.66 1075.5L372.31 1075.5Z" fill="none" stroke="#ff0000" stroke-width="1.3" stroke-linejoin="miter"/>
<path d="M69.31 1350.88L71.98 1355.58L66.63 1355.58Z" fill="none" stroke="#ff0000" stroke-width="1.3" stroke-linejoin="miter"/>
<path d="M380.27 1069.1L382.94 1073.8L377.59 1073.8Z" fill="none" stroke="#ff0000" stroke-width="1.3" stroke-linejoin="miter"/>
<path d="M71.03 1345.69L73.71 1350.4L68.36 1350.4Z" fill="none" stroke="#ff0000" stroke-width="1.3" stroke-linejoin="miter"/>
<path d="M366.31 1079.96L368.99 1084.67L363.64 1084.67Z" fill="none" stroke="#ff0000" stroke-width="1.3" stroke-linejoin="miter"/>
<path d="M59.95 1359.38L62.63 1364.09L57.28 1364.09Z" fill="none" stroke="#ff0000" stroke-width="1.3" stroke-linejoin="miter"/>
<path d="M379.77 1082.26L382.44 1086.97L377.09 1086.97Z" fill="none" stroke="#ff0000" stroke-width="1.3" stroke-linejoin="miter"/>
<path d="M57.62 1346.18L60.29 1350.89L54.94 1350.89Z" fill="none" stroke="#ff0000" stroke-width="1.3" stroke-linejoin="miter"/>
<path d="M374.29 1087.74L376.96 1092.45L371.61 1092.45Z" fill="none" stroke="#ff0000" stroke-width="1.3" stroke-linejoin="miter"/>
<path d="M52.02 1351.56L54.7 1356.27L49.35 1356.27Z" fill="none" stroke="#ff0000" stroke-width="1.3" stroke-linejoin="miter"/>
<path d="M351.85 1090.23L354.53 1094.94L349.18 1094.94Z" fill="none" stroke="#ff0000" stroke-width="1.3" stroke-linejoin="miter"/>
<path d="M49.48 1373.56L52.16 1378.27L46.81 1378.27Z" fill="none" stroke="#ff0000" stroke-width="1.3" stroke-linejoin="miter"/>
<path d="M355.34 1095.22L358.02 1099.93L352.67 1099.93Z" fill="none" stroke="#ff0000" stroke-width="1.3" stroke-linejoin="miter"/>
<path d="M44.4 1370.14L47.08 1374.85L41.73 1374.85Z" fill="none" stroke="#ff0000" stroke-width="1.3" stroke-linejoin="miter"/>
<path d="M362.32 1102.2L365 1106.91L359.65 1106.91Z" fill="none" stroke="#ff0000" stroke-width="1.3" stroke-linejoin="miter"/>
<path d="M37.29 1363.29L39.96 1368L34.61 1368Z" fill="none" stroke="#ff0000" stroke-width="1.3" stroke-linejoin="miter"/>
<path d="M366.51 1104.69L369.18 1109.4L363.83 1109.4Z" fill="none" stroke="#ff0000" stroke-width="1.3" stroke-linejoin="miter"/>
<path d="M34.74 1359.19L37.42 1363.9L32.07 1363.9Z" fill="none" stroke="#ff0000" stroke-width="1.3" stroke-linejoin="miter"/>
<path d="M386.25 1112.17L388.93 1116.88L383.58 1116.88Z" fill="none" stroke="#ff0000" stroke-width="1.3" stroke-linejoin="miter"/>
<path d="M27.12 1339.83L29.8 1344.53L24.45 1344.53Z" fill="none" stroke="#ff0000" stroke-width="1.3" stroke-linejoin="miter"/>
<path d="M407.19 1107.18L409.86 1111.89L404.51 1111.89Z" fill="none" stroke="#ff0000" stroke-width="1.3" stroke-linejoin="miter"/>
<path d="M32.2 1319.29L34.88 1324L29.53 1324Z" fill="none" stroke="#ff0000" stroke-width="1.3" stroke-linejoin="miter"/>
<path d="M321.23 991.19H328.63M324.93 987.49V994.89" fill="none" stroke="#00cd00" stroke-width="1.3"/>
<path d="M149.16 1402.32H156.56M152.86 1398.62V1406.02" fill="none" stroke="#00cd00" stroke-width="1.3"/>
<path d="M318.24 1004.35H325.64M321.94 1000.65V1008.05" fill="none" stroke="#00cd00" stroke-width="1.3"/>
<path d="M135.74 1405.25H143.14M139.44 1401.55V1408.95" fill="none" stroke="#00cd00" stroke-width="1.3"/>
<path d="M341.67 998.87H349.07M345.37 995.17V1002.57" fill="none" stroke="#00cd00" stroke-width="1.3"/>
<path d="M141.34 1382.27H148.74M145.04 1378.57V1385.97" fill="none" stroke="#00cd00" stroke-width="1.3"/>
<path d="M346.66 1003.85H354.06M350.36 1000.15V1007.55" fill="none" stroke="#00cd00" stroke-width="1.3"/>
<path d="M136.25 1377.38H143.65M139.95 1373.68V1381.08" fill="none" stroke="#00cd00" stroke-width="1.3"/>
<path d="M345.46 1012.33H352.86M349.16 1008.63V1016.03" fill="none" stroke="#00cd00" stroke-width="1.3"/>
<path d="M127.61 1378.56H135.01M131.31 1374.86V1382.26" fill="none" stroke="#00cd00" stroke-width="1.3"/>
<path d="M345.46 1013.33H352.86M349.16 1009.63V1017.03" fill="none" stroke="#00cd00" stroke-width="1.3"/>
<path d="M126.6 1378.56H134M130.3 1374.86V1382.26" fill="none" stroke="#00cd00" stroke-width="1.3"/>
<path d="M392.02 1002.86H399.42M395.72 999.16V1006.56" fill="none" stroke="#00cd00" stroke-width="1.3"/>
<path d="M137.27 1332.89H144.67M140.97 1329.19V1336.59" fill="none" stroke="#00cd00" stroke-width="1.3"/>
<path d="M395.01 1007.34H402.41M398.71 1003.64V1011.04" fill="none" stroke="#00cd00" stroke-width="1.3"/>
<path d="M132.7 1329.96H140.1M136.4 1326.26V1333.66" fill="none" stroke="#00cd00" stroke-width="1.3"/>
<path d="M401.99 1012.63H409.39M405.69 1008.93V1016.33" fill="none" stroke="#00cd00" stroke-width="1.3"/>
<path d="M127.31 1323.11H134.71M131.01 1319.41V1326.81" fill="none" stroke="#00cd00" stroke-width="1.3"/>
<path d="M407.97 1013.82H415.37M411.67 1010.12V1017.52" fill="none" stroke="#00cd00" stroke-width="1.3"/>
<path d="M126.09 1317.24H133.49M129.79 1313.54V1320.94" fill="none" stroke="#00cd00" stroke-width="1.3"/>
<path d="M417.74 1007.34H425.14M421.44 1003.64V1011.04" fill="none" stroke="#00cd00" stroke-width="1.3"/>
<path d="M132.7 1307.66H140.1M136.4 1303.96V1311.36" fill="none" stroke="#00cd00" stroke-width="1.3"/>
<path d="M442.57 1011.63H449.97M446.27 1007.93V1015.33" fill="none" stroke="#00cd00" stroke-width="1.3"/>
<path d="M128.32 1283.31H135.72M132.02 1279.61V1287.01" fill="none" stroke="#00cd00" stroke-width="1.3"/>
<path d="M490.58 1068.3L493.25 1073.01L487.9 1073.01Z" fill="none" stroke="#ff0000" stroke-width="1.3" stroke-linejoin="miter"/>
<path d="M71.85 1527.45L74.52 1532.16L69.17 1532.16Z" fill="none" stroke="#ff0000" stroke-width="1.3" stroke-linejoin="miter"/>
<path d="M554.19 1069.1L556.86 1073.8L551.51 1073.8Z" fill="none" stroke="#ff0000" stroke-width="1.3" stroke-linejoin="miter"/>
<path d="M71.03 1465.06L73.71 1469.77L68.36 1469.77Z" fill="none" stroke="#ff0000" stroke-width="1.3" stroke-linejoin="miter"/>
<path d="M552.69 1070.79L555.37 1075.5L550.02 1075.5Z" fill="none" stroke="#ff0000" stroke-width="1.3" stroke-linejoin="miter"/>
<path d="M69.31 1466.53L71.98 1471.23L66.63 1471.23Z" fill="none" stroke="#ff0000" stroke-width="1.3" stroke-linejoin="miter"/>
<path d="M547.71 1079.96L550.38 1084.67L545.03 1084.67Z" fill="none" stroke="#ff0000" stroke-width="1.3" stroke-linejoin="miter"/>
<path d="M59.95 1471.41L62.63 1476.12L57.28 1476.12Z" fill="none" stroke="#ff0000" stroke-width="1.3" stroke-linejoin="miter"/>
<path d="M540.93 1082.26L543.6 1086.97L538.25 1086.97Z" fill="none" stroke="#ff0000" stroke-width="1.3" stroke-linejoin="miter"/>
<path d="M57.62 1478.06L60.29 1482.77L54.94 1482.77Z" fill="none" stroke="#ff0000" stroke-width="1.3" stroke-linejoin="miter"/>
<path d="M530.56 1087.74L533.23 1092.45L527.88 1092.45Z" fill="none" stroke="#ff0000" stroke-width="1.3" stroke-linejoin="miter"/>
<path d="M52.02 1488.23L54.7 1492.94L49.35 1492.94Z" fill="none" stroke="#ff0000" stroke-width="1.3" stroke-linejoin="miter"/>
<path d="M468.64 1090.23L471.32 1094.94L465.97 1094.94Z" fill="none" stroke="#ff0000" stroke-width="1.3" stroke-linejoin="miter"/>
<path d="M49.48 1548.96L52.16 1553.67L46.81 1553.67Z" fill="none" stroke="#ff0000" stroke-width="1.3" stroke-linejoin="miter"/>
<path d="M536.74 1095.22L539.41 1099.93L534.06 1099.93Z" fill="none" stroke="#ff0000" stroke-width="1.3" stroke-linejoin="miter"/>
<path d="M44.4 1482.17L47.08 1486.88L41.73 1486.88Z" fill="none" stroke="#ff0000" stroke-width="1.3" stroke-linejoin="miter"/>
<path d="M488.88 1101.9L491.56 1106.61L486.21 1106.61Z" fill="none" stroke="#ff0000" stroke-width="1.3" stroke-linejoin="miter"/>
<path d="M37.59 1529.11L40.27 1533.82L34.92 1533.82Z" fill="none" stroke="#ff0000" stroke-width="1.3" stroke-linejoin="miter"/>
<path d="M542.72 1104.69L545.4 1109.4L540.05 1109.4Z" fill="none" stroke="#ff0000" stroke-width="1.3" stroke-linejoin="miter"/>
<path d="M34.74 1476.3L37.42 1481.01L32.07 1481.01Z" fill="none" stroke="#ff0000" stroke-width="1.3" stroke-linejoin="miter"/>
<path d="M568.64 1107.18L571.32 1111.89L565.97 1111.89Z" fill="none" stroke="#ff0000" stroke-width="1.3" stroke-linejoin="miter"/>
<path d="M32.2 1450.88L34.88 1455.59L29.53 1455.59Z" fill="none" stroke="#ff0000" stroke-width="1.3" stroke-linejoin="miter"/>
<path d="M593.37 1112.17L596.04 1116.88L590.69 1116.88Z" fill="none" stroke="#ff0000" stroke-width="1.3" stroke-linejoin="miter"/>
<path d="M27.12 1426.63L29.8 1431.34L24.45 1431.34Z" fill="none" stroke="#ff0000" stroke-width="1.3" stroke-linejoin="miter"/>
<path d="M514.6 991.19H522M518.3 987.49V994.89" fill="none" stroke="#00cd00" stroke-width="1.3"/>
<path d="M149.16 1502.62H156.56M152.86 1498.92V1506.32" fill="none" stroke="#00cd00" stroke-width="1.3"/>
<path d="M492.16 1003.55H499.56M495.86 999.85V1007.25" fill="none" stroke="#00cd00" stroke-width="1.3"/>
<path d="M136.56 1524.62H143.96M140.26 1520.92V1528.32" fill="none" stroke="#00cd00" stroke-width="1.3"/>
<path d="M546.7 998.87H554.1M550.4 995.17V1002.57" fill="none" stroke="#00cd00" stroke-width="1.3"/>
<path d="M141.34 1471.13H148.74M145.04 1467.43V1474.83" fill="none" stroke="#00cd00" stroke-width="1.3"/>
<path d="M545.3 1003.85H552.7M549 1000.15V1007.55" fill="none" stroke="#00cd00" stroke-width="1.3"/>
<path d="M136.25 1472.5H143.65M139.95 1468.8V1476.2" fill="none" stroke="#00cd00" stroke-width="1.3"/>
<path d="M518.08 1007.34H525.48M521.78 1003.64V1011.04" fill="none" stroke="#00cd00" stroke-width="1.3"/>
<path d="M132.7 1499.19H140.1M136.4 1495.49V1502.89" fill="none" stroke="#00cd00" stroke-width="1.3"/>
<path d="M522.07 1007.34H529.47M525.77 1003.64V1011.04" fill="none" stroke="#00cd00" stroke-width="1.3"/>
<path d="M132.7 1495.28H140.1M136.4 1491.58V1498.98" fill="none" stroke="#00cd00" stroke-width="1.3"/>
<path d="M523.07 1012.63H530.47M526.77 1008.93V1016.33" fill="none" stroke="#00cd00" stroke-width="1.3"/>
<path d="M127.31 1494.3H134.71M131.01 1490.6V1498" fill="none" stroke="#00cd00" stroke-width="1.3"/>
<path d="M513.6 1014.32H521M517.3 1010.62V1018.02" fill="none" stroke="#00cd00" stroke-width="1.3"/>
<path d="M125.58 1503.59H132.98M129.28 1499.89V1507.29" fill="none" stroke="#00cd00" stroke-width="1.3"/>
<path d="M540.02 1012.83H547.42M543.72 1009.13V1016.53" fill="none" stroke="#00cd00" stroke-width="1.3"/>
<path d="M127.1 1477.68H134.5M130.8 1473.98V1481.38" fill="none" stroke="#00cd00" stroke-width="1.3"/>
<path d="M552.98 1011.63H560.38M556.68 1007.93V1015.33" fill="none" stroke="#00cd00" stroke-width="1.3"/>
<path d="M128.32 1464.97H135.72M132.02 1461.27V1468.67" fill="none" stroke="#00cd00" stroke-width="1.3"/>
<path d="M563.45 1004.35H570.85M567.15 1000.65V1008.05" fill="none" stroke="#00cd00" stroke-width="1.3"/>
<path d="M135.74 1454.7H143.14M139.44 1451V1458.4" fill="none" stroke="#00cd00" stroke-width="1.3"/>
<path d="M583.89 1011.83H591.29M587.59 1008.13V1015.53" fill="none" stroke="#00cd00" stroke-width="1.3"/>
<path d="M128.12 1434.65H135.52M131.82 1430.95V1438.35" fill="none" stroke="#00cd00" stroke-width="1.3"/>
<path d="M663.3 1069.3L665.98 1074L660.63 1074Z" fill="none" stroke="#ff0000" stroke-width="1.3" stroke-linejoin="miter"/>
<path d="M70.83 1647.99L73.51 1652.7L68.16 1652.7Z" fill="none" stroke="#ff0000" stroke-width="1.3" stroke-linejoin="miter"/>
<path d="M682.24 1070.99L684.92 1075.7L679.57 1075.7Z" fill="none" stroke="#ff0000" stroke-width="1.3" stroke-linejoin="miter"/>
<path d="M69.1 1629.41L71.78 1634.12L66.43 1634.12Z" fill="none" stroke="#ff0000" stroke-width="1.3" stroke-linejoin="miter"/>
<path d="M717.94 1068.3L720.61 1073.01L715.26 1073.01Z" fill="none" stroke="#ff0000" stroke-width="1.3" stroke-linejoin="miter"/>
<path d="M71.85 1594.4L74.52 1599.11L69.17 1599.11Z" fill="none" stroke="#ff0000" stroke-width="1.3" stroke-linejoin="miter"/>
<path d="M679.05 1079.96L681.73 1084.67L676.38 1084.67Z" fill="none" stroke="#ff0000" stroke-width="1.3" stroke-linejoin="miter"/>
<path d="M59.95 1632.54L62.63 1637.24L57.28 1637.24Z" fill="none" stroke="#ff0000" stroke-width="1.3" stroke-linejoin="miter"/>
<path d="M692.01 1082.26L694.69 1086.97L689.34 1086.97Z" fill="none" stroke="#ff0000" stroke-width="1.3" stroke-linejoin="miter"/>
<path d="M57.62 1619.82L60.29 1624.53L54.94 1624.53Z" fill="none" stroke="#ff0000" stroke-width="1.3" stroke-linejoin="miter"/>
<path d="M710.16 1087.24L712.84 1091.95L707.49 1091.95Z" fill="none" stroke="#ff0000" stroke-width="1.3" stroke-linejoin="miter"/>
<path d="M52.53 1602.03L55.21 1606.73L49.86 1606.73Z" fill="none" stroke="#ff0000" stroke-width="1.3" stroke-linejoin="miter"/>
<path d="M711.66 1090.23L714.33 1094.94L708.98 1094.94Z" fill="none" stroke="#ff0000" stroke-width="1.3" stroke-linejoin="miter"/>
<path d="M49.48 1600.56L52.16 1605.27L46.81 1605.27Z" fill="none" stroke="#ff0000" stroke-width="1.3" stroke-linejoin="miter"/>
<path d="M723.42 1095.22L726.1 1099.93L720.75 1099.93Z" fill="none" stroke="#ff0000" stroke-width="1.3" stroke-linejoin="miter"/>
<path d="M44.4 1589.02L47.08 1593.73L41.73 1593.73Z" fill="none" stroke="#ff0000" stroke-width="1.3" stroke-linejoin="miter"/>
<path d="M720.13 1101.9L722.81 1106.61L717.46 1106.61Z" fill="none" stroke="#ff0000" stroke-width="1.3" stroke-linejoin="miter"/>
<path d="M37.59 1592.25L40.27 1596.96L34.92 1596.96Z" fill="none" stroke="#ff0000" stroke-width="1.3" stroke-linejoin="miter"/>
<path d="M642.16 1104.69L644.84 1109.4L639.49 1109.4Z" fill="none" stroke="#ff0000" stroke-width="1.3" stroke-linejoin="miter"/>
<path d="M34.74 1668.72L37.42 1673.43L32.07 1673.43Z" fill="none" stroke="#ff0000" stroke-width="1.3" stroke-linejoin="miter"/>
<path d="M674.27 1107.18L676.94 1111.89L671.59 1111.89Z" fill="none" stroke="#ff0000" stroke-width="1.3" stroke-linejoin="miter"/>
<path d="M32.2 1637.23L34.88 1641.94L29.53 1641.94Z" fill="none" stroke="#ff0000" stroke-width="1.3" stroke-linejoin="miter"/>
<path d="M693.91 1112.17L696.58 1116.88L691.23 1116.88Z" fill="none" stroke="#ff0000" stroke-width="1.3" stroke-linejoin="miter"/>
<path d="M27.12 1617.97L29.8 1622.67L24.45 1622.67Z" fill="none" stroke="#ff0000" stroke-width="1.3" stroke-linejoin="miter"/>
<path d="M611.94 991.19H619.34M615.64 987.49V994.89" fill="none" stroke="#00cd00" stroke-width="1.3"/>
<path d="M149.16 1697.08H156.56M152.86 1693.38V1700.78" fill="none" stroke="#00cd00" stroke-width="1.3"/>
<path d="M671.57 998.87H678.97M675.27 995.17V1002.57" fill="none" stroke="#00cd00" stroke-width="1.3"/>
<path d="M141.34 1638.61H148.74M145.04 1634.91V1642.31" fill="none" stroke="#00cd00" stroke-width="1.3"/>
<path d="M680.74 1003.55H688.14M684.44 999.85V1007.25" fill="none" stroke="#00cd00" stroke-width="1.3"/>
<path d="M136.56 1629.61H143.96M140.26 1625.91V1633.31" fill="none" stroke="#00cd00" stroke-width="1.3"/>
<path d="M694.5 1004.15H701.9M698.2 1000.45V1007.85" fill="none" stroke="#00cd00" stroke-width="1.3"/>
<path d="M135.95 1616.12H143.35M139.65 1612.42V1619.82" fill="none" stroke="#00cd00" stroke-width="1.3"/>
<path d="M666.38 1007.84H673.78M670.08 1004.14V1011.54" fill="none" stroke="#00cd00" stroke-width="1.3"/>
<path d="M132.19 1643.69H139.59M135.89 1639.99V1647.39" fill="none" stroke="#00cd00" stroke-width="1.3"/>
<path d="M671.57 1007.34H678.97M675.27 1003.64V1011.04" fill="none" stroke="#00cd00" stroke-width="1.3"/>
<path d="M132.7 1638.61H140.1M136.4 1634.91V1642.31" fill="none" stroke="#00cd00" stroke-width="1.3"/>
<path d="M699.78 1012.83H707.18M703.48 1009.13V1016.53" fill="none" stroke="#00cd00" stroke-width="1.3"/>
<path d="M127.1 1610.93H134.5M130.8 1607.23V1614.63" fill="none" stroke="#00cd00" stroke-width="1.3"/>
<path d="M706.46 1011.33H713.86M710.16 1007.63V1015.03" fill="none" stroke="#00cd00" stroke-width="1.3"/>
<path d="M128.63 1604.38H136.03M132.33 1600.68V1608.08" fill="none" stroke="#00cd00" stroke-width="1.3"/>
<path d="M711.74 1012.63H719.14M715.44 1008.93V1016.33" fill="none" stroke="#00cd00" stroke-width="1.3"/>
<path d="M127.31 1599.2H134.71M131.01 1595.5V1602.9" fill="none" stroke="#00cd00" stroke-width="1.3"/>
<path d="M719.42 1014.32H726.82M723.12 1010.62V1018.02" fill="none" stroke="#00cd00" stroke-width="1.3"/>
<path d="M125.58 1591.67H132.98M129.28 1587.97V1595.37" fill="none" stroke="#00cd00" stroke-width="1.3"/>
<path d="M736.57 1004.15H743.97M740.27 1000.45V1007.85" fill="none" stroke="#00cd00" stroke-width="1.3"/>
<path d="M135.95 1574.85H143.35M139.65 1571.15V1578.55" fill="none" stroke="#00cd00" stroke-width="1.3"/>
<path d="M735.17 1011.83H742.57M738.87 1008.13V1015.53" fill="none" stroke="#00cd00" stroke-width="1.3"/>
<path d="M128.12 1576.22H135.52M131.82 1572.52V1579.92" fill="none" stroke="#00cd00" stroke-width="1.3"/>
<path d="M407.19 1134.55L409.86 1139.26L404.51 1139.26Z" fill="none" stroke="#ff0000" stroke-width="1.3" stroke-linejoin="miter"/>
<path d="M299.92 1319.29L302.6 1324L297.25 1324Z" fill="none" stroke="#ff0000" stroke-width="1.3" stroke-linejoin="miter"/>
<path d="M355.34 1143.52L358.02 1148.23L352.67 1148.23Z" fill="none" stroke="#ff0000" stroke-width="1.3" stroke-linejoin="miter"/>
<path d="M290.77 1370.14L293.45 1374.85L288.1 1374.85Z" fill="none" stroke="#ff0000" stroke-width="1.3" stroke-linejoin="miter"/>
<path d="M366.31 1142.33L368.99 1147.03L363.64 1147.03Z" fill="none" stroke="#ff0000" stroke-width="1.3" stroke-linejoin="miter"/>
<path d="M291.99 1359.38L294.67 1364.09L289.32 1364.09Z" fill="none" stroke="#ff0000" stroke-width="1.3" stroke-linejoin="miter"/>
<path d="M386.25 1142.33L388.93 1147.03L383.58 1147.03Z" fill="none" stroke="#ff0000" stroke-width="1.3" stroke-linejoin="miter"/>
<path d="M291.99 1339.83L294.67 1344.53L289.32 1344.53Z" fill="none" stroke="#ff0000" stroke-width="1.3" stroke-linejoin="miter"/>
<path d="M351.85 1152.8L354.53 1157.5L349.18 1157.5Z" fill="none" stroke="#ff0000" stroke-width="1.3" stroke-linejoin="miter"/>
<path d="M281.32 1373.56L283.99 1378.27L278.64 1378.27Z" fill="none" stroke="#ff0000" stroke-width="1.3" stroke-linejoin="miter"/>
<path d="M362.52 1152.2L365.2 1156.91L359.85 1156.91Z" fill="none" stroke="#ff0000" stroke-width="1.3" stroke-linejoin="miter"/>
<path d="M281.93 1363.1L284.6 1367.81L279.25 1367.81Z" fill="none" stroke="#ff0000" stroke-width="1.3" stroke-linejoin="miter"/>
<path d="M365.01 1230.56L367.69 1235.27L362.34 1235.27Z" fill="none" stroke="#ff0000" stroke-width="1.3" stroke-linejoin="miter"/>
<path d="M202.03 1360.65L204.7 1365.36L199.35 1365.36Z" fill="none" stroke="#ff0000" stroke-width="1.3" stroke-linejoin="miter"/>
<path d="M379.77 1234.55L382.44 1239.26L377.09 1239.26Z" fill="none" stroke="#ff0000" stroke-width="1.3" stroke-linejoin="miter"/>
<path d="M197.96 1346.18L200.64 1350.89L195.29 1350.89Z" fill="none" stroke="#ff0000" stroke-width="1.3" stroke-linejoin="miter"/>
<path d="M366.31 1243.52L368.99 1248.23L363.64 1248.23Z" fill="none" stroke="#ff0000" stroke-width="1.3" stroke-linejoin="miter"/>
<path d="M188.82 1359.38L191.49 1364.09L186.14 1364.09Z" fill="none" stroke="#ff0000" stroke-width="1.3" stroke-linejoin="miter"/>
<path d="M373.99 1241.93L376.66 1246.64L371.31 1246.64Z" fill="none" stroke="#ff0000" stroke-width="1.3" stroke-linejoin="miter"/>
<path d="M190.44 1351.85L193.12 1356.56L187.77 1356.56Z" fill="none" stroke="#ff0000" stroke-width="1.3" stroke-linejoin="miter"/>
<path d="M375.28 1246.22L377.96 1250.92L372.61 1250.92Z" fill="none" stroke="#ff0000" stroke-width="1.3" stroke-linejoin="miter"/>
<path d="M186.07 1350.58L188.75 1355.29L183.4 1355.29Z" fill="none" stroke="#ff0000" stroke-width="1.3" stroke-linejoin="miter"/>
<path d="M379.57 1257.68L382.25 1262.39L376.9 1262.39Z" fill="none" stroke="#ff0000" stroke-width="1.3" stroke-linejoin="miter"/>
<path d="M174.38 1346.38L177.06 1351.08L171.71 1351.08Z" fill="none" stroke="#ff0000" stroke-width="1.3" stroke-linejoin="miter"/>
<path d="M321.23 1167.81H328.63M324.93 1164.11V1171.51" fill="none" stroke="#00cd00" stroke-width="1.3"/>
<path d="M264.71 1402.32H272.11M268.41 1398.62V1406.02" fill="none" stroke="#00cd00" stroke-width="1.3"/>
<path d="M346.16 1176.59H353.56M349.86 1172.89V1180.29" fill="none" stroke="#00cd00" stroke-width="1.3"/>
<path d="M255.76 1377.87H263.16M259.46 1374.17V1381.57" fill="none" stroke="#00cd00" stroke-width="1.3"/>
<path d="M317.94 1186.06H325.34M321.64 1182.36V1189.76" fill="none" stroke="#00cd00" stroke-width="1.3"/>
<path d="M246.11 1405.55H253.51M249.81 1401.85V1409.25" fill="none" stroke="#00cd00" stroke-width="1.3"/>
<path d="M341.67 1185.76H349.07M345.37 1182.06V1189.46" fill="none" stroke="#00cd00" stroke-width="1.3"/>
<path d="M246.41 1382.27H253.81M250.11 1378.57V1385.97" fill="none" stroke="#00cd00" stroke-width="1.3"/>
<path d="M344.96 1187.25H352.36M348.66 1183.55V1190.95" fill="none" stroke="#00cd00" stroke-width="1.3"/>
<path d="M244.89 1379.05H252.29M248.59 1375.35V1382.75" fill="none" stroke="#00cd00" stroke-width="1.3"/>
<path d="M345.46 1188.05H352.86M349.16 1184.35V1191.75" fill="none" stroke="#00cd00" stroke-width="1.3"/>
<path d="M244.07 1378.56H251.47M247.77 1374.86V1382.26" fill="none" stroke="#00cd00" stroke-width="1.3"/>
<path d="M392.02 1184.46H399.42M395.72 1180.76V1188.16" fill="none" stroke="#00cd00" stroke-width="1.3"/>
<path d="M247.73 1332.89H255.13M251.43 1329.19V1336.59" fill="none" stroke="#00cd00" stroke-width="1.3"/>
<path d="M394.71 1184.46H402.11M398.41 1180.76V1188.16" fill="none" stroke="#00cd00" stroke-width="1.3"/>
<path d="M247.73 1330.25H255.13M251.43 1326.55V1333.95" fill="none" stroke="#00cd00" stroke-width="1.3"/>
<path d="M401.99 1186.26H409.39M405.69 1182.56V1189.96" fill="none" stroke="#00cd00" stroke-width="1.3"/>
<path d="M245.9 1323.11H253.3M249.6 1319.41V1326.81" fill="none" stroke="#00cd00" stroke-width="1.3"/>
<path d="M407.97 1191.04H415.37M411.67 1187.34V1194.74" fill="none" stroke="#00cd00" stroke-width="1.3"/>
<path d="M241.02 1317.24H248.42M244.72 1313.54V1320.94" fill="none" stroke="#00cd00" stroke-width="1.3"/>
<path d="M417.74 1184.46H425.14M421.44 1180.76V1188.16" fill="none" stroke="#00cd00" stroke-width="1.3"/>
<path d="M247.73 1307.66H255.13M251.43 1303.96V1311.36" fill="none" stroke="#00cd00" stroke-width="1.3"/>
<path d="M442.57 1170H449.97M446.27 1166.3V1173.7" fill="none" stroke="#00cd00" stroke-width="1.3"/>
<path d="M262.47 1283.31H269.87M266.17 1279.61V1287.01" fill="none" stroke="#00cd00" stroke-width="1.3"/>
<path d="M568.64 1134.55L571.32 1139.26L565.97 1139.26Z" fill="none" stroke="#ff0000" stroke-width="1.3" stroke-linejoin="miter"/>
<path d="M299.92 1450.88L302.6 1455.59L297.25 1455.59Z" fill="none" stroke="#ff0000" stroke-width="1.3" stroke-linejoin="miter"/>
<path d="M536.74 1143.52L539.41 1148.23L534.06 1148.23Z" fill="none" stroke="#ff0000" stroke-width="1.3" stroke-linejoin="miter"/>
<path d="M290.77 1482.17L293.45 1486.88L288.1 1486.88Z" fill="none" stroke="#ff0000" stroke-width="1.3" stroke-linejoin="miter"/>
<path d="M542.72 1142.33L545.4 1147.03L540.05 1147.03Z" fill="none" stroke="#ff0000" stroke-width="1.3" stroke-linejoin="miter"/>
<path d="M291.99 1476.3L294.67 1481.01L289.32 1481.01Z" fill="none" stroke="#ff0000" stroke-width="1.3" stroke-linejoin="miter"/>
<path d="M593.37 1142.33L596.04 1147.03L590.69 1147.03Z" fill="none" stroke="#ff0000" stroke-width="1.3" stroke-linejoin="miter"/>
<path d="M291.99 1426.63L294.67 1431.34L289.32 1431.34Z" fill="none" stroke="#ff0000" stroke-width="1.3" stroke-linejoin="miter"/>
<path d="M468.64 1152.8L471.32 1157.5L465.97 1157.5Z" fill="none" stroke="#ff0000" stroke-width="1.3" stroke-linejoin="miter"/>
<path d="M281.32 1548.96L283.99 1553.67L278.64 1553.67Z" fill="none" stroke="#ff0000" stroke-width="1.3" stroke-linejoin="miter"/>
<path d="M488.88 1152.5L491.56 1157.2L486.21 1157.2Z" fill="none" stroke="#ff0000" stroke-width="1.3" stroke-linejoin="miter"/>
<path d="M281.62 1529.11L284.3 1533.82L278.95 1533.82Z" fill="none" stroke="#ff0000" stroke-width="1.3" stroke-linejoin="miter"/>
<path d="M490.58 1230.56L493.25 1235.27L487.9 1235.27Z" fill="none" stroke="#ff0000" stroke-width="1.3" stroke-linejoin="miter"/>
<path d="M202.03 1527.45L204.7 1532.16L199.35 1532.16Z" fill="none" stroke="#ff0000" stroke-width="1.3" stroke-linejoin="miter"/>
<path d="M540.93 1234.55L543.6 1239.26L538.25 1239.26Z" fill="none" stroke="#ff0000" stroke-width="1.3" stroke-linejoin="miter"/>
<path d="M197.96 1478.06L200.64 1482.77L195.29 1482.77Z" fill="none" stroke="#ff0000" stroke-width="1.3" stroke-linejoin="miter"/>
<path d="M530.56 1241.93L533.23 1246.64L527.88 1246.64Z" fill="none" stroke="#ff0000" stroke-width="1.3" stroke-linejoin="miter"/>
<path d="M190.44 1488.23L193.12 1492.94L187.77 1492.94Z" fill="none" stroke="#ff0000" stroke-width="1.3" stroke-linejoin="miter"/>
<path d="M547.71 1243.52L550.38 1248.23L545.03 1248.23Z" fill="none" stroke="#ff0000" stroke-width="1.3" stroke-linejoin="miter"/>
<path d="M188.82 1471.41L191.49 1476.12L186.14 1476.12Z" fill="none" stroke="#ff0000" stroke-width="1.3" stroke-linejoin="miter"/>
<path d="M552.69 1246.22L555.37 1250.92L550.02 1250.92Z" fill="none" stroke="#ff0000" stroke-width="1.3" stroke-linejoin="miter"/>
<path d="M186.07 1466.53L188.75 1471.23L183.4 1471.23Z" fill="none" stroke="#ff0000" stroke-width="1.3" stroke-linejoin="miter"/>
<path d="M554.19 1257.68L556.86 1262.39L551.51 1262.39Z" fill="none" stroke="#ff0000" stroke-width="1.3" stroke-linejoin="miter"/>
<path d="M174.38 1465.06L177.06 1469.77L171.71 1469.77Z" fill="none" stroke="#ff0000" stroke-width="1.3" stroke-linejoin="miter"/>
<path d="M514.6 1167.81H522M518.3 1164.11V1171.51" fill="none" stroke="#00cd00" stroke-width="1.3"/>
<path d="M264.71 1502.62H272.11M268.41 1498.92V1506.32" fill="none" stroke="#00cd00" stroke-width="1.3"/>
<path d="M552.98 1170H560.38M556.68 1166.3V1173.7" fill="none" stroke="#00cd00" stroke-width="1.3"/>
<path d="M262.47 1464.97H269.87M266.17 1461.27V1468.67" fill="none" stroke="#00cd00" stroke-width="1.3"/>
<path d="M540.02 1176.78H547.42M543.72 1173.08V1180.48" fill="none" stroke="#00cd00" stroke-width="1.3"/>
<path d="M255.56 1477.68H262.96M259.26 1473.98V1481.38" fill="none" stroke="#00cd00" stroke-width="1.3"/>
<path d="M545.3 1176.29H552.7M549 1172.59V1179.99" fill="none" stroke="#00cd00" stroke-width="1.3"/>
<path d="M256.07 1472.5H263.47M259.77 1468.8V1476.2" fill="none" stroke="#00cd00" stroke-width="1.3"/>
<path d="M492.16 1184.46H499.56M495.86 1180.76V1188.16" fill="none" stroke="#00cd00" stroke-width="1.3"/>
<path d="M247.73 1524.62H255.13M251.43 1520.92V1528.32" fill="none" stroke="#00cd00" stroke-width="1.3"/>
<path d="M518.08 1184.76H525.48M521.78 1181.06V1188.46" fill="none" stroke="#00cd00" stroke-width="1.3"/>
<path d="M247.43 1499.19H254.83M251.13 1495.49V1502.89" fill="none" stroke="#00cd00" stroke-width="1.3"/>
<path d="M522.07 1184.46H529.47M525.77 1180.76V1188.16" fill="none" stroke="#00cd00" stroke-width="1.3"/>
<path d="M247.73 1495.28H255.13M251.43 1491.58V1498.98" fill="none" stroke="#00cd00" stroke-width="1.3"/>
<path d="M523.57 1185.76H530.97M527.27 1182.06V1189.46" fill="none" stroke="#00cd00" stroke-width="1.3"/>
<path d="M246.41 1493.82H253.81M250.11 1490.12V1497.52" fill="none" stroke="#00cd00" stroke-width="1.3"/>
<path d="M513.6 1191.04H521M517.3 1187.34V1194.74" fill="none" stroke="#00cd00" stroke-width="1.3"/>
<path d="M241.02 1503.59H248.42M244.72 1499.89V1507.29" fill="none" stroke="#00cd00" stroke-width="1.3"/>
<path d="M546.7 1186.26H554.1M550.4 1182.56V1189.96" fill="none" stroke="#00cd00" stroke-width="1.3"/>
<path d="M245.9 1471.13H253.3M249.6 1467.43V1474.83" fill="none" stroke="#00cd00" stroke-width="1.3"/>
<path d="M563.45 1186.26H570.85M567.15 1182.56V1189.96" fill="none" stroke="#00cd00" stroke-width="1.3"/>
<path d="M245.9 1454.7H253.3M249.6 1451V1458.4" fill="none" stroke="#00cd00" stroke-width="1.3"/>
<path d="M583.89 1187.75H591.29M587.59 1184.05V1191.45" fill="none" stroke="#00cd00" stroke-width="1.3"/>
<path d="M244.38 1434.65H251.78M248.08 1430.95V1438.35" fill="none" stroke="#00cd00" stroke-width="1.3"/>
<path d="M674.27 1134.55L676.94 1139.26L671.59 1139.26Z" fill="none" stroke="#ff0000" stroke-width="1.3" stroke-linejoin="miter"/>
<path d="M299.92 1637.23L302.6 1641.94L297.25 1641.94Z" fill="none" stroke="#ff0000" stroke-width="1.3" stroke-linejoin="miter"/>
<path d="M642.16 1142.53L644.84 1147.23L639.49 1147.23Z" fill="none" stroke="#ff0000" stroke-width="1.3" stroke-linejoin="miter"/>
<path d="M291.79 1668.72L294.46 1673.43L289.11 1673.43Z" fill="none" stroke="#ff0000" stroke-width="1.3" stroke-linejoin="miter"/>
<path d="M693.91 1142.33L696.58 1147.03L691.23 1147.03Z" fill="none" stroke="#ff0000" stroke-width="1.3" stroke-linejoin="miter"/>
<path d="M291.99 1617.97L294.67 1622.67L289.32 1622.67Z" fill="none" stroke="#ff0000" stroke-width="1.3" stroke-linejoin="miter"/>
<path d="M723.42 1143.52L726.1 1148.23L720.75 1148.23Z" fill="none" stroke="#ff0000" stroke-width="1.3" stroke-linejoin="miter"/>
<path d="M290.77 1589.02L293.45 1593.73L288.1 1593.73Z" fill="none" stroke="#ff0000" stroke-width="1.3" stroke-linejoin="miter"/>
<path d="M711.66 1152.8L714.33 1157.5L708.98 1157.5Z" fill="none" stroke="#ff0000" stroke-width="1.3" stroke-linejoin="miter"/>
<path d="M281.32 1600.56L283.99 1605.27L278.64 1605.27Z" fill="none" stroke="#ff0000" stroke-width="1.3" stroke-linejoin="miter"/>
<path d="M720.13 1152.5L722.81 1157.2L717.46 1157.2Z" fill="none" stroke="#ff0000" stroke-width="1.3" stroke-linejoin="miter"/>
<path d="M281.62 1592.25L284.3 1596.96L278.95 1596.96Z" fill="none" stroke="#ff0000" stroke-width="1.3" stroke-linejoin="miter"/>
<path d="M717.94 1230.56L720.61 1235.27L715.26 1235.27Z" fill="none" stroke="#ff0000" stroke-width="1.3" stroke-linejoin="miter"/>
<path d="M202.03 1594.4L204.7 1599.11L199.35 1599.11Z" fill="none" stroke="#ff0000" stroke-width="1.3" stroke-linejoin="miter"/>
<path d="M692.01 1234.55L694.69 1239.26L689.34 1239.26Z" fill="none" stroke="#ff0000" stroke-width="1.3" stroke-linejoin="miter"/>
<path d="M197.96 1619.82L200.64 1624.53L195.29 1624.53Z" fill="none" stroke="#ff0000" stroke-width="1.3" stroke-linejoin="miter"/>
<path d="M710.16 1241.93L712.84 1246.64L707.49 1246.64Z" fill="none" stroke="#ff0000" stroke-width="1.3" stroke-linejoin="miter"/>
<path d="M190.44 1602.03L193.12 1606.73L187.77 1606.73Z" fill="none" stroke="#ff0000" stroke-width="1.3" stroke-linejoin="miter"/>
<path d="M679.05 1243.52L681.73 1248.23L676.38 1248.23Z" fill="none" stroke="#ff0000" stroke-width="1.3" stroke-linejoin="miter"/>
<path d="M188.82 1632.54L191.49 1637.24L186.14 1637.24Z" fill="none" stroke="#ff0000" stroke-width="1.3" stroke-linejoin="miter"/>
<path d="M682.24 1246.22L684.92 1250.92L679.57 1250.92Z" fill="none" stroke="#ff0000" stroke-width="1.3" stroke-linejoin="miter"/>
<path d="M186.07 1629.41L188.75 1634.12L183.4 1634.12Z" fill="none" stroke="#ff0000" stroke-width="1.3" stroke-linejoin="miter"/>
<path d="M663.3 1257.68L665.98 1262.39L660.63 1262.39Z" fill="none" stroke="#ff0000" stroke-width="1.3" stroke-linejoin="miter"/>
<path d="M174.38 1647.99L177.06 1652.7L171.71 1652.7Z" fill="none" stroke="#ff0000" stroke-width="1.3" stroke-linejoin="miter"/>
<path d="M611.94 1167.81H619.34M615.64 1164.11V1171.51" fill="none" stroke="#00cd00" stroke-width="1.3"/>
<path d="M264.71 1697.08H272.11M268.41 1693.38V1700.78" fill="none" stroke="#00cd00" stroke-width="1.3"/>
<path d="M706.46 1170H713.86M710.16 1166.3V1173.7" fill="none" stroke="#00cd00" stroke-width="1.3"/>
<path d="M262.47 1604.38H269.87M266.17 1600.68V1608.08" fill="none" stroke="#00cd00" stroke-width="1.3"/>
<path d="M694.5 1176.29H701.9M698.2 1172.59V1179.99" fill="none" stroke="#00cd00" stroke-width="1.3"/>
<path d="M256.07 1616.12H263.47M259.77 1612.42V1619.82" fill="none" stroke="#00cd00" stroke-width="1.3"/>
<path d="M699.78 1176.78H707.18M703.48 1173.08V1180.48" fill="none" stroke="#00cd00" stroke-width="1.3"/>
<path d="M255.56 1610.93H262.96M259.26 1607.23V1614.63" fill="none" stroke="#00cd00" stroke-width="1.3"/>
<path d="M666.38 1184.76H673.78M670.08 1181.06V1188.46" fill="none" stroke="#00cd00" stroke-width="1.3"/>
<path d="M247.43 1643.69H254.83M251.13 1639.99V1647.39" fill="none" stroke="#00cd00" stroke-width="1.3"/>
<path d="M671.57 1184.06H678.97M675.27 1180.36V1187.76" fill="none" stroke="#00cd00" stroke-width="1.3"/>
<path d="M248.14 1638.61H255.54M251.84 1634.91V1642.31" fill="none" stroke="#00cd00" stroke-width="1.3"/>
<path d="M671.57 1185.56H678.97M675.27 1181.86V1189.26" fill="none" stroke="#00cd00" stroke-width="1.3"/>
<path d="M246.61 1638.61H254.01M250.31 1634.91V1642.31" fill="none" stroke="#00cd00" stroke-width="1.3"/>
<path d="M680.74 1184.46H688.14M684.44 1180.76V1188.16" fill="none" stroke="#00cd00" stroke-width="1.3"/>
<path d="M247.73 1629.61H255.13M251.43 1625.91V1633.31" fill="none" stroke="#00cd00" stroke-width="1.3"/>
<path d="M711.74 1186.26H719.14M715.44 1182.56V1189.96" fill="none" stroke="#00cd00" stroke-width="1.3"/>
<path d="M245.9 1599.2H253.3M249.6 1595.5V1602.9" fill="none" stroke="#00cd00" stroke-width="1.3"/>
<path d="M719.42 1191.04H726.82M723.12 1187.34V1194.74" fill="none" stroke="#00cd00" stroke-width="1.3"/>
<path d="M241.02 1591.67H248.42M244.72 1587.97V1595.37" fill="none" stroke="#00cd00" stroke-width="1.3"/>
<path d="M735.17 1187.75H742.57M738.87 1184.05V1191.45" fill="none" stroke="#00cd00" stroke-width="1.3"/>
<path d="M244.38 1576.22H251.78M248.08 1572.52V1579.92" fill="none" stroke="#00cd00" stroke-width="1.3"/>
<path d="M736.57 1186.26H743.97M740.27 1182.56V1189.96" fill="none" stroke="#00cd00" stroke-width="1.3"/>
<path d="M245.9 1574.85H253.3M249.6 1571.15V1578.55" fill="none" stroke="#00cd00" stroke-width="1.3"/>
<path d="M568.64 1318.44L571.32 1323.14L565.97 1323.14Z" fill="none" stroke="#ff0000" stroke-width="1.3" stroke-linejoin="miter"/>
<path d="M408.06 1450.88L410.73 1455.59L405.38 1455.59Z" fill="none" stroke="#ff0000" stroke-width="1.3" stroke-linejoin="miter"/>
<path d="M593.37 1339.37L596.04 1344.08L590.69 1344.08Z" fill="none" stroke="#ff0000" stroke-width="1.3" stroke-linejoin="miter"/>
<path d="M386.71 1426.63L389.39 1431.34L384.04 1431.34Z" fill="none" stroke="#ff0000" stroke-width="1.3" stroke-linejoin="miter"/>
<path d="M540.93 1345.36L543.6 1350.06L538.25 1350.06Z" fill="none" stroke="#ff0000" stroke-width="1.3" stroke-linejoin="miter"/>
<path d="M380.61 1478.06L383.29 1482.77L377.94 1482.77Z" fill="none" stroke="#ff0000" stroke-width="1.3" stroke-linejoin="miter"/>
<path d="M554.19 1345.36L556.86 1350.06L551.51 1350.06Z" fill="none" stroke="#ff0000" stroke-width="1.3" stroke-linejoin="miter"/>
<path d="M380.61 1465.06L383.29 1469.77L377.94 1469.77Z" fill="none" stroke="#ff0000" stroke-width="1.3" stroke-linejoin="miter"/>
<path d="M552.69 1350.34L555.37 1355.05L550.02 1355.05Z" fill="none" stroke="#ff0000" stroke-width="1.3" stroke-linejoin="miter"/>
<path d="M375.53 1466.53L378.2 1471.23L372.85 1471.23Z" fill="none" stroke="#ff0000" stroke-width="1.3" stroke-linejoin="miter"/>
<path d="M530.56 1351.04L533.23 1355.75L527.88 1355.75Z" fill="none" stroke="#ff0000" stroke-width="1.3" stroke-linejoin="miter"/>
<path d="M374.82 1488.23L377.49 1492.94L372.14 1492.94Z" fill="none" stroke="#ff0000" stroke-width="1.3" stroke-linejoin="miter"/>
<path d="M542.72 1358.82L545.4 1363.52L540.05 1363.52Z" fill="none" stroke="#ff0000" stroke-width="1.3" stroke-linejoin="miter"/>
<path d="M366.89 1476.3L369.56 1481.01L364.21 1481.01Z" fill="none" stroke="#ff0000" stroke-width="1.3" stroke-linejoin="miter"/>
<path d="M547.71 1358.82L550.38 1363.52L545.03 1363.52Z" fill="none" stroke="#ff0000" stroke-width="1.3" stroke-linejoin="miter"/>
<path d="M366.89 1471.41L369.56 1476.12L364.21 1476.12Z" fill="none" stroke="#ff0000" stroke-width="1.3" stroke-linejoin="miter"/>
<path d="M490.58 1359.81L493.25 1364.52L487.9 1364.52Z" fill="none" stroke="#ff0000" stroke-width="1.3" stroke-linejoin="miter"/>
<path d="M365.87 1527.45L368.55 1532.16L363.2 1532.16Z" fill="none" stroke="#ff0000" stroke-width="1.3" stroke-linejoin="miter"/>
<path d="M488.88 1363.3L491.56 1368.01L486.21 1368.01Z" fill="none" stroke="#ff0000" stroke-width="1.3" stroke-linejoin="miter"/>
<path d="M362.31 1529.11L364.99 1533.82L359.64 1533.82Z" fill="none" stroke="#ff0000" stroke-width="1.3" stroke-linejoin="miter"/>
<path d="M536.74 1369.58L539.41 1374.29L534.06 1374.29Z" fill="none" stroke="#ff0000" stroke-width="1.3" stroke-linejoin="miter"/>
<path d="M355.91 1482.17L358.58 1486.88L353.23 1486.88Z" fill="none" stroke="#ff0000" stroke-width="1.3" stroke-linejoin="miter"/>
<path d="M468.64 1373.27L471.32 1377.98L465.97 1377.98Z" fill="none" stroke="#ff0000" stroke-width="1.3" stroke-linejoin="miter"/>
<path d="M352.15 1548.96L354.82 1553.67L349.47 1553.67Z" fill="none" stroke="#ff0000" stroke-width="1.3" stroke-linejoin="miter"/>
<path d="M552.98 1282.41H560.38M556.68 1278.71V1286.11" fill="none" stroke="#00cd00" stroke-width="1.3"/>
<path d="M443.49 1464.97H450.89M447.19 1461.27V1468.67" fill="none" stroke="#00cd00" stroke-width="1.3"/>
<path d="M522.07 1307.13H529.47M525.77 1303.43V1310.83" fill="none" stroke="#00cd00" stroke-width="1.3"/>
<path d="M418.28 1495.28H425.68M421.98 1491.58V1498.98" fill="none" stroke="#00cd00" stroke-width="1.3"/>
<path d="M513.6 1316.8H521M517.3 1313.1V1320.5" fill="none" stroke="#00cd00" stroke-width="1.3"/>
<path d="M408.42 1503.59H415.82M412.12 1499.89V1507.29" fill="none" stroke="#00cd00" stroke-width="1.3"/>
<path d="M523.57 1322.09H530.97M527.27 1318.39V1325.79" fill="none" stroke="#00cd00" stroke-width="1.3"/>
<path d="M403.04 1493.82H410.44M406.74 1490.12V1497.52" fill="none" stroke="#00cd00" stroke-width="1.3"/>
<path d="M518.08 1329.46H525.48M521.78 1325.76V1333.16" fill="none" stroke="#00cd00" stroke-width="1.3"/>
<path d="M395.51 1499.19H402.91M399.21 1495.49V1502.89" fill="none" stroke="#00cd00" stroke-width="1.3"/>
<path d="M492.16 1332.56H499.56M495.86 1328.86V1336.26" fill="none" stroke="#00cd00" stroke-width="1.3"/>
<path d="M392.36 1524.62H399.76M396.06 1520.92V1528.32" fill="none" stroke="#00cd00" stroke-width="1.3"/>
<path d="M540.02 1378.12H547.42M543.72 1374.42V1381.82" fill="none" stroke="#00cd00" stroke-width="1.3"/>
<path d="M345.91 1477.68H353.31M349.61 1473.98V1481.38" fill="none" stroke="#00cd00" stroke-width="1.3"/>
<path d="M545.3 1378.12H552.7M549 1374.42V1381.82" fill="none" stroke="#00cd00" stroke-width="1.3"/>
<path d="M345.91 1472.5H353.31M349.61 1468.8V1476.2" fill="none" stroke="#00cd00" stroke-width="1.3"/>
<path d="M546.7 1381.61H554.1M550.4 1377.91V1385.31" fill="none" stroke="#00cd00" stroke-width="1.3"/>
<path d="M342.35 1471.13H349.75M346.05 1467.43V1474.83" fill="none" stroke="#00cd00" stroke-width="1.3"/>
<path d="M583.89 1379.32H591.29M587.59 1375.62V1383.02" fill="none" stroke="#00cd00" stroke-width="1.3"/>
<path d="M344.69 1434.65H352.09M348.39 1430.95V1438.35" fill="none" stroke="#00cd00" stroke-width="1.3"/>
<path d="M514.6 1402.55H522M518.3 1398.85V1406.25" fill="none" stroke="#00cd00" stroke-width="1.3"/>
<path d="M321 1502.62H328.4M324.7 1498.92V1506.32" fill="none" stroke="#00cd00" stroke-width="1.3"/>
<path d="M563.45 1406.03H570.85M567.15 1402.33V1409.73" fill="none" stroke="#00cd00" stroke-width="1.3"/>
<path d="M317.45 1454.7H324.85M321.15 1451V1458.4" fill="none" stroke="#00cd00" stroke-width="1.3"/>
<path d="M674.27 1318.44L676.94 1323.14L671.59 1323.14Z" fill="none" stroke="#ff0000" stroke-width="1.3" stroke-linejoin="miter"/>
<path d="M408.06 1637.23L410.73 1641.94L405.38 1641.94Z" fill="none" stroke="#ff0000" stroke-width="1.3" stroke-linejoin="miter"/>
<path d="M693.91 1339.37L696.58 1344.08L691.23 1344.08Z" fill="none" stroke="#ff0000" stroke-width="1.3" stroke-linejoin="miter"/>
<path d="M386.71 1617.97L389.39 1622.67L384.04 1622.67Z" fill="none" stroke="#ff0000" stroke-width="1.3" stroke-linejoin="miter"/>
<path d="M663.3 1345.36L665.98 1350.06L660.63 1350.06Z" fill="none" stroke="#ff0000" stroke-width="1.3" stroke-linejoin="miter"/>
<path d="M380.61 1647.99L383.29 1652.7L377.94 1652.7Z" fill="none" stroke="#ff0000" stroke-width="1.3" stroke-linejoin="miter"/>
<path d="M692.01 1345.36L694.69 1350.06L689.34 1350.06Z" fill="none" stroke="#ff0000" stroke-width="1.3" stroke-linejoin="miter"/>
<path d="M380.61 1619.82L383.29 1624.53L377.94 1624.53Z" fill="none" stroke="#ff0000" stroke-width="1.3" stroke-linejoin="miter"/>
<path d="M682.24 1350.34L684.92 1355.05L679.57 1355.05Z" fill="none" stroke="#ff0000" stroke-width="1.3" stroke-linejoin="miter"/>
<path d="M375.53 1629.41L378.2 1634.12L372.85 1634.12Z" fill="none" stroke="#ff0000" stroke-width="1.3" stroke-linejoin="miter"/>
<path d="M710.16 1351.04L712.84 1355.75L707.49 1355.75Z" fill="none" stroke="#ff0000" stroke-width="1.3" stroke-linejoin="miter"/>
<path d="M374.82 1602.03L377.49 1606.73L372.14 1606.73Z" fill="none" stroke="#ff0000" stroke-width="1.3" stroke-linejoin="miter"/>
<path d="M642.16 1358.82L644.84 1363.52L639.49 1363.52Z" fill="none" stroke="#ff0000" stroke-width="1.3" stroke-linejoin="miter"/>
<path d="M366.89 1668.72L369.56 1673.43L364.21 1673.43Z" fill="none" stroke="#ff0000" stroke-width="1.3" stroke-linejoin="miter"/>
<path d="M679.05 1358.82L681.73 1363.52L676.38 1363.52Z" fill="none" stroke="#ff0000" stroke-width="1.3" stroke-linejoin="miter"/>
<path d="M366.89 1632.54L369.56 1637.24L364.21 1637.24Z" fill="none" stroke="#ff0000" stroke-width="1.3" stroke-linejoin="miter"/>
<path d="M717.94 1359.81L720.61 1364.52L715.26 1364.52Z" fill="none" stroke="#ff0000" stroke-width="1.3" stroke-linejoin="miter"/>
<path d="M365.87 1594.4L368.55 1599.11L363.2 1599.11Z" fill="none" stroke="#ff0000" stroke-width="1.3" stroke-linejoin="miter"/>
<path d="M720.13 1363.3L722.81 1368.01L717.46 1368.01Z" fill="none" stroke="#ff0000" stroke-width="1.3" stroke-linejoin="miter"/>
<path d="M362.31 1592.25L364.99 1596.96L359.64 1596.96Z" fill="none" stroke="#ff0000" stroke-width="1.3" stroke-linejoin="miter"/>
<path d="M723.42 1369.58L726.1 1374.29L720.75 1374.29Z" fill="none" stroke="#ff0000" stroke-width="1.3" stroke-linejoin="miter"/>
<path d="M355.91 1589.02L358.58 1593.73L353.23 1593.73Z" fill="none" stroke="#ff0000" stroke-width="1.3" stroke-linejoin="miter"/>
<path d="M711.66 1373.27L714.33 1377.98L708.98 1377.98Z" fill="none" stroke="#ff0000" stroke-width="1.3" stroke-linejoin="miter"/>
<path d="M352.15 1600.56L354.82 1605.27L349.47 1605.27Z" fill="none" stroke="#ff0000" stroke-width="1.3" stroke-linejoin="miter"/>
<path d="M706.46 1282.41H713.86M710.16 1278.71V1286.11" fill="none" stroke="#00cd00" stroke-width="1.3"/>
<path d="M443.49 1604.38H450.89M447.19 1600.68V1608.08" fill="none" stroke="#00cd00" stroke-width="1.3"/>
<path d="M671.57 1307.13H678.97M675.27 1303.43V1310.83" fill="none" stroke="#00cd00" stroke-width="1.3"/>
<path d="M418.28 1638.61H425.68M421.98 1634.91V1642.31" fill="none" stroke="#00cd00" stroke-width="1.3"/>
<path d="M719.42 1316.8H726.82M723.12 1313.1V1320.5" fill="none" stroke="#00cd00" stroke-width="1.3"/>
<path d="M408.42 1591.67H415.82M412.12 1587.97V1595.37" fill="none" stroke="#00cd00" stroke-width="1.3"/>
<path d="M711.74 1322.09H719.14M715.44 1318.39V1325.79" fill="none" stroke="#00cd00" stroke-width="1.3"/>
<path d="M403.04 1599.2H410.44M406.74 1595.5V1602.9" fill="none" stroke="#00cd00" stroke-width="1.3"/>
<path d="M666.38 1329.46H673.78M670.08 1325.76V1333.16" fill="none" stroke="#00cd00" stroke-width="1.3"/>
<path d="M395.51 1643.69H402.91M399.21 1639.99V1647.39" fill="none" stroke="#00cd00" stroke-width="1.3"/>
<path d="M680.74 1332.56H688.14M684.44 1328.86V1336.26" fill="none" stroke="#00cd00" stroke-width="1.3"/>
<path d="M392.36 1629.61H399.76M396.06 1625.91V1633.31" fill="none" stroke="#00cd00" stroke-width="1.3"/>
<path d="M694.5 1378.12H701.9M698.2 1374.42V1381.82" fill="none" stroke="#00cd00" stroke-width="1.3"/>
<path d="M345.91 1616.12H353.31M349.61 1612.42V1619.82" fill="none" stroke="#00cd00" stroke-width="1.3"/>
<path d="M699.78 1378.12H707.18M703.48 1374.42V1381.82" fill="none" stroke="#00cd00" stroke-width="1.3"/>
<path d="M345.91 1610.93H353.31M349.61 1607.23V1614.63" fill="none" stroke="#00cd00" stroke-width="1.3"/>
<path d="M671.57 1381.61H678.97M675.27 1377.91V1385.31" fill="none" stroke="#00cd00" stroke-width="1.3"/>
<path d="M342.35 1638.61H349.75M346.05 1634.91V1642.31" fill="none" stroke="#00cd00" stroke-width="1.3"/>
<path d="M735.17 1379.32H742.57M738.87 1375.62V1383.02" fill="none" stroke="#00cd00" stroke-width="1.3"/>
<path d="M344.69 1576.22H352.09M348.39 1572.52V1579.92" fill="none" stroke="#00cd00" stroke-width="1.3"/>
<path d="M611.94 1402.55H619.34M615.64 1398.85V1406.25" fill="none" stroke="#00cd00" stroke-width="1.3"/>
<path d="M321 1697.08H328.4M324.7 1693.38V1700.78" fill="none" stroke="#00cd00" stroke-width="1.3"/>
<path d="M736.57 1406.03H743.97M740.27 1402.33V1409.73" fill="none" stroke="#00cd00" stroke-width="1.3"/>
<path d="M317.45 1574.85H324.85M321.15 1571.15V1578.55" fill="none" stroke="#00cd00" stroke-width="1.3"/>
<path d="M693.91 1425.05L696.58 1429.76L691.23 1429.76Z" fill="none" stroke="#ff0000" stroke-width="1.3" stroke-linejoin="miter"/>
<path d="M594.97 1617.97L597.65 1622.67L592.3 1622.67Z" fill="none" stroke="#ff0000" stroke-width="1.3" stroke-linejoin="miter"/>
<path d="M674.27 1449.78L676.94 1454.49L671.59 1454.49Z" fill="none" stroke="#ff0000" stroke-width="1.3" stroke-linejoin="miter"/>
<path d="M569.76 1637.23L572.44 1641.94L567.09 1641.94Z" fill="none" stroke="#ff0000" stroke-width="1.3" stroke-linejoin="miter"/>
<path d="M663.3 1463.94L665.98 1468.65L660.63 1468.65Z" fill="none" stroke="#ff0000" stroke-width="1.3" stroke-linejoin="miter"/>
<path d="M555.33 1647.99L558 1652.7L552.65 1652.7Z" fill="none" stroke="#ff0000" stroke-width="1.3" stroke-linejoin="miter"/>
<path d="M682.24 1465.13L684.92 1469.84L679.57 1469.84Z" fill="none" stroke="#ff0000" stroke-width="1.3" stroke-linejoin="miter"/>
<path d="M554.11 1629.41L556.79 1634.12L551.44 1634.12Z" fill="none" stroke="#ff0000" stroke-width="1.3" stroke-linejoin="miter"/>
<path d="M679.05 1470.92L681.73 1475.63L676.38 1475.63Z" fill="none" stroke="#ff0000" stroke-width="1.3" stroke-linejoin="miter"/>
<path d="M548.21 1632.54L550.89 1637.24L545.54 1637.24Z" fill="none" stroke="#ff0000" stroke-width="1.3" stroke-linejoin="miter"/>
<path d="M642.16 1475.4L644.84 1480.11L639.49 1480.11Z" fill="none" stroke="#ff0000" stroke-width="1.3" stroke-linejoin="miter"/>
<path d="M543.64 1668.72L546.32 1673.43L540.97 1673.43Z" fill="none" stroke="#ff0000" stroke-width="1.3" stroke-linejoin="miter"/>
<path d="M692.01 1476.9L694.69 1481.61L689.34 1481.61Z" fill="none" stroke="#ff0000" stroke-width="1.3" stroke-linejoin="miter"/>
<path d="M542.12 1619.82L544.79 1624.53L539.44 1624.53Z" fill="none" stroke="#ff0000" stroke-width="1.3" stroke-linejoin="miter"/>
<path d="M723.42 1480.89L726.1 1485.6L720.75 1485.6Z" fill="none" stroke="#ff0000" stroke-width="1.3" stroke-linejoin="miter"/>
<path d="M538.05 1589.02L540.72 1593.73L535.37 1593.73Z" fill="none" stroke="#ff0000" stroke-width="1.3" stroke-linejoin="miter"/>
<path d="M710.16 1487.37L712.84 1492.08L707.49 1492.08Z" fill="none" stroke="#ff0000" stroke-width="1.3" stroke-linejoin="miter"/>
<path d="M531.44 1602.03L534.12 1606.73L528.77 1606.73Z" fill="none" stroke="#ff0000" stroke-width="1.3" stroke-linejoin="miter"/>
<path d="M717.94 1526.75L720.61 1531.46L715.26 1531.46Z" fill="none" stroke="#ff0000" stroke-width="1.3" stroke-linejoin="miter"/>
<path d="M491.29 1594.4L493.96 1599.11L488.61 1599.11Z" fill="none" stroke="#ff0000" stroke-width="1.3" stroke-linejoin="miter"/>
<path d="M720.13 1529.24L722.81 1533.95L717.46 1533.95Z" fill="none" stroke="#ff0000" stroke-width="1.3" stroke-linejoin="miter"/>
<path d="M488.75 1592.25L491.42 1596.96L486.07 1596.96Z" fill="none" stroke="#ff0000" stroke-width="1.3" stroke-linejoin="miter"/>
<path d="M711.66 1548.19L714.33 1552.89L708.98 1552.89Z" fill="none" stroke="#ff0000" stroke-width="1.3" stroke-linejoin="miter"/>
<path d="M469.43 1600.56L472.11 1605.27L466.76 1605.27Z" fill="none" stroke="#ff0000" stroke-width="1.3" stroke-linejoin="miter"/>
<path d="M735.17 1433.89H742.57M738.87 1430.19V1437.59" fill="none" stroke="#00cd00" stroke-width="1.3"/>
<path d="M584.67 1576.22H592.07M588.37 1572.52V1579.92" fill="none" stroke="#00cd00" stroke-width="1.3"/>
<path d="M736.57 1454.53H743.97M740.27 1450.83V1458.23" fill="none" stroke="#00cd00" stroke-width="1.3"/>
<path d="M563.62 1574.85H571.02M567.32 1571.15V1578.55" fill="none" stroke="#00cd00" stroke-width="1.3"/>
<path d="M706.46 1464.6H713.86M710.16 1460.9V1468.3" fill="none" stroke="#00cd00" stroke-width="1.3"/>
<path d="M553.36 1604.38H560.76M557.06 1600.68V1608.08" fill="none" stroke="#00cd00" stroke-width="1.3"/>
<path d="M671.57 1470.78H678.97M675.27 1467.08V1474.48" fill="none" stroke="#00cd00" stroke-width="1.3"/>
<path d="M547.06 1638.61H554.46M550.76 1634.91V1642.31" fill="none" stroke="#00cd00" stroke-width="1.3"/>
<path d="M694.5 1471.28H701.9M698.2 1467.58V1474.98" fill="none" stroke="#00cd00" stroke-width="1.3"/>
<path d="M546.55 1616.12H553.95M550.25 1612.42V1619.82" fill="none" stroke="#00cd00" stroke-width="1.3"/>
<path d="M699.78 1476.56H707.18M703.48 1472.86V1480.26" fill="none" stroke="#00cd00" stroke-width="1.3"/>
<path d="M541.16 1610.93H548.56M544.86 1607.23V1614.63" fill="none" stroke="#00cd00" stroke-width="1.3"/>
<path d="M711.74 1493.21H719.14M715.44 1489.51V1496.91" fill="none" stroke="#00cd00" stroke-width="1.3"/>
<path d="M524.18 1599.2H531.58M527.88 1595.5V1602.9" fill="none" stroke="#00cd00" stroke-width="1.3"/>
<path d="M671.57 1494.71H678.97M675.27 1491.01V1498.41" fill="none" stroke="#00cd00" stroke-width="1.3"/>
<path d="M522.66 1638.61H530.06M526.36 1634.91V1642.31" fill="none" stroke="#00cd00" stroke-width="1.3"/>
<path d="M666.38 1498.69H673.78M670.08 1494.99V1502.39" fill="none" stroke="#00cd00" stroke-width="1.3"/>
<path d="M518.59 1643.69H525.99M522.29 1639.99V1647.39" fill="none" stroke="#00cd00" stroke-width="1.3"/>
<path d="M719.42 1503.48H726.82M723.12 1499.78V1507.18" fill="none" stroke="#00cd00" stroke-width="1.3"/>
<path d="M513.71 1591.67H521.11M517.41 1587.97V1595.37" fill="none" stroke="#00cd00" stroke-width="1.3"/>
<path d="M611.94 1502.38H619.34M615.64 1498.68V1506.08" fill="none" stroke="#00cd00" stroke-width="1.3"/>
<path d="M514.83 1697.08H522.23M518.53 1693.38V1700.78" fill="none" stroke="#00cd00" stroke-width="1.3"/>
<path d="M680.74 1524.62H688.14M684.44 1520.92V1528.32" fill="none" stroke="#00cd00" stroke-width="1.3"/>
<path d="M492.16 1629.61H499.56M495.86 1625.91V1633.31" fill="none" stroke="#00cd00" stroke-width="1.3"/>
<path d="M30.2 1702.38H156.6" stroke="#111" stroke-width="1.2"/>
<path d="M746.35 1111.5V987.53" stroke="#111" stroke-width="1.2"/>
<path d="M30.2 1702.08V1708.38" stroke="#111" stroke-width="1.2"/>
<text x="30.2" y="1725.88" font-size="10" text-anchor="middle">-4</text>
<path d="M746.05 1111.5H752.35" stroke="#111" stroke-width="1.2"/>
<g><text transform="translate(769.85 1111.5) rotate(-90)" font-size="11" text-anchor="middle">-4</text></g>
<path d="M61.8 1702.08V1708.38" stroke="#111" stroke-width="1.2"/>
<text x="61.8" y="1725.88" font-size="10" text-anchor="middle">-2</text>
<path d="M746.05 1080.51H752.35" stroke="#111" stroke-width="1.2"/>
<g><text transform="translate(769.85 1080.51) rotate(-90)" font-size="11" text-anchor="middle">-2</text></g>
<path d="M93.4 1702.08V1708.38" stroke="#111" stroke-width="1.2"/>
<text x="93.4" y="1725.88" font-size="10" text-anchor="middle">0</text>
<path d="M746.05 1049.51H752.35" stroke="#111" stroke-width="1.2"/>
<g><text transform="translate(769.85 1049.51) rotate(-90)" font-size="11" text-anchor="middle">0</text></g>
<path d="M125 1702.08V1708.38" stroke="#111" stroke-width="1.2"/>
<text x="125" y="1725.88" font-size="10" text-anchor="middle">2</text>
<path d="M746.05 1018.52H752.35" stroke="#111" stroke-width="1.2"/>
<g><text transform="translate(769.85 1018.52) rotate(-90)" font-size="11" text-anchor="middle">2</text></g>
<path d="M156.6 1702.08V1708.38" stroke="#111" stroke-width="1.2"/>
<text x="156.6" y="1725.88" font-size="10" text-anchor="middle">4</text>
<path d="M746.05 987.53H752.35" stroke="#111" stroke-width="1.2"/>
<g clip-path="url(#clip4)"><text transform="translate(769.85 987.53) rotate(-90)" font-size="11" text-anchor="middle">4</text></g>
<path d="M172.9 986H301" stroke="#111" stroke-width="1.2"/>
<path d="M22.05 1261.49V1135.85" stroke="#111" stroke-width="1.2"/>
<path d="M172.9 986.3V980" stroke="#111" stroke-width="1.2"/>
<text x="172.9" y="974.1" font-size="10" text-anchor="middle">-4</text>
<path d="M22.35 1261.49H16.05" stroke="#111" stroke-width="1.2"/>
<text transform="translate(9.15 1261.49) rotate(-90)" font-size="11" text-anchor="middle">-4</text>
<path d="M191.2 986.3V980" stroke="#111" stroke-width="1.2"/>
<text x="191.2" y="974.1" font-size="10" text-anchor="middle">-3</text>
<path d="M22.35 1243.54H16.05" stroke="#111" stroke-width="1.2"/>
<text transform="translate(9.15 1243.54) rotate(-90)" font-size="11" text-anchor="middle">-3</text>
<path d="M209.5 986.3V980" stroke="#111" stroke-width="1.2"/>
<text x="209.5" y="974.1" font-size="10" text-anchor="middle">-2</text>
<path d="M22.35 1225.59H16.05" stroke="#111" stroke-width="1.2"/>
<text transform="translate(9.15 1225.59) rotate(-90)" font-size="11" text-anchor="middle">-2</text>
<path d="M227.8 986.3V980" stroke="#111" stroke-width="1.2"/>
<text x="227.8" y="974.1" font-size="10" text-anchor="middle">-1</text>
<path d="M22.35 1207.64H16.05" stroke="#111" stroke-width="1.2"/>
<text transform="translate(9.15 1207.64) rotate(-90)" font-size="11" text-anchor="middle">-1</text>
<path d="M246.1 986.3V980" stroke="#111" stroke-width="1.2"/>
<text x="246.1" y="974.1" font-size="10" text-anchor="middle">0</text>
<path d="M22.35 1189.69H16.05" stroke="#111" stroke-width="1.2"/>
<text transform="translate(9.15 1189.69) rotate(-90)" font-size="11" text-anchor="middle">0</text>
<path d="M264.4 986.3V980" stroke="#111" stroke-width="1.2"/>
<text x="264.4" y="974.1" font-size="10" text-anchor="middle">1</text>
<path d="M22.35 1171.74H16.05" stroke="#111" stroke-width="1.2"/>
<text transform="translate(9.15 1171.74) rotate(-90)" font-size="11" text-anchor="middle">1</text>
<path d="M282.7 986.3V980" stroke="#111" stroke-width="1.2"/>
<text x="282.7" y="974.1" font-size="10" text-anchor="middle">2</text>
<path d="M22.35 1153.79H16.05" stroke="#111" stroke-width="1.2"/>
<text transform="translate(9.15 1153.79) rotate(-90)" font-size="11" text-anchor="middle">2</text>
<path d="M301 986.3V980" stroke="#111" stroke-width="1.2"/>
<text x="301" y="974.1" font-size="10" text-anchor="middle">3</text>
<path d="M22.35 1135.85H16.05" stroke="#111" stroke-width="1.2"/>
<text transform="translate(9.15 1135.85) rotate(-90)" font-size="11" text-anchor="middle">3</text>
<path d="M334 1702.38H436.75" stroke="#111" stroke-width="1.2"/>
<path d="M746.35 1393.43V1292.65" stroke="#111" stroke-width="1.2"/>
<path d="M334 1702.08V1708.38" stroke="#111" stroke-width="1.2"/>
<text x="334" y="1725.88" font-size="10" text-anchor="middle">-2</text>
<path d="M746.05 1393.43H752.35" stroke="#111" stroke-width="1.2"/>
<g><text transform="translate(769.85 1393.43) rotate(-90)" font-size="11" text-anchor="middle">-2</text></g>
<path d="M354.55 1702.08V1708.38" stroke="#111" stroke-width="1.2"/>
<text x="354.55" y="1725.88" font-size="10" text-anchor="middle">-1</text>
<path d="M746.05 1373.27H752.35" stroke="#111" stroke-width="1.2"/>
<g><text transform="translate(769.85 1373.27) rotate(-90)" font-size="11" text-anchor="middle">-1</text></g>
<path d="M375.1 1702.08V1708.38" stroke="#111" stroke-width="1.2"/>
<text x="375.1" y="1725.88" font-size="10" text-anchor="middle">0</text>
<path d="M746.05 1353.12H752.35" stroke="#111" stroke-width="1.2"/>
<g><text transform="translate(769.85 1353.12) rotate(-90)" font-size="11" text-anchor="middle">0</text></g>
<path d="M395.65 1702.08V1708.38" stroke="#111" stroke-width="1.2"/>
<text x="395.65" y="1725.88" font-size="10" text-anchor="middle">1</text>
<path d="M746.05 1332.96H752.35" stroke="#111" stroke-width="1.2"/>
<g><text transform="translate(769.85 1332.96) rotate(-90)" font-size="11" text-anchor="middle">1</text></g>
<path d="M416.2 1702.08V1708.38" stroke="#111" stroke-width="1.2"/>
<text x="416.2" y="1725.88" font-size="10" text-anchor="middle">2</text>
<path d="M746.05 1312.8H752.35" stroke="#111" stroke-width="1.2"/>
<g><text transform="translate(769.85 1312.8) rotate(-90)" font-size="11" text-anchor="middle">2</text></g>
<path d="M436.75 1702.08V1708.38" stroke="#111" stroke-width="1.2"/>
<text x="436.75" y="1725.88" font-size="10" text-anchor="middle">3</text>
<path d="M746.05 1292.65H752.35" stroke="#111" stroke-width="1.2"/>
<g><text transform="translate(769.85 1292.65) rotate(-90)" font-size="11" text-anchor="middle">3</text></g>
<path d="M467.2 986H582.7" stroke="#111" stroke-width="1.2"/>
<path d="M22.05 1552.73V1439.45" stroke="#111" stroke-width="1.2"/>
<path d="M467.2 986.3V980" stroke="#111" stroke-width="1.2"/>
<text x="467.2" y="974.1" font-size="10" text-anchor="middle">-3</text>
<path d="M22.35 1552.73H16.05" stroke="#111" stroke-width="1.2"/>
<text transform="translate(9.15 1552.73) rotate(-90)" font-size="11" text-anchor="middle">-3</text>
<path d="M490.3 986.3V980" stroke="#111" stroke-width="1.2"/>
<text x="490.3" y="974.1" font-size="10" text-anchor="middle">-2</text>
<path d="M22.35 1530.07H16.05" stroke="#111" stroke-width="1.2"/>
<text transform="translate(9.15 1530.07) rotate(-90)" font-size="11" text-anchor="middle">-2</text>
<path d="M513.4 986.3V980" stroke="#111" stroke-width="1.2"/>
<text x="513.4" y="974.1" font-size="10" text-anchor="middle">-1</text>
<path d="M22.35 1507.42H16.05" stroke="#111" stroke-width="1.2"/>
<text transform="translate(9.15 1507.42) rotate(-90)" font-size="11" text-anchor="middle">-1</text>
<path d="M536.5 986.3V980" stroke="#111" stroke-width="1.2"/>
<text x="536.5" y="974.1" font-size="10" text-anchor="middle">0</text>
<path d="M22.35 1484.76H16.05" stroke="#111" stroke-width="1.2"/>
<text transform="translate(9.15 1484.76) rotate(-90)" font-size="11" text-anchor="middle">0</text>
<path d="M559.6 986.3V980" stroke="#111" stroke-width="1.2"/>
<text x="559.6" y="974.1" font-size="10" text-anchor="middle">1</text>
<path d="M22.35 1462.1H16.05" stroke="#111" stroke-width="1.2"/>
<text transform="translate(9.15 1462.1) rotate(-90)" font-size="11" text-anchor="middle">1</text>
<path d="M582.7 986.3V980" stroke="#111" stroke-width="1.2"/>
<text x="582.7" y="974.1" font-size="10" text-anchor="middle">2</text>
<path d="M22.35 1439.45H16.05" stroke="#111" stroke-width="1.2"/>
<text transform="translate(9.15 1439.45) rotate(-90)" font-size="11" text-anchor="middle">2</text>
<path d="M611.8 1702.38H735.85" stroke="#111" stroke-width="1.2"/>
<path d="M746.35 1700.85V1579.18" stroke="#111" stroke-width="1.2"/>
<path d="M611.8 1702.08V1708.38" stroke="#111" stroke-width="1.2"/>
<text x="611.8" y="1725.88" font-size="10" text-anchor="middle">-2.0</text>
<path d="M746.05 1700.85H752.35" stroke="#111" stroke-width="1.2"/>
<g><text transform="translate(769.85 1700.85) rotate(-90)" font-size="11" text-anchor="middle">-2.0</text></g>
<path d="M632.48 1702.08V1708.38" stroke="#111" stroke-width="1.2"/>
<path d="M746.05 1680.58H752.35" stroke="#111" stroke-width="1.2"/>
<path d="M653.15 1702.08V1708.38" stroke="#111" stroke-width="1.2"/>
<text x="653.15" y="1725.88" font-size="10" text-anchor="middle">-1.0</text>
<path d="M746.05 1660.3H752.35" stroke="#111" stroke-width="1.2"/>
<g><text transform="translate(769.85 1660.3) rotate(-90)" font-size="11" text-anchor="middle">-1.0</text></g>
<path d="M673.83 1702.08V1708.38" stroke="#111" stroke-width="1.2"/>
<path d="M746.05 1640.02H752.35" stroke="#111" stroke-width="1.2"/>
<path d="M694.5 1702.08V1708.38" stroke="#111" stroke-width="1.2"/>
<text x="694.5" y="1725.88" font-size="10" text-anchor="middle">0.0</text>
<path d="M746.05 1619.74H752.35" stroke="#111" stroke-width="1.2"/>
<g><text transform="translate(769.85 1619.74) rotate(-90)" font-size="11" text-anchor="middle">0.0</text></g>
<path d="M715.17 1702.08V1708.38" stroke="#111" stroke-width="1.2"/>
<path d="M746.05 1599.46H752.35" stroke="#111" stroke-width="1.2"/>
<path d="M735.85 1702.08V1708.38" stroke="#111" stroke-width="1.2"/>
<text x="735.85" y="1725.88" font-size="10" text-anchor="middle">1.0</text>
<path d="M746.05 1579.18H752.35" stroke="#111" stroke-width="1.2"/>
<g><text transform="translate(769.85 1579.18) rotate(-90)" font-size="11" text-anchor="middle">1.0</text></g>
</g>
<g>
<path d="M928.3 36.4V726.4" stroke="#d3d3d3" stroke-width="1.1"/>
<path d="M1023.6 36.4V726.4" stroke="#d3d3d3" stroke-width="1.1"/>
<path d="M1118.9 36.4V726.4" stroke="#d3d3d3" stroke-width="1.1"/>
<path d="M1214.2 36.4V726.4" stroke="#d3d3d3" stroke-width="1.1"/>
<path d="M1309.5 36.4V726.4" stroke="#d3d3d3" stroke-width="1.1"/>
<path d="M1404.8 36.4V726.4" stroke="#d3d3d3" stroke-width="1.1"/>
<path d="M1500.1 36.4V726.4" stroke="#d3d3d3" stroke-width="1.1"/>
<path d="M1595.4 36.4V726.4" stroke="#d3d3d3" stroke-width="1.1"/>
<path d="M917 54.4H1643.7" stroke="#d3d3d3" stroke-width="1.1"/>
<path d="M917 153.5H1643.7" stroke="#d3d3d3" stroke-width="1.1"/>
<path d="M917 252.6H1643.7" stroke="#d3d3d3" stroke-width="1.1"/>
<path d="M917 351.7H1643.7" stroke="#d3d3d3" stroke-width="1.1"/>
<path d="M917 450.8H1643.7" stroke="#d3d3d3" stroke-width="1.1"/>
<path d="M917 549.9H1643.7" stroke="#d3d3d3" stroke-width="1.1"/>
<path d="M917 649H1643.7" stroke="#d3d3d3" stroke-width="1.1"/>
<ellipse cx="1161.45" cy="380.9" rx="317" ry="56.23" transform="rotate(59.09 1161.45 380.9)" fill="#ff0000" fill-opacity="0.25"/>
<ellipse cx="1457.05" cy="322.2" rx="177.05" ry="41.96" transform="rotate(52.98 1457.05 322.2)" fill="#00cd00" fill-opacity="0.25"/>
<rect x="917" y="36.4" width="726.7" height="690" fill="none" stroke="#111" stroke-width="1.4"/>
<path d="M928.3 726.4V735.9" stroke="#222" stroke-width="1.1"/>
<text x="928.3" y="763.3" font-size="16.0" text-anchor="middle">-8</text>
<path d="M1023.6 726.4V735.9" stroke="#222" stroke-width="1.1"/>
<text x="1023.6" y="763.3" font-size="16.0" text-anchor="middle">-6</text>
<path d="M1118.9 726.4V735.9" stroke="#222" stroke-width="1.1"/>
<text x="1118.9" y="763.3" font-size="16.0" text-anchor="middle">-4</text>
<path d="M1214.2 726.4V735.9" stroke="#222" stroke-width="1.1"/>
<text x="1214.2" y="763.3" font-size="16.0" text-anchor="middle">-2</text>
<path d="M1309.5 726.4V735.9" stroke="#222" stroke-width="1.1"/>
<text x="1309.5" y="763.3" font-size="16.0" text-anchor="middle">0</text>
<path d="M1404.8 726.4V735.9" stroke="#222" stroke-width="1.1"/>
<text x="1404.8" y="763.3" font-size="16.0" text-anchor="middle">2</text>
<path d="M1500.1 726.4V735.9" stroke="#222" stroke-width="1.1"/>
<text x="1500.1" y="763.3" font-size="16.0" text-anchor="middle">4</text>
<path d="M1595.4 726.4V735.9" stroke="#222" stroke-width="1.1"/>
<text x="1595.4" y="763.3" font-size="16.0" text-anchor="middle">6</text>
<path d="M917 54.4H907.5" stroke="#222" stroke-width="1.1"/>
<text transform="translate(895.5 54.4) rotate(-90)" font-size="16.0" text-anchor="middle">6</text>
<path d="M917 153.5H907.5" stroke="#222" stroke-width="1.1"/>
<text transform="translate(895.5 153.5) rotate(-90)" font-size="16.0" text-anchor="middle">4</text>
<path d="M917 252.6H907.5" stroke="#222" stroke-width="1.1"/>
<text transform="translate(895.5 252.6) rotate(-90)" font-size="16.0" text-anchor="middle">2</text>
<path d="M917 351.7H907.5" stroke="#222" stroke-width="1.1"/>
<text transform="translate(895.5 351.7) rotate(-90)" font-size="16.0" text-anchor="middle">0</text>
<path d="M917 450.8H907.5" stroke="#222" stroke-width="1.1"/>
<text transform="translate(895.5 450.8) rotate(-90)" font-size="16.0" text-anchor="middle">-2</text>
<path d="M917 549.9H907.5" stroke="#222" stroke-width="1.1"/>
<text transform="translate(895.5 549.9) rotate(-90)" font-size="16.0" text-anchor="middle">-4</text>
<path d="M917 649H907.5" stroke="#222" stroke-width="1.1"/>
<text transform="translate(895.5 649) rotate(-90)" font-size="16.0" text-anchor="middle">-6</text>
<text x="1280.5" y="15.2" font-size="19.6" font-weight="bold" text-anchor="middle">Scores Plot</text>
<text x="1281" y="799" font-size="16.45" text-anchor="middle">Component 1 ( 49.7 %)</text>
<text transform="translate(854.8 381.3) rotate(-90)" font-size="15.85" text-anchor="middle">Component 2 ( 14.9 %)</text>
<path d="M1091.6 337.14L1096.1 345.06L1087.1 345.06Z" fill="none" stroke="#ff0000" stroke-width="1.4" stroke-linejoin="miter"/>
<path d="M1085.5 297.54L1090 305.46L1081 305.46Z" fill="none" stroke="#ff0000" stroke-width="1.4" stroke-linejoin="miter"/>
<path d="M1103.7 256.64L1108.2 264.56L1099.2 264.56Z" fill="none" stroke="#ff0000" stroke-width="1.4" stroke-linejoin="miter"/>
<path d="M1092.4 247.54L1096.9 255.46L1087.9 255.46Z" fill="none" stroke="#ff0000" stroke-width="1.4" stroke-linejoin="miter"/>
<path d="M1093.1 265.94L1097.6 273.86L1088.6 273.86Z" fill="none" stroke="#ff0000" stroke-width="1.4" stroke-linejoin="miter"/>
<path d="M1119.4 233.94L1123.9 241.86L1114.9 241.86Z" fill="none" stroke="#ff0000" stroke-width="1.4" stroke-linejoin="miter"/>
<path d="M1260 494.14L1264.5 502.06L1255.5 502.06Z" fill="none" stroke="#ff0000" stroke-width="1.4" stroke-linejoin="miter"/>
<path d="M1213.4 507.34L1217.9 515.26L1208.9 515.26Z" fill="none" stroke="#ff0000" stroke-width="1.4" stroke-linejoin="miter"/>
<path d="M1232.6 444.04L1237.1 451.96L1228.1 451.96Z" fill="none" stroke="#ff0000" stroke-width="1.4" stroke-linejoin="miter"/>
<path d="M1179.9 460.44L1184.4 468.36L1175.4 468.36Z" fill="none" stroke="#ff0000" stroke-width="1.4" stroke-linejoin="miter"/>
<path d="M1227.3 475.04L1231.8 482.96L1222.8 482.96Z" fill="none" stroke="#ff0000" stroke-width="1.4" stroke-linejoin="miter"/>
<path d="M1235.9 496.34L1240.4 504.26L1231.4 504.26Z" fill="none" stroke="#ff0000" stroke-width="1.4" stroke-linejoin="miter"/>
<path d="M1377.75 264.2H1388.25M1383 258.95V269.45" fill="none" stroke="#00cd00" stroke-width="1.25"/>
<path d="M1416.65 251.7H1427.15M1421.9 246.45V256.95" fill="none" stroke="#00cd00" stroke-width="1.25"/>
<path d="M1448.35 276.3H1458.85M1453.6 271.05V281.55" fill="none" stroke="#00cd00" stroke-width="1.25"/>
<path d="M1427.55 252.1H1438.05M1432.8 246.85V257.35" fill="none" stroke="#00cd00" stroke-width="1.25"/>
<path d="M1387.15 267.6H1397.65M1392.4 262.35V272.85" fill="none" stroke="#00cd00" stroke-width="1.25"/>
<path d="M1417.15 291H1427.65M1422.4 285.75V296.25" fill="none" stroke="#00cd00" stroke-width="1.25"/>
<path d="M1476.05 375.9H1486.55M1481.3 370.65V381.15" fill="none" stroke="#00cd00" stroke-width="1.25"/>
<path d="M1483.85 376.8H1494.35M1489.1 371.55V382.05" fill="none" stroke="#00cd00" stroke-width="1.25"/>
<path d="M1505.45 386.3H1515.95M1510.7 381.05V391.55" fill="none" stroke="#00cd00" stroke-width="1.25"/>
<path d="M1480.35 379H1490.85M1485.6 373.75V384.25" fill="none" stroke="#00cd00" stroke-width="1.25"/>
<path d="M1487.25 386.8H1497.75M1492.5 381.55V392.05" fill="none" stroke="#00cd00" stroke-width="1.25"/>
<path d="M1511.85 358.6H1522.35M1517.1 353.35V363.85" fill="none" stroke="#00cd00" stroke-width="1.25"/>
<text x="1101.8" y="345.1" font-size="12.45" fill="#111">G1-Cons-1</text>
<text x="1095.7" y="305.5" font-size="12.45" fill="#111">G1-Cons-2</text>
<text x="1113.9" y="264.6" font-size="12.45" fill="#111">G1-Cons-3</text>
<text x="1102.6" y="255.5" font-size="12.45" fill="#111">G1-Cons-4</text>
<text x="1103.3" y="273.9" font-size="12.45" fill="#111">G1-Cons-5</text>
<text x="1129.6" y="241.9" font-size="12.45" fill="#111">G1-Cons-6</text>
<text x="1270.2" y="502.1" font-size="12.45" fill="#111">G1-Cons-7</text>
<text x="1223.6" y="515.3" font-size="12.45" fill="#111">G1-Cons-8</text>
<text x="1242.8" y="452" font-size="12.45" fill="#111">G1-Cons-9</text>
<text x="1190.1" y="468.4" font-size="12.45" fill="#111">G1-Cons-10</text>
<text x="1237.5" y="483" font-size="12.45" fill="#111">G1-Cons-11</text>
<text x="1246.1" y="504.3" font-size="12.45" fill="#111">G1-Cons-12</text>
<text x="1393.2" y="268.2" font-size="12.45" fill="#111">G1-WD-1</text>
<text x="1432.1" y="255.7" font-size="12.45" fill="#111">G1-WD-4</text>
<text x="1463.8" y="280.3" font-size="12.45" fill="#111">G1-WD-3</text>
<text x="1443" y="256.1" font-size="12.45" fill="#111">G1-WD-2</text>
<text x="1402.6" y="271.6" font-size="12.45" fill="#111">G1-WD-5</text>
<text x="1432.6" y="295" font-size="12.45" fill="#111">G1-WD-6</text>
<text x="1491.5" y="379.9" font-size="12.45" fill="#111">G1-WD-7</text>
<text x="1499.3" y="380.8" font-size="12.45" fill="#111">G1-WD-8</text>
<text x="1520.9" y="390.3" font-size="12.45" fill="#111">G1-WD-9</text>
<text x="1495.8" y="383" font-size="12.45" fill="#111">G1-WD-10</text>
<text x="1502.7" y="390.8" font-size="12.45" fill="#111">G1-WD-11</text>
<text x="1527.3" y="362.6" font-size="12.45" fill="#111">G1-WD-12</text>
<rect x="1521.4" y="36.4" width="122.3" height="55.7" fill="#fff" stroke="#222" stroke-width="1.1"/>
<path d="M1536.5 50.24L1541 58.16L1532 58.16Z" fill="none" stroke="#ff0000" stroke-width="1.4" stroke-linejoin="miter"/>
<path d="M1531.25 73.9H1541.75M1536.5 68.65V79.15" fill="none" stroke="#00cd00" stroke-width="1.25"/>
<text x="1551.6" y="60.2" font-size="16.4">Consurtium</text>
<text x="1551.6" y="79.7" font-size="16.4">Drought</text>
</g>
<g>
<path d="M921.7 976V1666.3" stroke="#d3d3d3" stroke-width="1.1"/>
<path d="M1047.2 976V1666.3" stroke="#d3d3d3" stroke-width="1.1"/>
<path d="M1172.7 976V1666.3" stroke="#d3d3d3" stroke-width="1.1"/>
<path d="M1298.2 976V1666.3" stroke="#d3d3d3" stroke-width="1.1"/>
<path d="M1423.7 976V1666.3" stroke="#d3d3d3" stroke-width="1.1"/>
<path d="M1549.2 976V1666.3" stroke="#d3d3d3" stroke-width="1.1"/>
<path d="M906 1108.75H1607.1" stroke="#d3d3d3" stroke-width="1.1"/>
<path d="M906 1305H1607.1" stroke="#d3d3d3" stroke-width="1.1"/>
<path d="M906 1501.25H1607.1" stroke="#d3d3d3" stroke-width="1.1"/>
<ellipse cx="1127.9" cy="1320.95" rx="305.86" ry="60.75" transform="rotate(62.84 1127.9 1320.95)" fill="#ff0000" fill-opacity="0.25"/>
<ellipse cx="1468.8" cy="1289" rx="67.26" ry="35.07" transform="rotate(162.47 1468.8 1289)" fill="#00cd00" fill-opacity="0.25"/>
<rect x="906" y="976" width="701.1" height="690.3" fill="none" stroke="#111" stroke-width="1.4"/>
<path d="M921.7 1666.3V1675.8" stroke="#222" stroke-width="1.1"/>
<text x="921.7" y="1702" font-size="15.5" text-anchor="middle">-6</text>
<path d="M1047.2 1666.3V1675.8" stroke="#222" stroke-width="1.1"/>
<text x="1047.2" y="1702" font-size="15.5" text-anchor="middle">-4</text>
<path d="M1172.7 1666.3V1675.8" stroke="#222" stroke-width="1.1"/>
<text x="1172.7" y="1702" font-size="15.5" text-anchor="middle">-2</text>
<path d="M1298.2 1666.3V1675.8" stroke="#222" stroke-width="1.1"/>
<text x="1298.2" y="1702" font-size="15.5" text-anchor="middle">0</text>
<path d="M1423.7 1666.3V1675.8" stroke="#222" stroke-width="1.1"/>
<text x="1423.7" y="1702" font-size="15.5" text-anchor="middle">2</text>
<path d="M1549.2 1666.3V1675.8" stroke="#222" stroke-width="1.1"/>
<text x="1549.2" y="1702" font-size="15.5" text-anchor="middle">4</text>
<path d="M906 1108.75H896.5" stroke="#222" stroke-width="1.1"/>
<text transform="translate(885 1108.75) rotate(-90)" font-size="15.5" text-anchor="middle">5</text>
<path d="M906 1305H896.5" stroke="#222" stroke-width="1.1"/>
<text transform="translate(885 1305) rotate(-90)" font-size="15.5" text-anchor="middle">0</text>
<path d="M906 1501.25H896.5" stroke="#222" stroke-width="1.1"/>
<text transform="translate(885 1501.25) rotate(-90)" font-size="15.5" text-anchor="middle">-5</text>
<text x="1256.5" y="955" font-size="19.2" font-weight="bold" text-anchor="middle">Scores Plot</text>
<text x="1256.8" y="1739.5" font-size="15.5" text-anchor="middle">Component 1 ( 35.1 %)</text>
<text transform="translate(847.2 1321.2) rotate(-90)" font-size="15.5" text-anchor="middle">Component 2 ( 18.3 %)</text>
<path d="M1155.2 1406.24L1159.7 1414.16L1150.7 1414.16Z" fill="none" stroke="#ff0000" stroke-width="1.4" stroke-linejoin="miter"/>
<path d="M1199.5 1430.34L1204 1438.26L1195 1438.26Z" fill="none" stroke="#ff0000" stroke-width="1.4" stroke-linejoin="miter"/>
<path d="M1164.9 1425.44L1169.4 1433.36L1160.4 1433.36Z" fill="none" stroke="#ff0000" stroke-width="1.4" stroke-linejoin="miter"/>
<path d="M1134.8 1421.24L1139.3 1429.16L1130.3 1429.16Z" fill="none" stroke="#ff0000" stroke-width="1.4" stroke-linejoin="miter"/>
<path d="M1207.2 1455.54L1211.7 1463.46L1202.7 1463.46Z" fill="none" stroke="#ff0000" stroke-width="1.4" stroke-linejoin="miter"/>
<path d="M1211.4 1397.14L1215.9 1405.06L1206.9 1405.06Z" fill="none" stroke="#ff0000" stroke-width="1.4" stroke-linejoin="miter"/>
<path d="M1055.6 1187.44L1060.1 1195.36L1051.1 1195.36Z" fill="none" stroke="#ff0000" stroke-width="1.4" stroke-linejoin="miter"/>
<path d="M1077.5 1227.54L1082 1235.46L1073 1235.46Z" fill="none" stroke="#ff0000" stroke-width="1.4" stroke-linejoin="miter"/>
<path d="M1123.5 1229.04L1128 1236.96L1119 1236.96Z" fill="none" stroke="#ff0000" stroke-width="1.4" stroke-linejoin="miter"/>
<path d="M1035.9 1206.24L1040.4 1214.16L1031.4 1214.16Z" fill="none" stroke="#ff0000" stroke-width="1.4" stroke-linejoin="miter"/>
<path d="M1104.3 1208.94L1108.8 1216.86L1099.8 1216.86Z" fill="none" stroke="#ff0000" stroke-width="1.4" stroke-linejoin="miter"/>
<path d="M1065.7 1205.64L1070.2 1213.56L1061.2 1213.56Z" fill="none" stroke="#ff0000" stroke-width="1.4" stroke-linejoin="miter"/>
<path d="M1494.75 1298.3H1505.25M1500 1293.05V1303.55" fill="none" stroke="#00cd00" stroke-width="1.25"/>
<path d="M1439.15 1278.9H1449.65M1444.4 1273.65V1284.15" fill="none" stroke="#00cd00" stroke-width="1.25"/>
<path d="M1471.45 1298.3H1481.95M1476.7 1293.05V1303.55" fill="none" stroke="#00cd00" stroke-width="1.25"/>
<path d="M1467.35 1296H1477.85M1472.6 1290.75V1301.25" fill="none" stroke="#00cd00" stroke-width="1.25"/>
<path d="M1524.55 1258H1535.05M1529.8 1252.75V1263.25" fill="none" stroke="#00cd00" stroke-width="1.25"/>
<path d="M1473.05 1277.3H1483.55M1478.3 1272.05V1282.55" fill="none" stroke="#00cd00" stroke-width="1.25"/>
<path d="M1449.15 1298.3H1459.65M1454.4 1293.05V1303.55" fill="none" stroke="#00cd00" stroke-width="1.25"/>
<path d="M1439.95 1298.3H1450.45M1445.2 1293.05V1303.55" fill="none" stroke="#00cd00" stroke-width="1.25"/>
<path d="M1440.75 1301.5H1451.25M1446 1296.25V1306.75" fill="none" stroke="#00cd00" stroke-width="1.25"/>
<path d="M1460.95 1294.2H1471.45M1466.2 1288.95V1299.45" fill="none" stroke="#00cd00" stroke-width="1.25"/>
<path d="M1434.05 1309.1H1444.55M1439.3 1303.85V1314.35" fill="none" stroke="#00cd00" stroke-width="1.25"/>
<path d="M1444.05 1263.6H1454.55M1449.3 1258.35V1268.85" fill="none" stroke="#00cd00" stroke-width="1.25"/>
<text x="1165.4" y="1413.5" font-size="12.0" fill="#111">G2-Cons-1</text>
<text x="1209.7" y="1437.6" font-size="12.0" fill="#111">G2-Cons-2</text>
<text x="1175.1" y="1432.7" font-size="12.0" fill="#111">G2-Cons-3</text>
<text x="1145" y="1428.5" font-size="12.0" fill="#111">G2-Cons-4</text>
<text x="1217.4" y="1462.8" font-size="12.0" fill="#111">G2-Cons-5</text>
<text x="1221.6" y="1404.4" font-size="12.0" fill="#111">G2-Cons-6</text>
<text x="1065.8" y="1194.7" font-size="12.0" fill="#111">G2-Cons-7</text>
<text x="1087.7" y="1234.8" font-size="12.0" fill="#111">G2-Cons-8</text>
<text x="1133.7" y="1236.3" font-size="12.0" fill="#111">G2-Cons-9</text>
<text x="1046.1" y="1213.5" font-size="12.0" fill="#111">G2-Cons-10</text>
<text x="1114.5" y="1216.2" font-size="12.0" fill="#111">G2-Cons-11</text>
<text x="1075.9" y="1212.9" font-size="12.0" fill="#111">G2-Cons-12</text>
<text x="1510.2" y="1301.6" font-size="12.0" fill="#111">G2-WD-1</text>
<text x="1454.6" y="1282.2" font-size="12.0" fill="#111">G2-WD-2</text>
<text x="1486.9" y="1301.6" font-size="12.0" fill="#111">G2-WD-3</text>
<text x="1482.8" y="1299.3" font-size="12.0" fill="#111">G2-WD-4</text>
<text x="1540" y="1261.3" font-size="12.0" fill="#111">G2-WD-5</text>
<text x="1488.5" y="1280.6" font-size="12.0" fill="#111">G2-WD-6</text>
<text x="1464.6" y="1301.6" font-size="12.0" fill="#111">G2-WD-7</text>
<text x="1455.4" y="1301.6" font-size="12.0" fill="#111">G2-WD-8</text>
<text x="1456.2" y="1304.8" font-size="12.0" fill="#111">G2-WD-9</text>
<text x="1476.4" y="1297.5" font-size="12.0" fill="#111">G2-WD-10</text>
<text x="1449.5" y="1312.4" font-size="12.0" fill="#111">G2-WD-11</text>
<text x="1459.5" y="1266.9" font-size="12.0" fill="#111">G2-WD-12</text>
<rect x="1488.5" y="976" width="118.6" height="56.5" fill="#fff" stroke="#222" stroke-width="1.1"/>
<path d="M1503 990.54L1507.5 998.46L1498.5 998.46Z" fill="none" stroke="#ff0000" stroke-width="1.4" stroke-linejoin="miter"/>
<path d="M1497.75 1013.6H1508.25M1503 1008.35V1018.85" fill="none" stroke="#00cd00" stroke-width="1.25"/>
<text x="1518.3" y="1000.5" font-size="15.75">Consurtium</text>
<text x="1518.3" y="1019.4" font-size="15.75">Drought</text>
</g>
<text class="ser" x="-0.8" y="860.2" font-size="44">(A)</text>
<text class="ser" x="-0.8" y="1795.7" font-size="44">(B)</text>
</svg></body></html>
